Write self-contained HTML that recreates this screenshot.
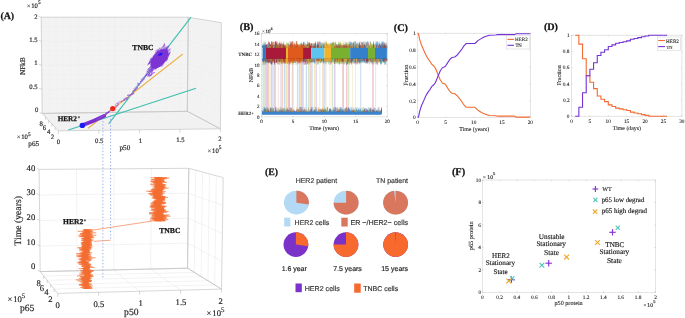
<!DOCTYPE html>
<html><head><meta charset="utf-8"><style>
html,body{margin:0;padding:0;background:#fff;width:685px;height:318px;overflow:hidden}
svg{display:block;filter:blur(0.35px)} text{text-rendering:geometricPrecision}
</style></head><body>
<svg width="685" height="318" viewBox="0 0 685 318">
<rect width="685" height="318" fill="#fff"/>
<polygon points="41.20,17.20 188.30,17.20 187.30,111.30 42.20,113.40" fill="#f3f3f3" stroke="none" stroke-width="1"/>
<polygon points="188.30,17.20 221.40,22.70 220.40,128.80 187.30,111.30" fill="#f3f3f3" stroke="none" stroke-width="1"/>
<polygon points="42.20,113.40 187.30,111.30 220.40,128.80 58.30,130.80" fill="#f3f3f3" stroke="none" stroke-width="1"/>
<line x1="48.56" y1="17.20" x2="49.46" y2="113.30" stroke="#efefef" stroke-width="0.5"/>
<line x1="55.91" y1="17.20" x2="56.71" y2="113.19" stroke="#efefef" stroke-width="0.5"/>
<line x1="63.27" y1="17.20" x2="63.97" y2="113.09" stroke="#efefef" stroke-width="0.5"/>
<line x1="70.62" y1="17.20" x2="71.22" y2="112.98" stroke="#efefef" stroke-width="0.5"/>
<line x1="77.98" y1="17.20" x2="78.48" y2="112.88" stroke="#eaeaea" stroke-width="0.5"/>
<line x1="85.33" y1="17.20" x2="85.73" y2="112.77" stroke="#efefef" stroke-width="0.5"/>
<line x1="92.69" y1="17.20" x2="92.99" y2="112.67" stroke="#efefef" stroke-width="0.5"/>
<line x1="100.04" y1="17.20" x2="100.24" y2="112.56" stroke="#efefef" stroke-width="0.5"/>
<line x1="107.40" y1="17.20" x2="107.50" y2="112.45" stroke="#efefef" stroke-width="0.5"/>
<line x1="114.75" y1="17.20" x2="114.75" y2="112.35" stroke="#eaeaea" stroke-width="0.5"/>
<line x1="122.11" y1="17.20" x2="122.01" y2="112.25" stroke="#efefef" stroke-width="0.5"/>
<line x1="129.46" y1="17.20" x2="129.26" y2="112.14" stroke="#efefef" stroke-width="0.5"/>
<line x1="136.82" y1="17.20" x2="136.52" y2="112.03" stroke="#efefef" stroke-width="0.5"/>
<line x1="144.17" y1="17.20" x2="143.77" y2="111.93" stroke="#efefef" stroke-width="0.5"/>
<line x1="151.53" y1="17.20" x2="151.03" y2="111.83" stroke="#eaeaea" stroke-width="0.5"/>
<line x1="158.88" y1="17.20" x2="158.28" y2="111.72" stroke="#efefef" stroke-width="0.5"/>
<line x1="166.24" y1="17.20" x2="165.54" y2="111.61" stroke="#efefef" stroke-width="0.5"/>
<line x1="173.59" y1="17.20" x2="172.79" y2="111.51" stroke="#efefef" stroke-width="0.5"/>
<line x1="180.94" y1="17.20" x2="180.05" y2="111.41" stroke="#efefef" stroke-width="0.5"/>
<line x1="41.25" y1="22.01" x2="188.25" y2="21.91" stroke="#efefef" stroke-width="0.5"/>
<line x1="41.30" y1="26.82" x2="188.20" y2="26.61" stroke="#efefef" stroke-width="0.5"/>
<line x1="41.35" y1="31.63" x2="188.15" y2="31.31" stroke="#efefef" stroke-width="0.5"/>
<line x1="41.40" y1="36.44" x2="188.10" y2="36.02" stroke="#efefef" stroke-width="0.5"/>
<line x1="41.45" y1="41.25" x2="188.05" y2="40.72" stroke="#eaeaea" stroke-width="0.5"/>
<line x1="41.50" y1="46.06" x2="188.00" y2="45.43" stroke="#efefef" stroke-width="0.5"/>
<line x1="41.55" y1="50.87" x2="187.95" y2="50.13" stroke="#efefef" stroke-width="0.5"/>
<line x1="41.60" y1="55.68" x2="187.90" y2="54.84" stroke="#efefef" stroke-width="0.5"/>
<line x1="41.65" y1="60.49" x2="187.85" y2="59.55" stroke="#efefef" stroke-width="0.5"/>
<line x1="41.70" y1="65.30" x2="187.80" y2="64.25" stroke="#eaeaea" stroke-width="0.5"/>
<line x1="41.75" y1="70.11" x2="187.75" y2="68.95" stroke="#efefef" stroke-width="0.5"/>
<line x1="41.80" y1="74.92" x2="187.70" y2="73.66" stroke="#efefef" stroke-width="0.5"/>
<line x1="41.85" y1="79.73" x2="187.65" y2="78.36" stroke="#efefef" stroke-width="0.5"/>
<line x1="41.90" y1="84.54" x2="187.60" y2="83.07" stroke="#efefef" stroke-width="0.5"/>
<line x1="41.95" y1="89.35" x2="187.55" y2="87.77" stroke="#eaeaea" stroke-width="0.5"/>
<line x1="42.00" y1="94.16" x2="187.50" y2="92.48" stroke="#efefef" stroke-width="0.5"/>
<line x1="42.05" y1="98.97" x2="187.45" y2="97.19" stroke="#efefef" stroke-width="0.5"/>
<line x1="42.10" y1="103.78" x2="187.40" y2="101.89" stroke="#efefef" stroke-width="0.5"/>
<line x1="42.15" y1="108.59" x2="187.35" y2="106.59" stroke="#efefef" stroke-width="0.5"/>
<line x1="190.85" y1="17.62" x2="189.85" y2="112.65" stroke="#efefef" stroke-width="0.5"/>
<line x1="193.39" y1="18.05" x2="192.39" y2="113.99" stroke="#efefef" stroke-width="0.5"/>
<line x1="195.94" y1="18.47" x2="194.94" y2="115.34" stroke="#efefef" stroke-width="0.5"/>
<line x1="198.48" y1="18.89" x2="197.48" y2="116.68" stroke="#efefef" stroke-width="0.5"/>
<line x1="201.03" y1="19.32" x2="200.03" y2="118.03" stroke="#efefef" stroke-width="0.5"/>
<line x1="203.58" y1="19.74" x2="202.58" y2="119.38" stroke="#efefef" stroke-width="0.5"/>
<line x1="206.12" y1="20.16" x2="205.12" y2="120.72" stroke="#efefef" stroke-width="0.5"/>
<line x1="208.67" y1="20.58" x2="207.67" y2="122.07" stroke="#efefef" stroke-width="0.5"/>
<line x1="211.22" y1="21.01" x2="210.22" y2="123.42" stroke="#efefef" stroke-width="0.5"/>
<line x1="213.76" y1="21.43" x2="212.76" y2="124.76" stroke="#efefef" stroke-width="0.5"/>
<line x1="216.31" y1="21.85" x2="215.31" y2="126.11" stroke="#efefef" stroke-width="0.5"/>
<line x1="218.85" y1="22.28" x2="217.85" y2="127.45" stroke="#efefef" stroke-width="0.5"/>
<line x1="188.25" y1="21.91" x2="221.35" y2="28.00" stroke="#efefef" stroke-width="0.5"/>
<line x1="188.20" y1="26.61" x2="221.30" y2="33.31" stroke="#efefef" stroke-width="0.5"/>
<line x1="188.15" y1="31.31" x2="221.25" y2="38.62" stroke="#efefef" stroke-width="0.5"/>
<line x1="188.10" y1="36.02" x2="221.20" y2="43.92" stroke="#efefef" stroke-width="0.5"/>
<line x1="188.05" y1="40.72" x2="221.15" y2="49.23" stroke="#eaeaea" stroke-width="0.5"/>
<line x1="188.00" y1="45.43" x2="221.10" y2="54.53" stroke="#efefef" stroke-width="0.5"/>
<line x1="187.95" y1="50.13" x2="221.05" y2="59.83" stroke="#efefef" stroke-width="0.5"/>
<line x1="187.90" y1="54.84" x2="221.00" y2="65.14" stroke="#efefef" stroke-width="0.5"/>
<line x1="187.85" y1="59.55" x2="220.95" y2="70.45" stroke="#efefef" stroke-width="0.5"/>
<line x1="187.80" y1="64.25" x2="220.90" y2="75.75" stroke="#eaeaea" stroke-width="0.5"/>
<line x1="187.75" y1="68.95" x2="220.85" y2="81.06" stroke="#efefef" stroke-width="0.5"/>
<line x1="187.70" y1="73.66" x2="220.80" y2="86.36" stroke="#efefef" stroke-width="0.5"/>
<line x1="187.65" y1="78.36" x2="220.75" y2="91.67" stroke="#efefef" stroke-width="0.5"/>
<line x1="187.60" y1="83.07" x2="220.70" y2="96.97" stroke="#efefef" stroke-width="0.5"/>
<line x1="187.55" y1="87.77" x2="220.65" y2="102.28" stroke="#eaeaea" stroke-width="0.5"/>
<line x1="187.50" y1="92.48" x2="220.60" y2="107.58" stroke="#efefef" stroke-width="0.5"/>
<line x1="187.45" y1="97.19" x2="220.55" y2="112.89" stroke="#efefef" stroke-width="0.5"/>
<line x1="187.40" y1="101.89" x2="220.50" y2="118.19" stroke="#efefef" stroke-width="0.5"/>
<line x1="187.35" y1="106.59" x2="220.45" y2="123.50" stroke="#efefef" stroke-width="0.5"/>
<line x1="49.46" y1="113.30" x2="66.41" y2="130.70" stroke="#efefef" stroke-width="0.5"/>
<line x1="56.71" y1="113.19" x2="74.51" y2="130.60" stroke="#efefef" stroke-width="0.5"/>
<line x1="63.97" y1="113.09" x2="82.61" y2="130.50" stroke="#efefef" stroke-width="0.5"/>
<line x1="71.22" y1="112.98" x2="90.72" y2="130.40" stroke="#efefef" stroke-width="0.5"/>
<line x1="78.48" y1="112.88" x2="98.83" y2="130.30" stroke="#eaeaea" stroke-width="0.5"/>
<line x1="85.73" y1="112.77" x2="106.93" y2="130.20" stroke="#efefef" stroke-width="0.5"/>
<line x1="92.99" y1="112.67" x2="115.03" y2="130.10" stroke="#efefef" stroke-width="0.5"/>
<line x1="100.24" y1="112.56" x2="123.14" y2="130.00" stroke="#efefef" stroke-width="0.5"/>
<line x1="107.50" y1="112.45" x2="131.25" y2="129.90" stroke="#efefef" stroke-width="0.5"/>
<line x1="114.75" y1="112.35" x2="139.35" y2="129.80" stroke="#eaeaea" stroke-width="0.5"/>
<line x1="122.01" y1="112.25" x2="147.46" y2="129.70" stroke="#efefef" stroke-width="0.5"/>
<line x1="129.26" y1="112.14" x2="155.56" y2="129.60" stroke="#efefef" stroke-width="0.5"/>
<line x1="136.52" y1="112.03" x2="163.67" y2="129.50" stroke="#efefef" stroke-width="0.5"/>
<line x1="143.77" y1="111.93" x2="171.77" y2="129.40" stroke="#efefef" stroke-width="0.5"/>
<line x1="151.03" y1="111.83" x2="179.88" y2="129.30" stroke="#eaeaea" stroke-width="0.5"/>
<line x1="158.28" y1="111.72" x2="187.98" y2="129.20" stroke="#efefef" stroke-width="0.5"/>
<line x1="165.54" y1="111.61" x2="196.09" y2="129.10" stroke="#efefef" stroke-width="0.5"/>
<line x1="172.79" y1="111.51" x2="204.19" y2="129.00" stroke="#efefef" stroke-width="0.5"/>
<line x1="180.05" y1="111.41" x2="212.30" y2="128.90" stroke="#efefef" stroke-width="0.5"/>
<line x1="43.44" y1="114.74" x2="189.85" y2="112.65" stroke="#efefef" stroke-width="0.5"/>
<line x1="44.68" y1="116.08" x2="192.39" y2="113.99" stroke="#efefef" stroke-width="0.5"/>
<line x1="45.92" y1="117.42" x2="194.94" y2="115.34" stroke="#efefef" stroke-width="0.5"/>
<line x1="47.15" y1="118.75" x2="197.48" y2="116.68" stroke="#efefef" stroke-width="0.5"/>
<line x1="48.39" y1="120.09" x2="200.03" y2="118.03" stroke="#efefef" stroke-width="0.5"/>
<line x1="49.63" y1="121.43" x2="202.58" y2="119.38" stroke="#efefef" stroke-width="0.5"/>
<line x1="50.87" y1="122.77" x2="205.12" y2="120.72" stroke="#efefef" stroke-width="0.5"/>
<line x1="52.11" y1="124.11" x2="207.67" y2="122.07" stroke="#efefef" stroke-width="0.5"/>
<line x1="53.35" y1="125.45" x2="210.22" y2="123.42" stroke="#efefef" stroke-width="0.5"/>
<line x1="54.58" y1="126.78" x2="212.76" y2="124.76" stroke="#efefef" stroke-width="0.5"/>
<line x1="55.82" y1="128.12" x2="215.31" y2="126.11" stroke="#efefef" stroke-width="0.5"/>
<line x1="57.06" y1="129.46" x2="217.85" y2="127.45" stroke="#efefef" stroke-width="0.5"/>
<polygon points="41.20,17.20 188.30,17.20 187.30,111.30 42.20,113.40" fill="none" stroke="#c4c4c4" stroke-width="0.7" stroke-linejoin="round"/>
<polygon points="188.30,17.20 221.40,22.70 220.40,128.80 187.30,111.30" fill="none" stroke="#c4c4c4" stroke-width="0.7" stroke-linejoin="round"/>
<polygon points="42.20,113.40 187.30,111.30 220.40,128.80 58.30,130.80" fill="none" stroke="#c4c4c4" stroke-width="0.7" stroke-linejoin="round"/>
<line x1="41.20" y1="17.20" x2="38.60" y2="16.30" stroke="#b0b0b0" stroke-width="0.5"/>
<line x1="41.45" y1="41.25" x2="38.85" y2="40.35" stroke="#b0b0b0" stroke-width="0.5"/>
<line x1="41.70" y1="65.30" x2="39.10" y2="64.40" stroke="#b0b0b0" stroke-width="0.5"/>
<line x1="41.95" y1="89.35" x2="39.35" y2="88.45" stroke="#b0b0b0" stroke-width="0.5"/>
<line x1="42.20" y1="113.40" x2="39.60" y2="112.50" stroke="#b0b0b0" stroke-width="0.5"/>
<line x1="58.30" y1="130.80" x2="58.30" y2="134.30" stroke="#b0b0b0" stroke-width="0.5"/>
<line x1="98.83" y1="130.30" x2="98.83" y2="133.80" stroke="#b0b0b0" stroke-width="0.5"/>
<line x1="139.35" y1="129.80" x2="139.35" y2="133.30" stroke="#b0b0b0" stroke-width="0.5"/>
<line x1="179.88" y1="129.30" x2="179.88" y2="132.80" stroke="#b0b0b0" stroke-width="0.5"/>
<line x1="220.40" y1="128.80" x2="220.40" y2="132.30" stroke="#b0b0b0" stroke-width="0.5"/>
<line x1="55.08" y1="127.32" x2="55.08" y2="130.32" stroke="#b0b0b0" stroke-width="0.5"/>
<line x1="51.86" y1="123.84" x2="51.86" y2="126.84" stroke="#b0b0b0" stroke-width="0.5"/>
<line x1="48.64" y1="120.36" x2="48.64" y2="123.36" stroke="#b0b0b0" stroke-width="0.5"/>
<line x1="45.42" y1="116.88" x2="45.42" y2="119.88" stroke="#b0b0b0" stroke-width="0.5"/>
<text x="34.27" y="18.90" style="font-family:'Liberation Serif',serif;font-size:6.70px" fill="#1e1e1e" stroke="#1e1e1e" stroke-width="0.16">2</text>
<text x="29.14" y="42.10" style="font-family:'Liberation Serif',serif;font-size:6.70px" fill="#1e1e1e" stroke="#1e1e1e" stroke-width="0.16">1.5</text>
<text x="34.30" y="65.30" style="font-family:'Liberation Serif',serif;font-size:6.70px" fill="#1e1e1e" stroke="#1e1e1e" stroke-width="0.16">1</text>
<text x="29.14" y="88.50" style="font-family:'Liberation Serif',serif;font-size:6.70px" fill="#1e1e1e" stroke="#1e1e1e" stroke-width="0.16">0.5</text>
<text x="35.07" y="111.60" style="font-family:'Liberation Serif',serif;font-size:6.70px" fill="#1e1e1e" stroke="#1e1e1e" stroke-width="0.16">0</text>
<text x="26.76" y="7.90" style="font-family:'Liberation Serif',serif;font-size:6.70px" fill="#1e1e1e" stroke="#1e1e1e" stroke-width="0.05">×</text>
<text x="31.25" y="7.90" style="font-family:'Liberation Serif',serif;font-size:6.70px" fill="#1e1e1e" stroke="#1e1e1e" stroke-width="0.16">10</text>
<text x="37.97" y="4.42" style="font-family:'Liberation Serif',serif;font-size:5.36px" fill="#1e1e1e" stroke="#1e1e1e" stroke-width="0.16">5</text>
<text x="25.20" y="74.97" style="font-family:'Liberation Serif',serif;font-size:7.26px" fill="#1e1e1e" stroke="#1e1e1e" stroke-width="0.16" transform="rotate(-90 25.20 74.97)">NFkB</text>
<text x="39.38" y="125.80" style="font-family:'Liberation Serif',serif;font-size:6.70px" fill="#1e1e1e" stroke="#1e1e1e" stroke-width="0.16">8</text>
<text x="42.75" y="130.10" style="font-family:'Liberation Serif',serif;font-size:6.70px" fill="#1e1e1e" stroke="#1e1e1e" stroke-width="0.16">6</text>
<text x="46.92" y="134.10" style="font-family:'Liberation Serif',serif;font-size:6.70px" fill="#1e1e1e" stroke="#1e1e1e" stroke-width="0.16">4</text>
<text x="50.75" y="139.10" style="font-family:'Liberation Serif',serif;font-size:6.70px" fill="#1e1e1e" stroke="#1e1e1e" stroke-width="0.16">2</text>
<text x="16.76" y="139.10" style="font-family:'Liberation Serif',serif;font-size:6.70px" fill="#1e1e1e" stroke="#1e1e1e" stroke-width="0.05">×</text>
<text x="21.25" y="139.10" style="font-family:'Liberation Serif',serif;font-size:6.70px" fill="#1e1e1e" stroke="#1e1e1e" stroke-width="0.16">10</text>
<text x="27.97" y="135.62" style="font-family:'Liberation Serif',serif;font-size:5.36px" fill="#1e1e1e" stroke="#1e1e1e" stroke-width="0.16">5</text>
<text x="28.34" y="146.20" style="font-family:'Liberation Serif',serif;font-size:7.20px" fill="#1e1e1e" stroke="#1e1e1e" stroke-width="0.16">p65</text>
<text x="56.78" y="143.70" style="font-family:'Liberation Serif',serif;font-size:6.70px" fill="#1e1e1e" stroke="#1e1e1e" stroke-width="0.16">0</text>
<text x="95.08" y="143.10" style="font-family:'Liberation Serif',serif;font-size:6.70px" fill="#1e1e1e" stroke="#1e1e1e" stroke-width="0.16">0.5</text>
<text x="138.75" y="142.60" style="font-family:'Liberation Serif',serif;font-size:6.70px" fill="#1e1e1e" stroke="#1e1e1e" stroke-width="0.16">1</text>
<text x="176.15" y="141.60" style="font-family:'Liberation Serif',serif;font-size:6.70px" fill="#1e1e1e" stroke="#1e1e1e" stroke-width="0.16">1.5</text>
<text x="218.35" y="140.80" style="font-family:'Liberation Serif',serif;font-size:6.70px" fill="#1e1e1e" stroke="#1e1e1e" stroke-width="0.16">2</text>
<text x="119.44" y="150.10" style="font-family:'Liberation Serif',serif;font-size:7.20px" fill="#1e1e1e" stroke="#1e1e1e" stroke-width="0.16">p50</text>
<text x="207.56" y="152.50" style="font-family:'Liberation Serif',serif;font-size:6.70px" fill="#1e1e1e" stroke="#1e1e1e" stroke-width="0.05">×</text>
<text x="212.05" y="152.50" style="font-family:'Liberation Serif',serif;font-size:6.70px" fill="#1e1e1e" stroke="#1e1e1e" stroke-width="0.16">10</text>
<text x="218.77" y="149.02" style="font-family:'Liberation Serif',serif;font-size:5.36px" fill="#1e1e1e" stroke="#1e1e1e" stroke-width="0.16">5</text>
<line x1="68.30" y1="130.00" x2="196.00" y2="88.20" stroke="#3dbfad" stroke-width="1.1"/>
<line x1="108.60" y1="123.80" x2="190.90" y2="17.40" stroke="#3dbfad" stroke-width="1.1"/>
<line x1="88.00" y1="128.40" x2="182.70" y2="54.10" stroke="#eda830" stroke-width="1.1"/>
<polyline points="101.09,119.43 100.95,118.59 102.34,116.85 105.07,116.62 104.10,116.53 105.94,115.24 106.24,113.78 106.17,113.66 106.09,112.09 106.61,112.62 108.70,111.94 109.71,110.42 110.36,111.23 111.89,109.65 111.64,107.99 112.26,107.27 112.15,109.68 112.16,108.85 115.15,107.29 115.98,107.49 117.23,106.25 116.47,105.36 116.83,105.30 117.72,105.75 117.46,103.24 119.00,101.79 122.28,100.95 121.03,102.08 123.49,100.21 123.61,100.84 123.15,100.40 124.50,99.48 124.50,100.32 126.87,97.34 127.23,99.85 126.06,98.77 126.72,99.48 127.97,97.31 128.22,96.82 128.91,95.71 131.57,94.28 127.11,95.39 130.87,95.34 131.17,94.40 132.01,94.94 131.67,93.27 134.18,93.62 131.90,94.77 133.84,91.68 132.44,92.02 133.11,90.33 133.05,90.37 135.57,89.97 133.62,90.49 135.34,90.19 136.72,88.81 135.87,88.46 135.34,88.64 137.95,87.73 136.86,86.87 136.73,85.92 137.42,85.42 137.75,84.29 138.82,85.29 137.82,82.72 139.21,85.31 138.91,83.42 139.42,83.98 139.46,83.82 140.37,83.30 141.03,81.79 139.96,80.99 141.34,81.81 142.08,80.19 142.51,81.32 142.29,79.64 142.36,80.37 143.48,78.41 143.62,78.43 142.90,79.58 144.60,77.42 144.21,78.13 143.85,77.18 145.31,75.28 145.29,77.16 145.81,74.76 146.00,74.65 146.58,75.44 146.62,73.67 146.25,74.59 146.33,73.73 147.96,72.50 150.01,72.28 150.15,69.86 146.55,72.03 149.50,70.33 149.24,68.36 149.08,68.61" fill="none" stroke="#8d4fe0" stroke-width="0.55" stroke-linejoin="round"/>
<ellipse cx="117" cy="104.5" rx="1.8" ry="1.26" fill="none" stroke="#9560e0" stroke-width="0.5" transform="rotate(-40 117 104.5)"/>
<ellipse cx="135.5" cy="88.5" rx="1.6" ry="1.1199999999999999" fill="none" stroke="#9560e0" stroke-width="0.5" transform="rotate(-40 135.5 88.5)"/>
<ellipse cx="143" cy="79" rx="1.7" ry="1.19" fill="none" stroke="#9560e0" stroke-width="0.5" transform="rotate(-40 143 79)"/>
<ellipse cx="149" cy="70.5" rx="2.0" ry="1.4" fill="none" stroke="#9560e0" stroke-width="0.5" transform="rotate(-40 149 70.5)"/>
<ellipse cx="125" cy="99" rx="1.4" ry="0.9799999999999999" fill="none" stroke="#9560e0" stroke-width="0.5" transform="rotate(-40 125 99)"/>
<path d="M82.3,125.3 C90,122.6 97,119.6 104.2,115.9" stroke="#7b2fd0" stroke-width="3.8" fill="none" stroke-linecap="round"/>
<path d="M97,119.8 L109,111.8" stroke="#8a45d8" stroke-width="1.4" fill="none" stroke-linecap="round"/>
<ellipse cx="159.4" cy="59.0" rx="11.6" ry="6.2" transform="rotate(-50 159.4 59.0)" fill="#7c30d2"/>
<polyline points="158.17,60.88 161.64,59.58 163.33,57.43 163.33,56.75 160.64,58.92 162.22,57.40 160.58,57.28 159.82,57.12 160.30,57.56 156.69,61.72 153.80,63.46 153.33,66.24 155.23,64.91 153.08,64.73 153.13,65.17 154.09,65.40 155.56,66.97 158.64,66.76 158.86,65.59 158.35,67.28 160.15,64.93 160.47,63.57 159.49,63.78 155.70,66.08 156.13,65.61 158.58,63.66 159.32,62.61 155.93,66.49 155.27,67.95 154.81,67.58 154.03,67.73 149.96,69.45 152.84,66.86 152.30,66.85 155.19,69.47 156.26,67.81 153.27,66.60 155.13,66.92 157.07,64.89 155.21,64.68 155.21,63.84 155.26,66.84 153.60,67.59 151.91,72.64 152.09,71.93 152.24,69.87 152.03,70.48 151.55,71.43 154.62,68.96 158.05,66.53 161.03,63.09 160.54,61.20 159.50,60.83 158.40,60.04 161.30,61.38 160.48,63.08 160.66,61.11 159.62,61.10 159.67,59.68 164.37,55.58 167.72,55.42 169.10,53.10 168.99,52.89 169.59,53.59 164.29,56.30 163.84,57.44 162.57,58.30 164.62,56.88 163.75,56.98 161.60,60.19 160.68,59.19 160.93,58.03 158.72,57.48 159.33,55.42 159.90,55.35 158.83,56.62 158.15,57.08 157.80,56.43 158.91,55.52 157.38,58.27 157.17,59.49 153.90,64.04 150.25,67.51 156.16,61.70 157.11,59.14 155.23,61.22 155.82,60.35 153.98,60.92 155.00,62.87 154.75,62.40 153.59,61.98 151.91,64.43 154.81,62.05 154.29,65.58 156.68,66.15 155.32,64.90 155.72,63.99 153.53,65.09 152.41,64.77 154.05,63.50 153.31,63.78 155.39,62.17 154.02,64.34 157.26,61.08 157.46,63.69 161.50,58.96 156.48,62.03 159.41,58.26 161.05,57.43 162.83,58.50 163.58,58.59 164.18,58.16 166.76,52.82 165.58,56.24 163.56,58.79 162.74,61.37 163.32,61.67 161.97,62.63 159.21,67.12 159.99,65.76 159.81,64.84 161.55,65.96 160.15,66.16 161.51,64.51 162.08,66.46 164.30,62.57 165.60,57.86 166.17,53.80 166.28,53.30 165.96,54.80 163.44,56.23 162.92,59.61 162.21,60.88 162.74,61.93 160.22,62.90 159.47,63.90 158.83,65.27 160.80,64.59 162.95,64.24 161.83,64.06 160.09,64.37 158.48,66.69 156.87,64.28 156.31,63.51 154.98,64.60 157.35,62.04 154.82,65.70 155.40,68.08 154.95,68.24 154.27,67.28 153.98,67.33 157.93,62.77 159.01,61.62 159.75,61.31 159.28,56.23 157.63,56.88 158.44,54.78 161.11,54.12 160.79,55.85 160.87,57.52 162.78,57.56 163.01,55.32 165.16,52.89 166.62,51.37 166.60,49.22 167.41,46.64 167.23,48.07 164.90,51.81 165.49,52.81 164.20,52.55 161.63,54.27 161.70,54.15 164.04,54.49 163.02,54.90 163.94,54.76 159.91,58.39 160.70,58.69 159.09,58.71 159.55,52.53 161.20,49.85 160.54,51.14 160.14,50.31 158.28,53.67 159.99,51.56 162.21,47.02 163.68,46.76 164.36,44.39 164.87,44.17 160.59,49.01 157.96,52.05 158.90,51.35 162.37,49.07 160.97,50.57 160.83,49.88 162.17,49.94 163.70,48.94 162.72,48.44 162.86,48.61 163.47,49.25 162.00,50.78 159.92,51.64 156.45,54.51 155.50,52.11 157.36,52.18 158.77,50.70 159.45,52.60 162.31,52.92 161.35,53.62 162.77,51.64 163.75,53.27 164.53,51.86 165.23,51.20 166.98,50.00 166.98,53.37 166.68,53.80 165.51,55.17 165.29,56.43 167.00,56.47 167.47,54.74 165.42,55.56 166.07,53.31 168.35,51.00 168.12,51.65 170.63,48.88 168.64,49.31 165.25,52.23 167.63,50.72 163.99,50.63 165.96,49.37 162.46,53.49 161.79,56.49 162.24,54.89 158.63,58.86 163.25,54.50 163.26,56.38 163.95,58.67 160.84,61.39 164.39,59.20 163.78,56.96 164.38,57.45 163.60,58.28 164.53,56.32 164.93,55.26 161.59,56.36 159.69,57.08 161.41,55.38 159.84,60.20 163.21,55.29 163.79,54.40 164.87,53.35 165.28,52.85 163.68,54.12 161.65,55.34 163.29,58.34 166.00,58.38 163.09,60.88 165.59,59.89 165.54,58.57 163.15,61.41 160.61,64.44 159.08,64.51 156.56,64.23 155.05,66.47 153.42,66.66 155.66,64.96 154.90,62.82 157.24,61.09 155.20,62.36 157.86,61.48 156.28,61.13 157.91,58.39 159.32,56.99 158.78,57.05 160.82,54.18 160.25,53.94 163.37,50.67 161.38,53.15 158.47,56.50 157.84,59.81 162.39,58.91 160.98,58.81 158.02,62.78 158.30,64.86 160.38,59.50 161.85,60.95 158.47,62.50 160.37,60.89 158.13,64.37 157.87,64.57 160.39,64.71 160.99,61.88 163.95,59.56 163.90,58.05 162.42,59.69 165.04,57.26 165.33,57.24 165.27,56.48 163.35,55.04 163.95,56.07 165.46,56.99 167.27,53.95 164.88,56.61 163.26,59.85 163.54,60.54 162.19,60.33 164.35,57.22 164.30,57.34 163.01,58.01 160.69,60.55 160.29,59.08 157.06,61.87 158.76,61.10 158.52,59.66 159.00,58.78 160.72,57.68 159.40,59.64 160.69,60.06 162.09,55.49 160.57,56.29 159.45,57.19 162.58,54.85 162.80,55.71 162.47,55.19 162.86,55.81 163.55,53.15 163.83,53.54 163.92,52.90 161.71,52.79 159.52,54.53 158.82,56.43 157.91,56.89 156.94,58.53 156.38,62.34 154.04,64.04 154.33,63.71 153.49,61.08 152.74,60.05 153.46,55.97 154.27,56.82 154.63,57.28 155.40,57.65 157.27,55.95 159.21,54.12 159.47,51.78 162.28,49.90 164.64,50.63 162.19,51.87 159.06,57.91 161.80,58.62 162.21,58.75 162.35,58.87 162.11,57.88 160.49,58.99 159.98,62.06 158.57,63.02 158.09,62.34 160.82,59.70 161.03,56.74 157.76,56.58 159.11,54.20 161.10,54.39 159.47,57.81 159.41,58.55 160.18,58.63 158.48,57.79 157.07,59.29 156.02,58.70 155.27,59.94 157.19,57.89 156.43,59.29 155.34,61.49 154.07,64.57 154.46,66.40 153.98,65.99 154.30,64.93 156.25,66.13 157.87,64.99 155.99,69.29 157.15,67.21 154.15,67.68 153.12,68.59 154.18,67.76 155.09,66.67 153.85,65.51 158.39,61.90 159.95,59.74 159.32,63.30 156.74,63.43 159.29,63.04 158.93,63.42 160.32,61.93 161.09,62.19 161.79,60.00 162.23,60.06 163.82,58.51 163.14,59.35 161.40,60.91 163.10,58.83 163.86,58.62 162.59,57.81 162.07,60.10 160.38,59.20 162.16,56.07 161.83,60.32 162.70,59.11 164.17,58.33 163.65,60.09 161.77,60.61 159.47,63.34 161.86,58.09 161.34,59.93 164.02,56.30 163.92,55.58 164.15,57.08 164.16,58.75 164.93,56.81 163.16,58.55 160.66,60.01 161.09,59.92 159.28,58.35 159.27,59.47 161.76,58.04 157.43,61.00 155.61,60.99 151.98,63.22 153.04,61.73 154.40,61.13 157.86,57.56 159.47,55.36 158.26,54.31 156.73,55.01 157.97,53.61 158.66,53.65 157.78,51.97 158.23,49.40 159.39,50.54 160.61,53.34 161.84,52.19 159.35,53.24 160.11,52.76 161.15,53.05 160.63,53.90 160.44,52.54 158.82,53.39 158.92,53.00 159.21,52.07 157.16,54.80 155.41,55.31 155.30,55.43 153.60,57.58 153.17,58.06 153.08,58.02 154.08,57.59 155.28,56.56 155.08,56.74 154.14,57.57 151.60,59.35 150.27,59.47 150.83,59.42 152.72,58.32 151.17,61.70 152.87,60.38 151.87,61.77 153.85,60.60 154.52,60.20 154.90,58.70 154.29,58.45 152.54,57.14 155.22,54.93 156.85,51.88 159.85,51.11 159.30,51.17 157.06,52.21 159.73,52.99 159.80,52.73 157.98,55.74 159.98,53.82 160.89,52.40 157.27,57.21 158.44,52.82 165.89,48.63 165.49,50.84 167.69,51.38 165.14,53.17 162.94,55.78 161.67,56.70 160.58,56.54 164.60,52.43 167.43,51.02 166.08,50.56 164.30,51.83 166.49,53.09 164.41,52.20 163.73,53.20 161.69,51.00 161.82,53.60 165.87,52.76 164.96,53.09 162.56,53.24 160.95,56.26 162.37,53.46 158.61,58.90 155.74,59.92 153.06,62.29 152.70,60.84 152.31,62.01 150.18,62.46 150.53,62.94 149.26,62.32 149.02,62.36 150.63,59.10 151.02,58.35 152.48,59.64 157.16,54.78 158.18,54.99 157.93,54.35 155.46,56.53 156.16,56.77 153.69,56.49 153.94,56.03 154.34,57.98 158.19,54.68 158.04,50.92 159.75,47.75 160.35,50.39 160.34,50.76 165.50,47.55 168.97,45.92 167.94,48.23 166.42,52.78 165.08,53.46 164.53,52.48 164.03,51.14 164.06,49.47 163.15,55.40 164.66,53.26 162.06,55.97 160.67,56.29 161.62,54.41 163.44,52.34 165.11,48.38 164.89,49.40 162.18,51.67 161.97,53.68 162.09,54.51 160.40,57.20 158.28,61.14 156.61,64.30 155.76,62.95 155.08,64.10 152.48,63.74 155.37,59.94 157.39,57.31 154.17,63.00 153.95,62.79 154.60,60.22 155.16,58.37 153.15,59.30 149.96,61.06 149.67,63.77 150.81,62.59 151.76,59.68 151.99,60.19 151.61,61.22 153.80,61.19 150.19,62.70 147.91,63.60 148.32,63.63 149.13,64.08 148.34,64.54 147.52,64.97 149.59,63.45 151.39,60.98 149.98,61.20 148.73,64.00 150.54,60.91 150.67,59.68 151.38,59.78 151.33,60.31 152.72,61.31 152.90,62.39 151.35,66.56 149.32,68.08 152.20,64.83 154.52,61.39 154.45,59.33 156.72,57.01 156.90,59.48 158.95,58.31 159.59,57.25 158.91,59.03 155.52,60.64 156.01,62.45 157.49,61.00 156.35,63.67 157.55,59.47 156.45,60.82 156.35,57.81 155.85,56.07 154.38,56.95 153.04,58.35 150.78,57.93 152.00,60.16 153.28,59.65 154.89,59.63 154.18,61.55 154.80,60.72 155.37,59.28 156.08,60.73 154.85,63.17 157.43,60.70 158.59,59.65 159.37,60.94 159.08,60.67 160.82,58.86 162.48,59.71 161.71,56.59 165.25,51.96 166.15,53.29 167.83,52.84 165.34,53.02 166.29,51.60 163.80,56.36 163.22,55.72 161.84,59.25 164.90,56.64 165.44,54.04 167.23,53.36 170.09,52.92 169.63,53.60 168.05,55.42 167.63,54.56 168.74,54.10 166.74,56.90 167.50,55.08 167.16,54.39 163.65,58.70 163.34,56.43 169.64,52.39 168.53,55.45 168.70,55.23 166.57,58.95 165.21,58.13 165.94,59.29 164.63,60.76 164.85,60.40 167.55,58.32 169.17,54.83 166.81,55.34 167.04,56.80 165.16,60.59 166.04,58.50 166.64,60.24 168.56,54.94 170.40,51.84 169.55,50.59 167.87,51.12 168.38,50.32 166.41,49.26 166.36,48.17 165.61,49.27 165.77,47.53 166.85,47.84 165.70,50.75 165.53,52.39 162.35,55.69 160.70,58.02 159.39,62.49 158.14,60.88 161.21,58.34 159.51,61.42 158.95,62.05 156.20,64.29 158.55,63.64 158.72,63.46 160.49,61.65 161.00,61.93 161.03,64.43 158.82,66.33 159.40,64.39 160.35,61.15 157.62,60.04 159.37,59.63 157.28,61.53 158.48,59.97 159.78,61.64 159.34,60.37 161.39,58.55 157.77,61.33 155.66,62.78 155.02,60.88 155.00,60.89 153.92,60.47 152.16,62.31 152.31,61.42 153.04,60.24 153.15,57.29 155.73,55.38 155.84,54.34 159.97,53.71 163.71,55.43 163.27,59.61 162.30,60.14 163.58,60.84 164.43,59.44 163.91,60.26 164.94,57.78 164.27,59.56 166.32,58.28 163.26,58.72 163.58,55.20 162.99,56.78 165.48,55.23 164.25,55.75 161.43,55.11 163.63,53.07 162.31,51.70 162.77,53.21 163.79,52.78 159.71,55.82 159.60,58.46 161.25,55.37 162.23,55.94 162.21,55.81 160.60,57.80 162.44,57.73 162.43,58.96 162.04,56.59 161.91,56.58 161.35,55.23 157.74,59.54 154.34,63.12 154.51,62.37 155.16,60.58 153.42,62.36 153.21,62.38 151.20,64.65 152.78,66.28 151.48,67.69 152.89,67.09 153.11,68.50 155.10,64.81 156.57,64.18 156.99,63.32 158.98,59.45 159.19,58.28 159.33,56.40 158.49,58.15 158.50,60.69 160.22,63.40 158.91,60.78 156.48,60.91 157.17,61.21 159.84,59.55 160.52,57.67 159.10,58.99 155.64,59.84 154.51,59.35 155.70,57.22 158.10,53.72 156.47,53.40 156.01,55.69 156.22,58.35 156.73,57.13 155.70,58.82 156.23,59.70 156.78,57.70 156.72,57.01 155.70,56.17 157.09,54.31 157.38,55.15 156.68,53.32 158.81,51.65 157.55,52.06 159.37,51.72 157.33,53.53 157.37,53.95 156.21,56.25 157.75,52.90 158.52,51.24 156.98,50.95 157.70,49.67 156.26,50.12 155.78,52.31 157.60,51.72 153.42,55.58 156.99,55.54 156.28,53.84 154.92,56.39 152.19,58.54 152.78,58.30 154.32,54.93 155.06,53.63 155.92,56.71 156.41,55.07 155.89,56.92 157.11,56.85 157.46,57.89 154.60,59.71 153.56,61.01 155.20,61.46 157.11,61.02 159.79,60.35 159.36,59.90 160.78,59.53 163.47,60.10 162.91,60.42 162.40,62.82 162.94,60.76 163.23,59.41 164.46,60.53 162.34,61.48 164.23,60.50 166.19,61.57 167.67,58.56 166.27,58.97 167.65,57.80 166.32,60.75 167.00,58.42 162.99,57.61 163.09,57.82 165.80,56.64 162.59,59.03 163.07,58.02 160.72,59.35 159.11,61.62 156.12,64.03 153.37,66.90 153.42,70.06 151.11,71.19 149.30,73.11 148.16,75.17 148.93,73.81 148.51,74.49 149.88,72.97 150.28,71.81 150.36,71.03 152.69,69.92 151.33,68.47 150.76,70.15 150.82,69.58 150.44,71.10 152.99,68.13 151.00,70.29 154.78,68.15 153.58,67.98 157.15,64.25 151.93,65.46 153.50,63.54 151.89,64.12 151.80,62.59 151.75,62.81 152.60,61.89 150.60,65.20 152.21,65.09 152.02,64.83 148.03,69.75 150.00,70.59 149.01,71.62 145.48,75.99 148.70,73.93 149.34,73.82 150.50,75.81 149.74,76.76 150.75,74.98 147.42,76.56 149.56,73.73 150.76,74.92 150.94,74.46 154.91,72.26 151.66,74.21 151.88,72.02 151.60,73.09 151.06,73.58 151.38,73.92 151.69,75.38 151.79,74.90 148.28,76.03 151.10,71.28 151.91,69.28 152.16,67.26 153.01,68.05 155.02,64.31 154.08,63.90 153.60,63.32 151.88,66.60 154.32,63.58 152.83,64.80 155.75,63.25 155.43,63.22 155.64,64.35 157.09,60.56 157.70,61.46 157.74,62.14 158.62,62.49 160.79,62.26 163.80,59.51 162.73,58.97 162.20,61.37 162.63,60.21" fill="none" stroke="#7d36d4" stroke-width="0.45" stroke-linejoin="round"/>
<polyline points="163.50,48.00 164.30,43.50 165.00,47.00 163.20,50.00" fill="none" stroke="#8a45d8" stroke-width="0.5" stroke-linejoin="round"/>
<polyline points="150.00,67.00 147.50,69.50 151.00,70.50 154.00,68.00" fill="none" stroke="#9a60e0" stroke-width="0.5" stroke-linejoin="round"/>
<ellipse cx="160.4" cy="54.4" rx="2.3" ry="1.2" transform="rotate(-25 160.4 54.4)" fill="#1818f8"/>
<circle cx="112.8" cy="108.6" r="2.7" fill="#ee2a1e"/>
<circle cx="82.3" cy="125.4" r="2.7" fill="#1a1af5"/>
<text x="132.34" y="49.80" style="font-family:'Liberation Serif',serif;font-weight:bold;font-size:7.60px" fill="#141414" stroke="#141414" stroke-width="0.25">TNBC</text>
<text x="57.64" y="120.80" style="font-family:'Liberation Serif',serif;font-weight:bold;font-size:7.26px" fill="#141414" stroke="#141414" stroke-width="0.25">HER2</text>
<line x1="77.80" y1="117.20" x2="80.00" y2="117.20" stroke="#222" stroke-width="0.65"/>
<line x1="78.90" y1="116.10" x2="78.90" y2="118.30" stroke="#222" stroke-width="0.65"/>
<polygon points="39.10,169.40 188.80,168.30 187.50,268.20 40.20,271.60" fill="#ffffff" stroke="none" stroke-width="1"/>
<polygon points="188.80,168.30 223.20,177.60 221.50,289.10 187.50,268.20" fill="#ffffff" stroke="none" stroke-width="1"/>
<polygon points="40.20,271.60 187.50,268.20 221.50,289.10 57.70,293.40" fill="#ffffff" stroke="none" stroke-width="1"/>
<line x1="76.53" y1="169.12" x2="77.03" y2="270.75" stroke="#e6e6e6" stroke-width="0.5"/>
<line x1="113.95" y1="168.85" x2="113.85" y2="269.90" stroke="#e6e6e6" stroke-width="0.5"/>
<line x1="151.38" y1="168.58" x2="150.68" y2="269.05" stroke="#e6e6e6" stroke-width="0.5"/>
<line x1="39.38" y1="194.95" x2="188.48" y2="193.28" stroke="#e6e6e6" stroke-width="0.5"/>
<line x1="39.65" y1="220.50" x2="188.15" y2="218.25" stroke="#e6e6e6" stroke-width="0.5"/>
<line x1="39.93" y1="246.05" x2="187.82" y2="243.22" stroke="#e6e6e6" stroke-width="0.5"/>
<line x1="195.68" y1="170.16" x2="194.30" y2="272.38" stroke="#e6e6e6" stroke-width="0.5"/>
<line x1="202.56" y1="172.02" x2="201.10" y2="276.56" stroke="#e6e6e6" stroke-width="0.5"/>
<line x1="209.44" y1="173.88" x2="207.90" y2="280.74" stroke="#e6e6e6" stroke-width="0.5"/>
<line x1="216.32" y1="175.74" x2="214.70" y2="284.92" stroke="#e6e6e6" stroke-width="0.5"/>
<line x1="188.48" y1="193.28" x2="222.77" y2="205.47" stroke="#e6e6e6" stroke-width="0.5"/>
<line x1="188.15" y1="218.25" x2="222.35" y2="233.35" stroke="#e6e6e6" stroke-width="0.5"/>
<line x1="187.82" y1="243.22" x2="221.93" y2="261.23" stroke="#e6e6e6" stroke-width="0.5"/>
<line x1="77.03" y1="270.75" x2="98.65" y2="292.32" stroke="#e6e6e6" stroke-width="0.5"/>
<line x1="113.85" y1="269.90" x2="139.60" y2="291.25" stroke="#e6e6e6" stroke-width="0.5"/>
<line x1="150.68" y1="269.05" x2="180.55" y2="290.18" stroke="#e6e6e6" stroke-width="0.5"/>
<line x1="43.70" y1="275.96" x2="194.30" y2="272.38" stroke="#e6e6e6" stroke-width="0.5"/>
<line x1="47.20" y1="280.32" x2="201.10" y2="276.56" stroke="#e6e6e6" stroke-width="0.5"/>
<line x1="50.70" y1="284.68" x2="207.90" y2="280.74" stroke="#e6e6e6" stroke-width="0.5"/>
<line x1="54.20" y1="289.04" x2="214.70" y2="284.92" stroke="#e6e6e6" stroke-width="0.5"/>
<polygon points="39.10,169.40 188.80,168.30 187.50,268.20 40.20,271.60" fill="none" stroke="#c6c6c6" stroke-width="0.7" stroke-linejoin="round"/>
<polygon points="188.80,168.30 223.20,177.60 221.50,289.10 187.50,268.20" fill="none" stroke="#c6c6c6" stroke-width="0.7" stroke-linejoin="round"/>
<polygon points="40.20,271.60 187.50,268.20 221.50,289.10 57.70,293.40" fill="none" stroke="#c6c6c6" stroke-width="0.7" stroke-linejoin="round"/>
<line x1="39.10" y1="169.40" x2="36.30" y2="167.90" stroke="#b0b0b0" stroke-width="0.5"/>
<line x1="39.38" y1="194.95" x2="36.58" y2="193.45" stroke="#b0b0b0" stroke-width="0.5"/>
<line x1="39.65" y1="220.50" x2="36.85" y2="219.00" stroke="#b0b0b0" stroke-width="0.5"/>
<line x1="39.93" y1="246.05" x2="37.13" y2="244.55" stroke="#b0b0b0" stroke-width="0.5"/>
<line x1="40.20" y1="271.60" x2="37.40" y2="270.10" stroke="#b0b0b0" stroke-width="0.5"/>
<line x1="57.70" y1="293.40" x2="57.70" y2="296.90" stroke="#b0b0b0" stroke-width="0.5"/>
<line x1="98.65" y1="292.32" x2="98.65" y2="295.82" stroke="#b0b0b0" stroke-width="0.5"/>
<line x1="139.60" y1="291.25" x2="139.60" y2="294.75" stroke="#b0b0b0" stroke-width="0.5"/>
<line x1="180.55" y1="290.18" x2="180.55" y2="293.68" stroke="#b0b0b0" stroke-width="0.5"/>
<line x1="221.50" y1="289.10" x2="221.50" y2="292.60" stroke="#b0b0b0" stroke-width="0.5"/>
<line x1="54.20" y1="289.04" x2="54.20" y2="292.04" stroke="#b0b0b0" stroke-width="0.5"/>
<line x1="50.70" y1="284.68" x2="50.70" y2="287.68" stroke="#b0b0b0" stroke-width="0.5"/>
<line x1="47.20" y1="280.32" x2="47.20" y2="283.32" stroke="#b0b0b0" stroke-width="0.5"/>
<line x1="43.70" y1="275.96" x2="43.70" y2="278.96" stroke="#b0b0b0" stroke-width="0.5"/>
<text x="26.59" y="170.50" style="font-family:'Liberation Serif',serif;font-size:8.60px" fill="#1e1e1e" stroke="#1e1e1e" stroke-width="0.16">40</text>
<text x="26.59" y="195.18" style="font-family:'Liberation Serif',serif;font-size:8.60px" fill="#1e1e1e" stroke="#1e1e1e" stroke-width="0.16">30</text>
<text x="26.59" y="219.86" style="font-family:'Liberation Serif',serif;font-size:8.60px" fill="#1e1e1e" stroke="#1e1e1e" stroke-width="0.16">20</text>
<text x="26.59" y="244.54" style="font-family:'Liberation Serif',serif;font-size:8.60px" fill="#1e1e1e" stroke="#1e1e1e" stroke-width="0.16">10</text>
<text x="30.89" y="269.22" style="font-family:'Liberation Serif',serif;font-size:8.60px" fill="#1e1e1e" stroke="#1e1e1e" stroke-width="0.16">0</text>
<text x="21.00" y="245.64" style="font-family:'Liberation Serif',serif;font-size:9.72px" fill="#1e1e1e" stroke="#1e1e1e" stroke-width="0.16" transform="rotate(-90 21.00 245.64)">Time (years)</text>
<text x="36.51" y="285.70" style="font-family:'Liberation Serif',serif;font-size:8.60px" fill="#1e1e1e" stroke="#1e1e1e" stroke-width="0.16">8</text>
<text x="39.86" y="290.80" style="font-family:'Liberation Serif',serif;font-size:8.60px" fill="#1e1e1e" stroke="#1e1e1e" stroke-width="0.16">6</text>
<text x="44.28" y="295.40" style="font-family:'Liberation Serif',serif;font-size:8.60px" fill="#1e1e1e" stroke="#1e1e1e" stroke-width="0.16">4</text>
<text x="48.36" y="302.20" style="font-family:'Liberation Serif',serif;font-size:8.60px" fill="#1e1e1e" stroke="#1e1e1e" stroke-width="0.16">2</text>
<text x="7.41" y="302.10" style="font-family:'Liberation Serif',serif;font-size:8.60px" fill="#1e1e1e" stroke="#1e1e1e" stroke-width="0.05">×</text>
<text x="13.17" y="302.10" style="font-family:'Liberation Serif',serif;font-size:8.60px" fill="#1e1e1e" stroke="#1e1e1e" stroke-width="0.16">10</text>
<text x="21.79" y="297.63" style="font-family:'Liberation Serif',serif;font-size:6.88px" fill="#1e1e1e" stroke="#1e1e1e" stroke-width="0.16">5</text>
<text x="19.91" y="311.30" style="font-family:'Liberation Serif',serif;font-size:9.60px" fill="#1e1e1e" stroke="#1e1e1e" stroke-width="0.16">p65</text>
<text x="55.51" y="307.80" style="font-family:'Liberation Serif',serif;font-size:8.60px" fill="#1e1e1e" stroke="#1e1e1e" stroke-width="0.16">0</text>
<text x="93.51" y="306.70" style="font-family:'Liberation Serif',serif;font-size:8.60px" fill="#1e1e1e" stroke="#1e1e1e" stroke-width="0.16">0.5</text>
<text x="138.48" y="305.90" style="font-family:'Liberation Serif',serif;font-size:8.60px" fill="#1e1e1e" stroke="#1e1e1e" stroke-width="0.16">1</text>
<text x="175.58" y="305.20" style="font-family:'Liberation Serif',serif;font-size:8.60px" fill="#1e1e1e" stroke="#1e1e1e" stroke-width="0.16">1.5</text>
<text x="218.56" y="304.00" style="font-family:'Liberation Serif',serif;font-size:8.60px" fill="#1e1e1e" stroke="#1e1e1e" stroke-width="0.16">2</text>
<text x="124.11" y="314.60" style="font-family:'Liberation Serif',serif;font-size:9.60px" fill="#1e1e1e" stroke="#1e1e1e" stroke-width="0.16">p50</text>
<text x="206.61" y="316.00" style="font-family:'Liberation Serif',serif;font-size:8.60px" fill="#1e1e1e" stroke="#1e1e1e" stroke-width="0.05">×</text>
<text x="212.37" y="316.00" style="font-family:'Liberation Serif',serif;font-size:8.60px" fill="#1e1e1e" stroke="#1e1e1e" stroke-width="0.16">10</text>
<text x="220.99" y="311.53" style="font-family:'Liberation Serif',serif;font-size:6.88px" fill="#1e1e1e" stroke="#1e1e1e" stroke-width="0.16">5</text>
<polyline points="91.09,229.50 83.78,229.56 92.39,229.62 83.05,229.68 86.53,229.74 86.85,229.80 86.08,229.85 84.45,229.91 87.73,229.97 86.97,230.03 83.99,230.09 88.00,230.15 87.29,230.21 86.48,230.27 92.63,230.33 93.22,230.39 88.85,230.45 90.68,230.51 88.35,230.56 85.79,230.62 85.38,230.68 86.59,230.74 82.35,230.80 85.08,230.86 90.41,230.92 85.88,230.98 84.95,231.04 89.68,231.10 88.78,231.16 87.85,231.22 88.26,231.27 77.72,231.33 87.75,231.39 85.64,231.45 91.84,231.51 85.53,231.57 89.00,231.63 93.09,231.69 90.44,231.75 88.20,231.81 89.48,231.87 83.92,231.93 82.43,231.98 82.37,232.04 92.33,232.10 86.03,232.16 84.66,232.22 88.88,232.28 85.82,232.34 90.00,232.40 83.75,232.46 86.59,232.52 90.22,232.58 88.36,232.64 88.79,232.69 82.33,232.75 84.13,232.81 96.21,232.87 86.71,232.93 88.08,232.99 82.83,233.05 84.95,233.11 89.70,233.17 85.53,233.23 87.10,233.29 87.18,233.35 79.94,233.40 88.34,233.46 82.39,233.52 86.04,233.58 91.59,233.64 86.02,233.70 87.89,233.76 87.82,233.82 92.61,233.88 85.99,233.94 86.54,234.00 87.20,234.06 88.97,234.11 90.55,234.17 86.57,234.23 80.28,234.29 81.07,234.35 87.22,234.41 89.49,234.47 92.07,234.53 92.51,234.59 88.27,234.65 89.07,234.71 85.75,234.77 87.04,234.82 86.71,234.88 84.68,234.94 78.38,235.00 91.61,235.06 85.94,235.12 89.28,235.18 86.64,235.24 96.33,235.30 87.72,235.36 89.88,235.42 83.60,235.48 86.70,235.53 84.21,235.59 86.48,235.65 88.10,235.71 87.98,235.77 92.06,235.83 82.20,235.89 87.56,235.95 89.25,236.01 80.17,236.07 88.53,236.13 86.58,236.18 82.92,236.24 82.37,236.30 80.49,236.36 81.35,236.42 93.47,236.48 88.93,236.54 78.58,236.60 86.16,236.66 88.76,236.72 87.23,236.78 85.56,236.84 93.35,236.89 82.20,236.95 91.41,237.01 84.05,237.07 90.14,237.13 83.69,237.19 85.31,237.25 92.55,237.31 90.44,237.37 90.66,237.43 89.57,237.49 85.24,237.55 88.12,237.60 88.34,237.66 87.98,237.72 94.19,237.78 88.03,237.84 84.94,237.90 87.66,237.96 88.53,238.02 85.04,238.08 87.78,238.14 89.29,238.20 89.31,238.26 88.54,238.31 81.39,238.37 87.06,238.43 90.41,238.49 86.42,238.55 81.27,238.61 84.50,238.67 88.31,238.73 91.57,238.79 82.55,238.85 89.19,238.91 84.06,238.97 85.47,239.02 85.20,239.08 91.06,239.14 92.34,239.20 87.14,239.26 89.75,239.32 86.12,239.38 89.16,239.44 89.09,239.50 83.71,239.56 89.39,239.62 86.54,239.68 90.77,239.73 83.98,239.79 91.16,239.85 89.15,239.91 91.33,239.97 86.50,240.03 84.17,240.09 93.54,240.15 81.45,240.21 86.01,240.27 81.13,240.33 86.24,240.39 87.28,240.44 85.50,240.50 87.77,240.56 91.73,240.62 84.37,240.68 86.18,240.74 86.20,240.80 86.47,240.86 88.15,240.92 82.88,240.98 86.22,241.04 90.13,241.10 92.23,241.15 85.70,241.21 89.13,241.27 90.35,241.33 89.37,241.39 90.08,241.45 86.96,241.51 86.44,241.57 90.63,241.63 90.82,241.69 83.21,241.75 86.51,241.81 89.74,241.86 88.37,241.92 87.12,241.98 89.65,242.04 84.91,242.10 82.61,242.16 87.96,242.22 88.24,242.28 84.18,242.34 82.04,242.40 89.61,242.46 81.32,242.52 87.38,242.57 91.51,242.63 86.82,242.69 89.59,242.75 83.45,242.81 82.47,242.87 88.27,242.93 80.82,242.99 85.71,243.05 81.21,243.11 88.34,243.17 85.56,243.22 84.75,243.28 84.42,243.34 89.16,243.40 86.75,243.46 91.65,243.52 90.70,243.58 88.10,243.64 87.43,243.70 83.27,243.76 91.51,243.82 86.17,243.88 82.31,243.93 87.84,243.99 85.91,244.05 82.95,244.11 88.66,244.17 81.71,244.23 87.25,244.29 91.99,244.35 87.10,244.41 87.04,244.47 83.93,244.53 88.36,244.59 91.63,244.64 89.07,244.70 87.49,244.76 88.27,244.82 81.78,244.88 87.88,244.94 85.86,245.00 89.10,245.06 90.96,245.12 85.66,245.18 90.47,245.24 87.39,245.30 83.01,245.35 84.96,245.41 85.91,245.47 92.24,245.53 89.93,245.59 86.47,245.65 82.32,245.71 84.80,245.77 85.28,245.83 84.94,245.89 82.18,245.95 88.84,246.01 81.99,246.06 89.68,246.12 86.93,246.18 87.75,246.24 80.94,246.30 88.64,246.36 89.71,246.42 87.29,246.48 90.89,246.54 88.24,246.60 83.13,246.66 84.58,246.72 89.40,246.77 88.49,246.83 92.60,246.89 86.78,246.95 86.37,247.01 83.84,247.07 83.91,247.13 82.95,247.19 81.84,247.25 87.66,247.31 82.03,247.37 81.92,247.43 91.41,247.48 83.84,247.54 80.12,247.60 77.45,247.66 83.47,247.72 85.30,247.78 91.21,247.84 88.01,247.90 83.18,247.96 90.88,248.02 81.30,248.08 78.48,248.14 81.44,248.19 84.95,248.25 81.65,248.31 84.78,248.37 87.54,248.43 87.14,248.49 86.58,248.55 85.54,248.61 86.82,248.67 86.91,248.73 88.22,248.79 89.07,248.85 82.29,248.90 88.75,248.96 87.57,249.02 79.47,249.08 85.28,249.14 83.49,249.20 79.33,249.26 87.83,249.32 84.52,249.38 81.01,249.44 91.15,249.50 85.72,249.55 88.38,249.61 86.50,249.67 83.89,249.73 83.76,249.79 80.66,249.85 84.39,249.91 84.30,249.97 84.72,250.03 88.26,250.09 89.26,250.15 81.59,250.21 83.45,250.26 88.38,250.32 88.25,250.38 85.58,250.44 84.39,250.50 86.99,250.56 83.72,250.62 79.22,250.68 80.77,250.74 88.65,250.80 86.22,250.86 89.35,250.92 90.08,250.97 85.17,251.03 87.66,251.09 82.30,251.15 89.33,251.21 85.65,251.27 84.86,251.33 84.07,251.39 87.86,251.45 88.49,251.51 83.60,251.57 89.37,251.63 89.29,251.68 88.74,251.74 89.52,251.80 89.13,251.86 86.91,251.92 88.86,251.98 88.74,252.04 82.45,252.10 87.23,252.16 83.58,252.22 82.37,252.28 84.54,252.34 79.85,252.39 90.36,252.45 85.10,252.51 84.94,252.57 83.20,252.63 82.31,252.69 85.10,252.75 92.25,252.81 81.86,252.87 87.46,252.93 85.32,252.99 84.31,253.05 85.02,253.10 84.55,253.16 89.14,253.22 87.85,253.28 83.10,253.34 82.06,253.40 85.76,253.46 86.96,253.52 76.13,253.58 83.49,253.64 82.58,253.70 81.65,253.76 86.60,253.81 87.49,253.87 85.81,253.93 77.68,253.99 87.28,254.05 90.11,254.11 90.70,254.17 89.16,254.23 80.35,254.29 89.80,254.35 82.67,254.41 82.46,254.47 88.91,254.52 82.79,254.58 86.74,254.64 90.36,254.70 83.38,254.76 90.65,254.82 89.81,254.88 89.57,254.94 87.28,255.00 87.18,255.06 88.87,255.12 83.53,255.18 85.46,255.23 81.94,255.29 76.30,255.35 84.78,255.41 88.07,255.47 86.43,255.53 87.73,255.59 79.89,255.65 81.32,255.71 87.58,255.77 87.35,255.83 82.87,255.88 85.71,255.94 81.98,256.00 78.07,256.06 82.29,256.12 91.91,256.18 84.16,256.24 89.61,256.30 82.52,256.36 87.58,256.42 86.36,256.48 78.58,256.54 83.77,256.59 76.57,256.65 87.17,256.71 90.85,256.77 88.45,256.83 84.45,256.89 82.32,256.95 84.65,257.01 85.52,257.07 83.29,257.13 82.08,257.19 84.04,257.25 85.67,257.30 88.18,257.36 87.53,257.42 84.55,257.48 82.84,257.54 81.17,257.60 84.39,257.66 88.20,257.72 95.49,257.78 83.62,257.84 83.93,257.90 86.20,257.96 88.45,258.01 86.23,258.07 86.45,258.13 92.40,258.19 84.51,258.25 90.56,258.31 78.72,258.37 84.35,258.43 84.83,258.49 82.78,258.55 83.88,258.61 84.37,258.67 86.27,258.72 83.13,258.78 84.66,258.84 85.30,258.90 80.15,258.96 82.69,259.02 86.25,259.08 89.14,259.14 80.33,259.20 90.03,259.26 87.08,259.32 85.65,259.38 78.52,259.43 88.33,259.49 85.06,259.55 83.94,259.61 85.82,259.67 80.94,259.73 92.18,259.79 83.12,259.85 82.82,259.91 91.10,259.97 87.38,260.03 88.80,260.09 87.87,260.14 90.76,260.20 90.89,260.26 88.45,260.32 83.25,260.38 84.00,260.44 83.12,260.50 82.36,260.56 85.05,260.62 81.86,260.68 82.75,260.74 81.32,260.80 83.25,260.85 83.64,260.91 82.56,260.97 81.38,261.03 85.46,261.09 81.89,261.15 86.02,261.21 83.98,261.27 85.47,261.33 85.85,261.39 86.33,261.45 82.11,261.51 89.91,261.56 87.00,261.62 85.32,261.68 83.59,261.74 79.54,261.80 84.47,261.86 85.10,261.92 80.49,261.98 78.04,262.04 80.67,262.10 85.11,262.16 85.32,262.22 80.86,262.27 82.47,262.33 86.62,262.39 78.93,262.45 84.15,262.51 83.72,262.57 87.69,262.63 88.76,262.69 85.31,262.75 77.16,262.81 86.46,262.87 87.07,262.92 84.65,262.98 88.04,263.04 84.79,263.10 88.47,263.16 83.58,263.22 78.66,263.28 85.00,263.34 82.73,263.40 82.39,263.46 81.77,263.52 84.97,263.58 86.64,263.63 87.97,263.69 82.86,263.75 83.89,263.81 89.58,263.87 88.40,263.93 90.12,263.99 82.11,264.05 87.38,264.11 82.32,264.17 81.23,264.23 89.02,264.29 88.94,264.34 78.76,264.40 83.10,264.46 84.13,264.52 84.40,264.58 81.78,264.64 80.49,264.70 88.39,264.76 87.46,264.82 90.80,264.88 91.33,264.94 83.75,265.00 88.46,265.05 85.21,265.11 85.65,265.17 87.06,265.23 87.79,265.29 84.93,265.35 89.13,265.41 86.02,265.47 85.71,265.53 88.84,265.59 82.10,265.65 87.81,265.71 89.46,265.76 89.75,265.82 84.05,265.88 81.30,265.94 85.44,266.00 84.79,266.06 88.39,266.12 82.20,266.18 83.53,266.24 87.76,266.30 81.59,266.36 86.26,266.42 86.22,266.47 87.47,266.53 90.28,266.59 85.71,266.65 85.87,266.71 92.36,266.77 84.33,266.83 89.99,266.89 84.06,266.95 82.70,267.01 87.83,267.07 85.12,267.13 86.59,267.18 86.69,267.24 89.02,267.30 84.16,267.36 94.43,267.42 91.51,267.48 84.75,267.54 87.33,267.60 84.65,267.66 89.93,267.72 87.51,267.78 88.24,267.84 85.92,267.89 82.66,267.95 88.65,268.01 84.08,268.07 86.39,268.13 89.72,268.19 86.04,268.25 89.29,268.31 83.46,268.37 87.91,268.43 84.48,268.49 81.37,268.55 86.01,268.60 78.66,268.66 82.49,268.72 88.56,268.78 88.15,268.84 87.38,268.90 86.91,268.96 87.58,269.02 86.78,269.08 86.43,269.14 82.92,269.20 84.88,269.25 85.96,269.31 88.50,269.37 85.67,269.43 83.53,269.49 84.92,269.55 85.74,269.61 89.61,269.67 87.91,269.73 83.14,269.79 83.20,269.85 85.73,269.91 86.16,269.96 84.76,270.02 85.23,270.08 84.48,270.14 83.14,270.20 91.38,270.26 85.53,270.32 88.35,270.38 86.44,270.44 80.74,270.50 89.65,270.56 87.93,270.62 86.19,270.67 83.05,270.73 93.85,270.79 87.05,270.85 93.67,270.91 84.31,270.97 93.02,271.03 80.40,271.09 82.59,271.15 83.80,271.21 90.48,271.27 91.53,271.33 83.99,271.38 82.92,271.44 89.30,271.50 88.11,271.56 89.00,271.62 85.09,271.68 83.36,271.74 84.64,271.80 90.53,271.86 81.58,271.92 86.94,271.98 86.15,272.04 85.56,272.09 86.51,272.15 82.99,272.21 83.81,272.27 88.00,272.33 89.37,272.39 81.87,272.45 84.21,272.51 88.13,272.57 85.96,272.63 87.54,272.69 89.18,272.75 87.50,272.80 91.49,272.86 87.93,272.92 79.58,272.98 87.26,273.04 90.12,273.10 86.65,273.16 81.39,273.22 86.07,273.28 85.23,273.34 86.28,273.40 85.27,273.46 86.50,273.51 88.74,273.57 81.60,273.63 89.63,273.69 85.93,273.75 86.01,273.81 87.78,273.87 87.52,273.93 90.80,273.99 84.49,274.05 85.02,274.11 88.44,274.17 86.95,274.22 84.23,274.28 85.27,274.34 85.31,274.40 79.37,274.46 84.02,274.52 85.90,274.58 84.89,274.64 89.62,274.70 88.10,274.76 84.11,274.82 92.84,274.88 85.26,274.93 88.12,274.99 85.32,275.05 89.57,275.11 86.25,275.17 88.95,275.23 86.09,275.29 86.05,275.35 84.37,275.41 90.87,275.47 86.12,275.53 86.32,275.58 86.82,275.64 87.89,275.70 88.86,275.76 93.01,275.82 77.04,275.88 90.87,275.94 84.34,276.00 92.33,276.06 84.49,276.12 89.05,276.18 91.07,276.24 93.75,276.29 90.05,276.35 80.04,276.41 84.43,276.47 87.71,276.53 85.40,276.59 89.58,276.65 88.54,276.71 87.74,276.77 79.87,276.83 89.78,276.89 85.15,276.95 84.17,277.00 86.67,277.06 84.40,277.12 83.57,277.18 90.23,277.24 89.75,277.30 81.96,277.36 87.67,277.42 85.32,277.48 84.76,277.54 80.92,277.60 83.30,277.66 90.14,277.71 82.35,277.77 85.49,277.83 87.12,277.89 81.15,277.95 82.62,278.01 92.12,278.07 83.95,278.13 87.07,278.19 84.66,278.25 81.66,278.31 90.56,278.37 82.66,278.42 84.84,278.48 86.78,278.54 80.17,278.60 78.76,278.66 83.16,278.72 87.53,278.78 89.47,278.84 80.59,278.90 83.76,278.96 86.99,279.02 90.19,279.08 88.46,279.13 87.16,279.19 88.66,279.25 88.74,279.31 88.47,279.37 80.90,279.43 83.05,279.49 87.46,279.55 89.80,279.61 84.42,279.67 88.59,279.73 75.78,279.79 84.84,279.84 80.90,279.90 85.12,279.96 83.49,280.02 84.40,280.08 82.78,280.14 90.86,280.20 83.45,280.26 91.34,280.32 86.73,280.38 90.45,280.44 88.11,280.50 85.91,280.55 87.21,280.61 82.42,280.67 87.91,280.73 88.19,280.79 88.40,280.85 78.33,280.91 77.54,280.97 84.35,281.03 91.61,281.09 87.34,281.15 89.76,281.21 83.28,281.26 87.33,281.32 83.45,281.38 84.02,281.44 82.20,281.50 83.43,281.56 88.25,281.62 87.31,281.68 81.75,281.74 85.91,281.80 86.49,281.86 86.34,281.92 79.90,281.97 84.38,282.03 83.67,282.09 88.62,282.15 86.97,282.21 85.73,282.27 85.22,282.33 84.54,282.39 84.09,282.45 85.72,282.51 85.10,282.57 86.43,282.62 85.23,282.68 87.77,282.74 81.78,282.80 86.47,282.86 88.36,282.92 87.70,282.98 88.61,283.04 86.08,283.10 84.93,283.16 84.89,283.22 89.19,283.28 83.21,283.33 84.08,283.39 86.59,283.45 83.28,283.51 87.48,283.57 82.34,283.63 81.31,283.69 82.23,283.75 90.66,283.81 86.11,283.87 86.25,283.93 86.89,283.99 84.63,284.04 87.56,284.10 88.40,284.16 92.09,284.22 82.25,284.28 84.44,284.34 79.39,284.40 84.99,284.46 84.54,284.52 88.16,284.58 84.62,284.64 78.87,284.70 79.63,284.75 88.33,284.81 89.01,284.87 78.96,284.93 90.50,284.99 80.37,285.05 86.35,285.11 87.01,285.17 86.08,285.23 83.80,285.29 87.50,285.35 87.11,285.41 84.18,285.46 88.79,285.52 83.65,285.58 88.49,285.64 84.16,285.70 82.07,285.76 88.56,285.82 87.30,285.88 87.23,285.94 92.68,286.00 92.67,286.06 87.44,286.12 88.14,286.17 87.89,286.23 90.36,286.29 90.70,286.35 83.37,286.41 82.22,286.47 84.53,286.53 89.88,286.59 85.98,286.65 86.29,286.71 84.46,286.77 89.35,286.83 90.53,286.88 87.37,286.94 86.02,287.00 81.58,287.06 88.15,287.12 87.18,287.18 89.93,287.24 91.52,287.30 91.97,287.36 86.27,287.42 80.18,287.48 87.03,287.54 84.32,287.59 88.65,287.65 88.47,287.71 92.03,287.77 90.23,287.83 87.15,287.89 90.11,287.95 88.70,288.01 89.00,288.07 85.95,288.13 85.96,288.19 82.52,288.25 85.59,288.30 87.44,288.36 83.19,288.42 88.56,288.48 85.46,288.54 91.48,288.60" fill="none" stroke="#f36c30" stroke-width="0.42" stroke-linejoin="round"/>
<polyline points="84.49,229.50 86.39,229.63 85.57,229.76 86.53,229.89 89.04,230.03 89.22,230.16 87.04,230.29 84.62,230.42 86.32,230.55 87.16,230.68 83.74,230.82 83.93,230.95 86.26,231.08 84.54,231.21 85.03,231.34 87.28,231.47 86.76,231.61 84.77,231.74 84.92,231.87 87.83,232.00 84.79,232.13 86.84,232.26 86.73,232.40 84.26,232.53 87.84,232.66 87.80,232.79 83.28,232.92 87.07,233.05 82.71,233.19 84.71,233.32 84.44,233.45 82.62,233.58 90.94,233.71 86.70,233.84 86.78,233.98 80.56,234.11 81.13,234.24 84.17,234.37 83.73,234.50 85.57,234.63 86.77,234.77 86.17,234.90 84.02,235.03 87.23,235.16 85.90,235.29 84.80,235.42 88.20,235.55 84.65,235.69 89.75,235.82 81.70,235.95 83.86,236.08 81.99,236.21 84.56,236.34 87.94,236.48 83.03,236.61 84.29,236.74 87.70,236.87 88.10,237.00 84.30,237.13 85.53,237.27 84.59,237.40 88.48,237.53 85.96,237.66 85.35,237.79 88.06,237.92 89.01,238.06 88.84,238.19 87.87,238.32 86.13,238.45 83.27,238.58 83.07,238.71 84.52,238.85 89.87,238.98 87.98,239.11 83.83,239.24 82.59,239.37 84.62,239.50 87.55,239.64 90.87,239.77 87.35,239.90 87.26,240.03 85.52,240.16 86.92,240.29 86.08,240.42 89.54,240.56 85.18,240.69 85.41,240.82 84.06,240.95 83.79,241.08 83.87,241.21 85.10,241.35 86.78,241.48 87.77,241.61 89.23,241.74 88.05,241.87 87.96,242.00 86.79,242.14 84.50,242.27 91.60,242.40 85.69,242.53 86.99,242.66 89.52,242.79 87.22,242.93 84.72,243.06 83.72,243.19 85.24,243.32 87.08,243.45 85.25,243.58 87.16,243.72 84.32,243.85 84.46,243.98 88.58,244.11 81.13,244.24 90.28,244.37 85.73,244.51 88.13,244.64 82.51,244.77 87.30,244.90 83.05,245.03 86.28,245.16 86.99,245.30 88.63,245.43 83.96,245.56 87.34,245.69 89.41,245.82 86.78,245.95 83.82,246.08 86.04,246.22 84.86,246.35 83.12,246.48 86.07,246.61 86.74,246.74 84.64,246.87 86.96,247.01 87.06,247.14 86.27,247.27 83.62,247.40 88.09,247.53 86.24,247.66 85.17,247.80 86.20,247.93 87.67,248.06 89.27,248.19 89.55,248.32 83.69,248.45 86.31,248.59 91.34,248.72 88.14,248.85 86.28,248.98 84.42,249.11 86.13,249.24 83.53,249.38 85.63,249.51 81.29,249.64 85.27,249.77 83.79,249.90 89.42,250.03 87.26,250.17 83.52,250.30 86.27,250.43 86.84,250.56 83.50,250.69 82.78,250.82 89.83,250.96 85.60,251.09 85.24,251.22 87.26,251.35 85.41,251.48 86.45,251.61 83.09,251.74 85.16,251.88 83.45,252.01 89.63,252.14 88.80,252.27 85.80,252.40 88.13,252.53 87.01,252.67 83.30,252.80 84.71,252.93 82.42,253.06 87.12,253.19 82.83,253.32 84.19,253.46 85.29,253.59 84.91,253.72 82.20,253.85 81.14,253.98 88.10,254.11 82.13,254.25 84.14,254.38 87.62,254.51 86.85,254.64 85.24,254.77 84.30,254.90 87.44,255.04 83.85,255.17 87.93,255.30 86.22,255.43 81.53,255.56 81.75,255.69 87.74,255.83 82.46,255.96 85.49,256.09 84.62,256.22 82.93,256.35 83.46,256.48 86.85,256.61 85.81,256.75 87.02,256.88 87.52,257.01 89.20,257.14 85.06,257.27 82.45,257.40 84.43,257.54 81.64,257.67 81.11,257.80 84.35,257.93 84.90,258.06 88.00,258.19 84.30,258.33 82.65,258.46 81.06,258.59 86.66,258.72 83.14,258.85 85.52,258.98 84.75,259.12 85.48,259.25 84.70,259.38 83.06,259.51 80.99,259.64 85.75,259.77 83.61,259.91 84.59,260.04 83.83,260.17 86.83,260.30 83.52,260.43 82.86,260.56 79.61,260.70 85.31,260.83 81.81,260.96 83.44,261.09 84.47,261.22 84.73,261.35 86.58,261.49 84.21,261.62 85.77,261.75 87.06,261.88 84.07,262.01 87.75,262.14 88.20,262.27 83.30,262.41 82.68,262.54 82.89,262.67 83.98,262.80 88.62,262.93 82.30,263.06 81.88,263.20 83.73,263.33 85.65,263.46 86.42,263.59 83.97,263.72 86.68,263.85 84.14,263.99 86.85,264.12 84.43,264.25 91.02,264.38 84.63,264.51 85.02,264.64 86.32,264.78 84.87,264.91 85.36,265.04 88.55,265.17 86.63,265.30 85.88,265.43 90.78,265.57 88.64,265.70 85.55,265.83 87.85,265.96 88.29,266.09 86.69,266.22 86.54,266.36 86.75,266.49 89.34,266.62 87.26,266.75 89.05,266.88 86.11,267.01 85.54,267.14 85.68,267.28 87.73,267.41 87.85,267.54 87.77,267.67 84.99,267.80 87.02,267.93 86.35,268.07 88.10,268.20 87.47,268.33 84.11,268.46 87.29,268.59 89.87,268.72 88.19,268.86 86.86,268.99 83.83,269.12 84.20,269.25 87.58,269.38 83.50,269.51 85.70,269.65 87.23,269.78 91.16,269.91 89.21,270.04 87.21,270.17 86.10,270.30 86.01,270.44 86.67,270.57 89.15,270.70 89.99,270.83 88.35,270.96 87.38,271.09 89.82,271.23 90.09,271.36 87.54,271.49 86.60,271.62 87.08,271.75 82.72,271.88 89.12,272.02 91.30,272.15 86.36,272.28 85.73,272.41 86.61,272.54 91.27,272.67 88.58,272.80 87.86,272.94 90.26,273.07 89.12,273.20 86.33,273.33 86.27,273.46 84.20,273.59 85.56,273.73 87.48,273.86 88.29,273.99 86.32,274.12 90.75,274.25 83.43,274.38 85.98,274.52 87.48,274.65 86.59,274.78 85.67,274.91 89.01,275.04 88.80,275.17 85.90,275.31 90.76,275.44 90.57,275.57 89.54,275.70 86.33,275.83 90.24,275.96 87.38,276.10 89.41,276.23 90.01,276.36 86.45,276.49 85.36,276.62 86.34,276.75 86.56,276.89 85.78,277.02 84.41,277.15 90.47,277.28 87.26,277.41 89.44,277.54 89.24,277.68 88.35,277.81 87.03,277.94 90.26,278.07 84.62,278.20 85.39,278.33 85.12,278.46 89.13,278.60 83.46,278.73 88.78,278.86 88.32,278.99 89.49,279.12 88.73,279.25 87.76,279.39 86.67,279.52 85.55,279.65 83.76,279.78 87.27,279.91 89.28,280.04 88.30,280.18 86.60,280.31 86.11,280.44 88.75,280.57 91.97,280.70 87.66,280.83 85.17,280.97 91.71,281.10 88.53,281.23 85.39,281.36 90.68,281.49 83.88,281.62 90.67,281.76 83.70,281.89 86.43,282.02 85.34,282.15 86.04,282.28 85.32,282.41 86.74,282.55 82.78,282.68 88.79,282.81 88.83,282.94 87.78,283.07 86.33,283.20 84.16,283.33 85.76,283.47 83.91,283.60 84.00,283.73 87.42,283.86 83.89,283.99 86.78,284.12 86.40,284.26 87.75,284.39 86.40,284.52 88.41,284.65 87.66,284.78 85.96,284.91 85.93,285.05 87.00,285.18 83.88,285.31 85.10,285.44 82.05,285.57 86.27,285.70 83.85,285.84 85.53,285.97 85.06,286.10 88.18,286.23 85.30,286.36 89.48,286.49 87.52,286.63 86.28,286.76 86.70,286.89 86.33,287.02 86.39,287.15 87.65,287.28 85.47,287.42 88.02,287.55 86.14,287.68 83.86,287.81 89.06,287.94 88.08,288.07 86.47,288.21 92.60,288.34 84.40,288.47 86.46,288.60" fill="none" stroke="#f36c30" stroke-width="0.42" stroke-linejoin="round"/>
<polyline points="158.11,177.40 161.36,177.45 161.10,177.50 156.15,177.55 157.37,177.59 158.46,177.64 153.54,177.69 150.57,177.74 157.68,177.79 155.41,177.84 161.40,177.88 154.82,177.93 156.71,177.98 158.26,178.03 154.21,178.08 169.41,178.13 165.73,178.18 157.85,178.22 165.47,178.27 157.36,178.32 161.24,178.37 161.90,178.42 159.67,178.47 162.83,178.52 158.03,178.56 163.36,178.61 164.67,178.66 158.21,178.71 154.91,178.76 166.75,178.81 162.91,178.85 164.55,178.90 158.01,178.95 160.41,179.00 157.92,179.05 158.20,179.10 162.51,179.15 160.23,179.19 157.36,179.24 156.73,179.29 157.62,179.34 162.60,179.39 156.64,179.44 154.99,179.49 157.85,179.53 158.53,179.58 159.74,179.63 155.64,179.68 151.39,179.73 152.32,179.78 159.06,179.82 155.70,179.87 163.95,179.92 159.71,179.97 161.54,180.02 160.38,180.07 161.79,180.12 156.97,180.16 160.62,180.21 159.25,180.26 164.01,180.31 155.41,180.36 159.92,180.41 158.16,180.46 163.49,180.50 163.34,180.55 154.44,180.60 161.71,180.65 160.27,180.70 156.74,180.75 155.23,180.79 160.73,180.84 158.33,180.89 159.08,180.94 158.64,180.99 150.11,181.04 156.36,181.09 158.20,181.13 165.19,181.18 158.02,181.23 162.28,181.28 164.92,181.33 155.49,181.38 164.37,181.43 158.15,181.47 160.66,181.52 154.39,181.57 151.39,181.62 158.03,181.67 162.75,181.72 154.27,181.76 155.98,181.81 159.30,181.86 160.14,181.91 156.57,181.96 162.05,182.01 153.95,182.06 156.60,182.10 159.47,182.15 151.36,182.20 156.46,182.25 159.19,182.30 157.54,182.35 155.74,182.40 153.23,182.44 166.84,182.49 155.55,182.54 153.91,182.59 155.14,182.64 160.90,182.69 161.55,182.73 159.17,182.78 160.01,182.83 159.40,182.88 162.33,182.93 160.06,182.98 155.05,183.03 155.81,183.07 157.08,183.12 160.90,183.17 158.08,183.22 160.54,183.27 160.41,183.32 162.75,183.37 157.10,183.41 159.47,183.46 158.50,183.51 161.78,183.56 155.93,183.61 159.87,183.66 160.48,183.70 153.16,183.75 161.17,183.80 158.82,183.85 162.43,183.90 156.06,183.95 159.59,184.00 157.99,184.04 156.22,184.09 161.51,184.14 149.97,184.19 161.95,184.24 157.55,184.29 163.13,184.34 155.31,184.38 165.92,184.43 155.11,184.48 156.57,184.53 155.13,184.58 162.63,184.63 163.08,184.67 165.14,184.72 155.67,184.77 158.08,184.82 155.82,184.87 154.86,184.92 154.95,184.97 151.19,185.01 159.06,185.06 160.99,185.11 157.39,185.16 159.24,185.21 164.81,185.26 156.67,185.31 159.20,185.35 157.23,185.40 159.42,185.45 161.40,185.50 158.75,185.55 155.45,185.60 164.10,185.64 157.69,185.69 160.51,185.74 154.71,185.79 154.37,185.84 159.50,185.89 163.97,185.94 157.44,185.98 160.98,186.03 163.86,186.08 154.99,186.13 153.89,186.18 156.72,186.23 154.99,186.28 158.66,186.32 160.17,186.37 154.66,186.42 163.11,186.47 155.45,186.52 163.38,186.57 159.94,186.61 164.87,186.66 158.54,186.71 158.19,186.76 164.66,186.81 152.57,186.86 163.47,186.91 154.13,186.95 160.30,187.00 160.66,187.05 159.08,187.10 156.24,187.15 154.49,187.20 159.29,187.25 154.23,187.29 155.87,187.34 159.34,187.39 166.20,187.44 157.14,187.49 160.42,187.54 162.56,187.58 159.95,187.63 156.23,187.68 155.93,187.73 161.54,187.78 161.10,187.83 160.97,187.88 165.16,187.92 163.48,187.97 160.02,188.02 162.22,188.07 157.12,188.12 160.84,188.17 168.73,188.22 157.47,188.26 160.25,188.31 157.77,188.36 161.90,188.41 158.83,188.46 152.22,188.51 158.87,188.55 158.17,188.60 158.06,188.65 159.39,188.70 159.46,188.75 157.48,188.80 156.45,188.85 160.16,188.89 154.50,188.94 153.42,188.99 157.40,189.04 164.49,189.09 159.02,189.14 161.09,189.19 158.68,189.23 157.35,189.28 159.12,189.33 155.46,189.38 162.37,189.43 150.94,189.48 160.15,189.52 158.86,189.57 164.05,189.62 157.02,189.67 160.56,189.72 156.45,189.77 161.19,189.82 151.19,189.86 157.90,189.91 154.40,189.96 157.97,190.01 162.29,190.06 157.32,190.11 155.26,190.16 160.52,190.20 156.89,190.25 154.16,190.30 155.03,190.35 153.54,190.40 153.15,190.45 158.66,190.49 152.33,190.54 152.74,190.59 154.93,190.64 154.94,190.69 157.48,190.74 150.44,190.79 155.80,190.83 153.89,190.88 161.84,190.93 159.06,190.98 157.45,191.03 159.41,191.08 156.52,191.13 157.68,191.17 146.21,191.22 151.98,191.27 162.12,191.32 158.23,191.37 156.21,191.42 164.11,191.46 165.60,191.51 148.57,191.56 156.14,191.61 161.49,191.66 154.96,191.71 161.99,191.76 159.29,191.80 158.81,191.85 155.22,191.90 160.25,191.95 158.34,192.00 159.11,192.05 162.17,192.09 152.32,192.14 153.81,192.19 159.63,192.24 155.45,192.29 156.08,192.34 157.11,192.39 152.06,192.43 157.37,192.48 156.00,192.53 159.42,192.58 153.26,192.63 157.98,192.68 156.85,192.73 154.03,192.77 156.25,192.82 154.58,192.87 153.59,192.92 158.51,192.97 153.34,193.02 159.42,193.06 159.88,193.11 152.29,193.16 150.62,193.21 161.72,193.26 155.90,193.31 162.50,193.36 151.52,193.40 148.47,193.45 156.62,193.50 157.17,193.55 156.94,193.60 159.41,193.65 157.94,193.70 156.76,193.74 156.99,193.79 160.72,193.84 152.84,193.89 148.61,193.94 156.23,193.99 156.90,194.03 152.85,194.08 153.06,194.13 155.87,194.18 154.04,194.23 155.18,194.28 160.26,194.33 160.76,194.37 163.23,194.42 151.16,194.47 149.96,194.52 157.64,194.57 155.48,194.62 153.39,194.67 152.94,194.71 158.34,194.76 155.81,194.81 160.83,194.86 156.45,194.91 158.47,194.96 154.74,195.00 157.30,195.05 159.98,195.10 156.24,195.15 154.88,195.20 156.22,195.25 154.13,195.30 153.01,195.34 150.39,195.39 155.87,195.44 160.55,195.49 158.57,195.54 161.32,195.59 154.92,195.64 157.30,195.68 155.14,195.73 161.26,195.78 157.70,195.83 159.85,195.88 158.79,195.93 155.84,195.97 154.26,196.02 153.25,196.07 156.30,196.12 152.52,196.17 157.97,196.22 161.27,196.27 157.88,196.31 161.38,196.36 160.24,196.41 153.73,196.46 165.00,196.51 156.86,196.56 153.00,196.61 155.39,196.65 155.52,196.70 159.62,196.75 159.26,196.80 164.40,196.85 158.90,196.90 160.28,196.94 165.85,196.99 160.55,197.04 161.20,197.09 162.85,197.14 159.73,197.19 162.96,197.24 160.14,197.28 164.32,197.33 168.06,197.38 158.49,197.43 152.46,197.48 160.99,197.53 156.29,197.58 164.74,197.62 162.67,197.67 160.09,197.72 158.07,197.77 162.72,197.82 160.07,197.87 160.51,197.91 154.51,197.96 155.28,198.01 159.98,198.06 156.57,198.11 159.23,198.16 154.55,198.21 159.02,198.25 164.21,198.30 152.94,198.35 165.35,198.40 158.29,198.45 163.05,198.50 158.46,198.55 158.81,198.59 158.11,198.64 155.49,198.69 162.05,198.74 163.00,198.79 155.58,198.84 160.46,198.88 163.68,198.93 160.26,198.98 157.40,199.03 160.30,199.08 164.28,199.13 164.94,199.18 161.16,199.22 159.39,199.27 164.43,199.32 160.65,199.37 156.42,199.42 165.19,199.47 159.33,199.52 161.25,199.56 159.83,199.61 156.85,199.66 156.64,199.71 159.14,199.76 161.00,199.81 158.71,199.85 161.66,199.90 159.05,199.95 161.14,200.00 153.94,200.05 160.13,200.10 157.24,200.15 156.22,200.19 158.50,200.24 158.23,200.29 164.55,200.34 156.27,200.39 160.13,200.44 159.93,200.49 158.61,200.53 160.36,200.58 156.41,200.63 161.94,200.68 157.61,200.73 155.92,200.78 157.33,200.82 163.05,200.87 153.90,200.92 157.73,200.97 159.89,201.02 154.71,201.07 160.53,201.12 158.37,201.16 159.03,201.21 158.74,201.26 156.64,201.31 157.53,201.36 156.89,201.41 153.32,201.46 155.61,201.50 162.10,201.55 159.10,201.60 159.90,201.65 162.55,201.70 154.14,201.75 153.84,201.79 161.13,201.84 161.20,201.89 156.93,201.94 152.64,201.99 158.30,202.04 155.49,202.09 160.10,202.13 156.40,202.18 156.58,202.23 158.97,202.28 151.66,202.33 155.33,202.38 153.61,202.43 157.59,202.47 165.95,202.52 157.06,202.57 159.26,202.62 160.24,202.67 158.63,202.72 157.90,202.76 158.31,202.81 159.19,202.86 159.32,202.91 160.23,202.96 161.91,203.01 156.82,203.06 157.04,203.10 154.03,203.15 159.48,203.20 159.38,203.25 158.50,203.30 166.19,203.35 150.25,203.40 155.63,203.44 155.36,203.49 156.68,203.54 152.90,203.59 157.26,203.64 157.19,203.69 157.19,203.73 159.43,203.78 161.44,203.83 159.41,203.88 153.90,203.93 157.61,203.98 154.23,204.03 158.93,204.07 151.55,204.12 157.61,204.17 156.88,204.22 158.27,204.27 160.21,204.32 156.23,204.37 152.84,204.41 154.13,204.46 160.87,204.51 156.89,204.56 154.79,204.61 156.84,204.66 157.22,204.70 160.53,204.75 156.83,204.80 156.28,204.85 157.62,204.90 150.94,204.95 152.20,205.00 160.86,205.04 153.86,205.09 158.13,205.14 159.41,205.19 161.69,205.24 160.39,205.29 159.48,205.34 154.45,205.38 153.25,205.43 150.36,205.48 157.03,205.53 155.40,205.58 157.30,205.63 157.87,205.67 161.77,205.72 157.92,205.77 152.63,205.82 156.46,205.87 156.33,205.92 158.64,205.97 160.79,206.01 150.40,206.06 159.59,206.11 157.53,206.16 157.85,206.21 159.03,206.26 160.50,206.31 156.54,206.35 157.05,206.40 159.15,206.45 165.64,206.50 151.27,206.55 153.83,206.60 155.61,206.64 151.92,206.69 155.28,206.74 161.74,206.79 149.44,206.84 150.21,206.89 156.97,206.94 156.67,206.98 160.61,207.03 158.78,207.08 155.63,207.13 160.73,207.18 157.51,207.23 157.25,207.27 150.70,207.32 158.97,207.37 165.24,207.42 158.22,207.47 156.13,207.52 160.04,207.57 160.06,207.61 162.03,207.66 162.29,207.71 155.34,207.76 163.15,207.81 160.01,207.86 156.73,207.91 151.35,207.95 157.53,208.00 158.81,208.05 163.44,208.10 158.10,208.15 161.07,208.20 162.15,208.24 157.91,208.29 154.19,208.34 163.16,208.39 160.86,208.44 157.08,208.49 158.57,208.54 163.96,208.58 160.12,208.63 158.88,208.68 161.02,208.73 160.68,208.78 163.80,208.83 155.83,208.88 164.29,208.92 158.34,208.97 158.97,209.02 151.52,209.07 156.80,209.12 154.89,209.17 158.95,209.21 163.77,209.26 157.63,209.31 157.75,209.36 153.54,209.41 155.80,209.46 153.64,209.51 153.01,209.55 151.31,209.60 165.85,209.65 159.27,209.70 159.93,209.75 156.77,209.80 155.41,209.85 156.41,209.89 158.44,209.94 164.23,209.99 160.50,210.04 157.15,210.09 162.09,210.14 164.20,210.18 154.95,210.23 150.69,210.28 155.40,210.33 157.44,210.38 157.54,210.43 160.71,210.48 158.18,210.52 157.35,210.57 154.64,210.62 160.78,210.67 156.13,210.72 166.37,210.77 154.38,210.82 152.72,210.86 152.24,210.91 154.57,210.96 154.72,211.01 158.33,211.06 163.80,211.11 159.79,211.15 153.04,211.20 158.15,211.25 164.45,211.30 159.02,211.35 163.93,211.40 161.52,211.45 158.43,211.49 168.61,211.54 162.03,211.59 158.30,211.64 160.86,211.69 156.63,211.74 154.89,211.79 159.13,211.83 158.74,211.88 158.63,211.93 162.00,211.98 156.95,212.03 159.04,212.08 165.56,212.12 154.45,212.17 156.94,212.22 167.20,212.27 158.38,212.32 158.31,212.37 160.89,212.42 159.20,212.46 159.17,212.51 148.98,212.56 156.05,212.61 153.18,212.66 163.65,212.71 155.29,212.76 153.85,212.80 160.20,212.85 158.56,212.90 163.82,212.95 159.82,213.00 157.55,213.05 158.44,213.09 156.25,213.14 155.29,213.19 154.75,213.24 150.90,213.29 149.19,213.34 157.61,213.39 159.72,213.43 153.37,213.48 159.13,213.53 158.51,213.58 162.21,213.63 160.14,213.68 154.29,213.73 154.77,213.77 158.95,213.82 155.72,213.87 149.16,213.92 162.38,213.97 156.23,214.02 158.19,214.06 162.61,214.11 151.82,214.16 155.76,214.21 153.19,214.26 160.06,214.31 163.02,214.36 158.05,214.40 158.12,214.45 158.77,214.50 160.30,214.55 162.83,214.60 155.41,214.65 160.94,214.70 160.22,214.74 159.59,214.79 154.38,214.84 169.44,214.89 161.12,214.94 158.83,214.99 160.61,215.03 156.54,215.08 159.46,215.13 164.37,215.18 162.52,215.23 160.14,215.28 158.69,215.33 153.91,215.37 161.68,215.42 157.35,215.47 151.66,215.52 167.60,215.57 161.88,215.62 159.78,215.67 160.32,215.71 159.70,215.76 160.00,215.81 165.45,215.86 162.22,215.91 163.65,215.96 155.06,216.00 156.59,216.05 165.48,216.10 160.22,216.15 156.99,216.20 170.52,216.25 164.25,216.30 157.76,216.34 159.81,216.39 161.20,216.44 151.55,216.49 163.42,216.54 161.89,216.59 162.17,216.64 159.49,216.68 153.61,216.73 161.48,216.78 165.32,216.83 156.85,216.88 163.98,216.93 158.39,216.97 159.47,217.02 156.83,217.07 162.51,217.12 166.44,217.17 161.92,217.22 157.35,217.27 158.80,217.31 159.05,217.36 164.20,217.41 166.77,217.46 155.80,217.51 154.87,217.56 164.22,217.61 152.35,217.65 156.90,217.70 156.10,217.75 156.84,217.80 150.94,217.85 152.47,217.90 155.89,217.94 155.96,217.99 160.80,218.04 162.45,218.09 155.05,218.14 150.01,218.19 162.09,218.24 162.10,218.28 161.67,218.33 160.33,218.38 156.01,218.43 166.97,218.48 160.92,218.53 159.42,218.58 154.15,218.62 157.15,218.67 151.86,218.72 165.13,218.77 156.60,218.82 153.99,218.87 161.45,218.91 160.78,218.96 165.02,219.01 161.85,219.06 152.31,219.11 159.35,219.16 155.97,219.21 159.31,219.25 159.13,219.30 154.19,219.35 161.51,219.40 157.25,219.45 153.65,219.50 156.97,219.55 168.23,219.59 154.87,219.64 159.05,219.69 157.70,219.74 161.49,219.79 159.74,219.84 164.43,219.88 163.14,219.93 158.20,219.98 163.32,220.03 156.89,220.08 149.85,220.13 164.92,220.18 164.15,220.22 154.83,220.27 166.15,220.32 154.84,220.37 154.92,220.42 160.69,220.47 157.68,220.52 160.83,220.56 161.41,220.61 155.82,220.66 156.13,220.71 153.89,220.76 164.54,220.81 157.13,220.85 161.46,220.90 159.94,220.95 165.51,221.00" fill="none" stroke="#f36c30" stroke-width="0.42" stroke-linejoin="round"/>
<polyline points="153.71,177.40 167.18,177.51 162.42,177.62 161.34,177.73 162.37,177.84 154.64,177.95 160.66,178.06 158.74,178.16 157.84,178.27 155.72,178.38 164.48,178.49 160.85,178.60 157.38,178.71 160.56,178.82 157.84,178.93 155.04,179.04 163.64,179.15 159.14,179.26 154.53,179.37 151.37,179.48 157.17,179.59 152.83,179.69 160.54,179.80 160.08,179.91 159.20,180.02 158.54,180.13 158.04,180.24 155.18,180.35 162.05,180.46 162.10,180.57 156.22,180.68 155.80,180.79 159.08,180.90 159.80,181.01 156.77,181.12 156.70,181.22 158.72,181.33 158.67,181.44 159.20,181.55 159.99,181.66 153.51,181.77 157.15,181.88 159.28,181.99 160.08,182.10 160.15,182.21 155.52,182.32 157.70,182.43 161.31,182.54 155.50,182.65 153.69,182.75 160.40,182.86 155.61,182.97 155.30,183.08 158.37,183.19 160.11,183.30 155.66,183.41 157.31,183.52 158.85,183.63 159.99,183.74 160.75,183.85 157.20,183.96 160.60,184.07 157.70,184.17 160.20,184.28 158.82,184.39 155.98,184.50 156.94,184.61 156.42,184.72 156.55,184.83 158.60,184.94 156.92,185.05 160.40,185.16 164.21,185.27 164.30,185.38 162.75,185.49 161.38,185.60 155.58,185.70 158.57,185.81 160.13,185.92 166.38,186.03 157.98,186.14 162.71,186.25 157.58,186.36 159.51,186.47 155.26,186.58 161.00,186.69 162.72,186.80 157.13,186.91 160.68,187.02 158.03,187.13 158.49,187.23 156.60,187.34 158.16,187.45 163.97,187.56 158.43,187.67 160.26,187.78 161.07,187.89 161.16,188.00 158.11,188.11 160.95,188.22 158.13,188.33 163.44,188.44 156.20,188.55 160.46,188.66 155.28,188.76 160.48,188.87 162.45,188.98 157.28,189.09 156.57,189.20 161.89,189.31 160.70,189.42 163.45,189.53 162.01,189.64 158.61,189.75 159.26,189.86 158.92,189.97 158.47,190.08 157.11,190.18 157.40,190.29 161.64,190.40 162.03,190.51 162.91,190.62 153.13,190.73 161.27,190.84 162.78,190.95 162.37,191.06 160.01,191.17 158.72,191.28 159.86,191.39 157.32,191.50 156.33,191.61 158.70,191.71 162.68,191.82 157.65,191.93 157.91,192.04 153.63,192.15 153.02,192.26 157.80,192.37 162.15,192.48 154.81,192.59 159.55,192.70 156.12,192.81 164.88,192.92 164.44,193.03 153.84,193.14 156.62,193.24 163.51,193.35 159.49,193.46 154.72,193.57 155.13,193.68 162.31,193.79 161.32,193.90 156.99,194.01 158.72,194.12 161.65,194.23 160.04,194.34 159.69,194.45 155.13,194.56 157.37,194.67 159.83,194.77 153.21,194.88 157.58,194.99 157.07,195.10 159.52,195.21 154.32,195.32 158.64,195.43 157.98,195.54 162.81,195.65 156.94,195.76 159.49,195.87 160.31,195.98 158.45,196.09 159.23,196.19 161.73,196.30 156.60,196.41 154.25,196.52 159.07,196.63 163.40,196.74 156.05,196.85 164.17,196.96 157.62,197.07 161.01,197.18 158.72,197.29 155.66,197.40 156.65,197.51 165.00,197.62 155.82,197.72 157.87,197.83 151.83,197.94 162.65,198.05 157.32,198.16 159.04,198.27 154.24,198.38 162.97,198.49 160.80,198.60 158.69,198.71 162.02,198.82 159.80,198.93 157.02,199.04 157.90,199.15 156.11,199.25 157.98,199.36 163.29,199.47 157.71,199.58 162.10,199.69 162.27,199.80 158.45,199.91 165.05,200.02 157.75,200.13 159.78,200.24 160.92,200.35 158.37,200.46 161.65,200.57 159.85,200.68 160.16,200.78 160.52,200.89 160.99,201.00 161.46,201.11 155.28,201.22 162.51,201.33 161.69,201.44 161.57,201.55 157.65,201.66 162.97,201.77 165.59,201.88 160.94,201.99 160.93,202.10 159.01,202.21 156.34,202.31 164.10,202.42 153.18,202.53 156.92,202.64 160.85,202.75 160.34,202.86 157.99,202.97 162.19,203.08 162.73,203.19 159.15,203.30 160.28,203.41 164.86,203.52 158.78,203.63 160.61,203.73 159.42,203.84 164.09,203.95 158.26,204.06 159.74,204.17 158.17,204.28 159.34,204.39 159.56,204.50 156.51,204.61 158.72,204.72 159.09,204.83 160.08,204.94 159.02,205.05 160.14,205.16 162.13,205.26 157.71,205.37 153.47,205.48 161.31,205.59 160.33,205.70 155.85,205.81 155.93,205.92 164.80,206.03 161.69,206.14 166.58,206.25 161.26,206.36 157.02,206.47 161.48,206.58 157.25,206.69 159.10,206.79 160.96,206.90 164.11,207.01 158.11,207.12 161.74,207.23 157.64,207.34 156.02,207.45 160.15,207.56 156.41,207.67 163.65,207.78 160.05,207.89 157.09,208.00 157.97,208.11 159.07,208.22 159.26,208.32 159.83,208.43 163.89,208.54 160.64,208.65 158.12,208.76 162.19,208.87 158.00,208.98 157.40,209.09 161.57,209.20 155.03,209.31 159.58,209.42 162.67,209.53 155.92,209.64 155.90,209.74 164.46,209.85 159.25,209.96 160.79,210.07 156.85,210.18 162.59,210.29 155.78,210.40 164.57,210.51 156.56,210.62 157.95,210.73 162.12,210.84 157.16,210.95 161.34,211.06 158.65,211.17 157.84,211.27 161.36,211.38 157.93,211.49 160.74,211.60 157.37,211.71 159.39,211.82 157.91,211.93 161.43,212.04 163.03,212.15 160.34,212.26 156.05,212.37 160.72,212.48 160.44,212.59 157.32,212.70 160.70,212.80 157.95,212.91 159.62,213.02 157.10,213.13 163.17,213.24 160.71,213.35 159.95,213.46 158.43,213.57 161.50,213.68 155.67,213.79 160.68,213.90 156.73,214.01 161.18,214.12 157.12,214.23 158.42,214.33 160.43,214.44 161.86,214.55 163.57,214.66 159.54,214.77 155.86,214.88 155.34,214.99 156.72,215.10 158.01,215.21 160.93,215.32 160.79,215.43 161.70,215.54 152.21,215.65 156.21,215.75 158.96,215.86 155.84,215.97 160.33,216.08 158.59,216.19 159.48,216.30 157.66,216.41 160.95,216.52 159.36,216.63 159.03,216.74 155.77,216.85 161.27,216.96 160.13,217.07 159.22,217.18 156.95,217.28 156.23,217.39 162.72,217.50 158.91,217.61 161.83,217.72 161.78,217.83 163.19,217.94 162.47,218.05 159.40,218.16 155.04,218.27 161.86,218.38 161.03,218.49 154.97,218.60 158.09,218.71 153.00,218.81 156.46,218.92 156.95,219.03 159.93,219.14 158.40,219.25 158.30,219.36 157.64,219.47 163.50,219.58 160.24,219.69 158.02,219.80 159.46,219.91 160.01,220.02 159.44,220.13 154.36,220.24 161.03,220.34 154.57,220.45 156.91,220.56 157.78,220.67 155.73,220.78 159.86,220.89 153.77,221.00" fill="none" stroke="#f36c30" stroke-width="0.42" stroke-linejoin="round"/>
<polyline points="92.60,230.10 140.00,222.90 153.20,220.80" fill="none" stroke="#f36c30" stroke-width="0.6" stroke-linejoin="round"/>
<polyline points="93.90,241.40 110.60,240.20" fill="none" stroke="#f36c30" stroke-width="0.6" stroke-linejoin="round"/>
<text x="63.04" y="224.40" style="font-family:'Liberation Serif',serif;font-weight:bold;font-size:7.56px" fill="#141414" stroke="#141414" stroke-width="0.25">HER2</text>
<line x1="83.70" y1="220.35" x2="86.00" y2="220.35" stroke="#222" stroke-width="0.65"/>
<line x1="84.85" y1="219.20" x2="84.85" y2="221.50" stroke="#222" stroke-width="0.65"/>
<text x="159.24" y="233.20" style="font-family:'Liberation Serif',serif;font-weight:bold;font-size:7.64px" fill="#141414" stroke="#141414" stroke-width="0.25">TNBC</text>
<line x1="102.90" y1="121.00" x2="102.90" y2="279.20" stroke="#90a8ee" stroke-width="0.9" stroke-dasharray="1.4 1.9"/>
<line x1="110.60" y1="115.30" x2="110.60" y2="240.20" stroke="#90a8ee" stroke-width="0.9" stroke-dasharray="1.4 1.9"/>
<text x="0.40" y="19.00" style="font-family:'Liberation Serif',serif;font-weight:bold;font-size:9.92px" fill="#111" stroke="#111" stroke-width="0.25">(A)</text>
<text x="239.79" y="30.00" style="font-family:'Liberation Serif',serif;font-weight:bold;font-size:10.28px" fill="#111" stroke="#111" stroke-width="0.25">(B)</text>
<text x="393.79" y="31.00" style="font-family:'Liberation Serif',serif;font-weight:bold;font-size:10.23px" fill="#111" stroke="#111" stroke-width="0.25">(C)</text>
<text x="543.89" y="29.80" style="font-family:'Liberation Serif',serif;font-weight:bold;font-size:10.15px" fill="#111" stroke="#111" stroke-width="0.25">(D)</text>
<text x="264.91" y="174.80" style="font-family:'Liberation Serif',serif;font-weight:bold;font-size:9.80px" fill="#111" stroke="#111" stroke-width="0.25">(E)</text>
<text x="451.88" y="174.80" style="font-family:'Liberation Serif',serif;font-weight:bold;font-size:10.42px" fill="#111" stroke="#111" stroke-width="0.25">(F)</text>
<line x1="289.22" y1="59.50" x2="289.22" y2="111.50" stroke="#ecb4c0" stroke-width="1.6"/>
<line x1="292.53" y1="59.50" x2="292.53" y2="111.50" stroke="#ddd0ee" stroke-width="0.9"/>
<line x1="310.19" y1="59.50" x2="310.19" y2="111.50" stroke="#ecb4c0" stroke-width="0.9"/>
<line x1="267.84" y1="59.50" x2="267.84" y2="111.50" stroke="#f4d2c0" stroke-width="0.9"/>
<line x1="267.64" y1="59.50" x2="267.64" y2="111.50" stroke="#f0c2ca" stroke-width="1.6"/>
<line x1="319.79" y1="59.50" x2="319.79" y2="111.50" stroke="#cce2f4" stroke-width="0.6"/>
<line x1="311.85" y1="59.50" x2="311.85" y2="111.50" stroke="#f2e6b8" stroke-width="0.6"/>
<line x1="264.36" y1="59.50" x2="264.36" y2="111.50" stroke="#ddd0ee" stroke-width="0.6"/>
<line x1="308.65" y1="59.50" x2="308.65" y2="111.50" stroke="#d6e8c6" stroke-width="1.6"/>
<line x1="297.48" y1="59.50" x2="297.48" y2="111.50" stroke="#ddd0ee" stroke-width="0.9"/>
<line x1="300.43" y1="59.50" x2="300.43" y2="111.50" stroke="#ecb4c0" stroke-width="0.6"/>
<line x1="301.75" y1="59.50" x2="301.75" y2="111.50" stroke="#ecb4c0" stroke-width="1.2"/>
<line x1="286.50" y1="59.50" x2="286.50" y2="111.50" stroke="#f2e6b8" stroke-width="1.2"/>
<line x1="281.04" y1="59.50" x2="281.04" y2="111.50" stroke="#ddd0ee" stroke-width="1.2"/>
<line x1="264.00" y1="59.50" x2="264.00" y2="111.50" stroke="#f2e6b8" stroke-width="1.6"/>
<line x1="268.66" y1="59.50" x2="268.66" y2="111.50" stroke="#f4d2c0" stroke-width="1.6"/>
<line x1="266.21" y1="59.50" x2="266.21" y2="111.50" stroke="#f0c2ca" stroke-width="0.6"/>
<line x1="274.97" y1="59.50" x2="274.97" y2="111.50" stroke="#f0c2ca" stroke-width="1.6"/>
<line x1="284.63" y1="59.50" x2="284.63" y2="111.50" stroke="#c6dcf2" stroke-width="1.6"/>
<line x1="266.59" y1="59.50" x2="266.59" y2="111.50" stroke="#ddd0ee" stroke-width="1.2"/>
<line x1="282.33" y1="59.50" x2="282.33" y2="111.50" stroke="#f4d2c0" stroke-width="1.2"/>
<line x1="263.13" y1="59.50" x2="263.13" y2="111.50" stroke="#c6dcf2" stroke-width="0.6"/>
<line x1="270.26" y1="59.50" x2="270.26" y2="111.50" stroke="#f2e6b8" stroke-width="0.6"/>
<line x1="265.80" y1="59.50" x2="265.80" y2="111.50" stroke="#ecb4c0" stroke-width="0.9"/>
<line x1="302.92" y1="59.50" x2="302.92" y2="111.50" stroke="#ddd0ee" stroke-width="1.6"/>
<line x1="292.59" y1="59.50" x2="292.59" y2="111.50" stroke="#cce2f4" stroke-width="1.6"/>
<line x1="300.63" y1="59.50" x2="300.63" y2="111.50" stroke="#f2e6b8" stroke-width="1.6"/>
<line x1="287.33" y1="59.50" x2="287.33" y2="111.50" stroke="#ddd0ee" stroke-width="0.6"/>
<line x1="278.32" y1="59.50" x2="278.32" y2="111.50" stroke="#f4d2c0" stroke-width="0.6"/>
<line x1="274.80" y1="59.50" x2="274.80" y2="111.50" stroke="#c6dcf2" stroke-width="0.6"/>
<line x1="264.74" y1="59.50" x2="264.74" y2="111.50" stroke="#cce2f4" stroke-width="0.9"/>
<line x1="288.57" y1="59.50" x2="288.57" y2="111.50" stroke="#f0c2ca" stroke-width="1.2"/>
<line x1="311.76" y1="59.50" x2="311.76" y2="111.50" stroke="#c6dcf2" stroke-width="0.6"/>
<line x1="266.66" y1="59.50" x2="266.66" y2="111.50" stroke="#ddd0ee" stroke-width="0.9"/>
<line x1="263.15" y1="59.50" x2="263.15" y2="111.50" stroke="#d6e8c6" stroke-width="1.2"/>
<line x1="299.35" y1="59.50" x2="299.35" y2="111.50" stroke="#cce2f4" stroke-width="1.6"/>
<line x1="311.89" y1="59.50" x2="311.89" y2="111.50" stroke="#cce2f4" stroke-width="1.6"/>
<line x1="273.14" y1="59.50" x2="273.14" y2="111.50" stroke="#cce2f4" stroke-width="1.2"/>
<line x1="316.42" y1="59.50" x2="316.42" y2="111.50" stroke="#ddd0ee" stroke-width="0.9"/>
<line x1="271.68" y1="59.50" x2="271.68" y2="111.50" stroke="#ddd0ee" stroke-width="1.6"/>
<line x1="314.86" y1="59.50" x2="314.86" y2="111.50" stroke="#f2e6b8" stroke-width="1.6"/>
<line x1="265.06" y1="59.50" x2="265.06" y2="111.50" stroke="#f2e6b8" stroke-width="0.6"/>
<line x1="292.80" y1="59.50" x2="292.80" y2="111.50" stroke="#f4d2c0" stroke-width="0.9"/>
<line x1="306.37" y1="59.50" x2="306.37" y2="111.50" stroke="#c6dcf2" stroke-width="1.2"/>
<line x1="346.73" y1="59.50" x2="346.73" y2="111.50" stroke="#ecb4c0" stroke-width="0.9"/>
<line x1="352.59" y1="59.50" x2="352.59" y2="111.50" stroke="#f2e6b8" stroke-width="0.6"/>
<line x1="335.37" y1="59.50" x2="335.37" y2="111.50" stroke="#f2e6b8" stroke-width="0.9"/>
<line x1="334.43" y1="59.50" x2="334.43" y2="111.50" stroke="#ddd0ee" stroke-width="1.2"/>
<line x1="322.87" y1="59.50" x2="322.87" y2="111.50" stroke="#f4d2c0" stroke-width="0.9"/>
<line x1="348.20" y1="59.50" x2="348.20" y2="111.50" stroke="#f0c2ca" stroke-width="0.6"/>
<line x1="332.29" y1="59.50" x2="332.29" y2="111.50" stroke="#d6e8c6" stroke-width="1.2"/>
<line x1="355.66" y1="59.50" x2="355.66" y2="111.50" stroke="#cce2f4" stroke-width="0.6"/>
<line x1="343.27" y1="59.50" x2="343.27" y2="111.50" stroke="#ecb4c0" stroke-width="0.9"/>
<line x1="360.67" y1="59.50" x2="360.67" y2="111.50" stroke="#cce2f4" stroke-width="1.2"/>
<line x1="323.96" y1="59.50" x2="323.96" y2="111.50" stroke="#f0c2ca" stroke-width="0.9"/>
<line x1="375.62" y1="59.50" x2="375.62" y2="111.50" stroke="#f4d2c0" stroke-width="0.6"/>
<line x1="323.14" y1="59.50" x2="323.14" y2="111.50" stroke="#f2e6b8" stroke-width="0.9"/>
<line x1="325.86" y1="59.50" x2="325.86" y2="111.50" stroke="#f4d2c0" stroke-width="0.9"/>
<line x1="329.95" y1="59.50" x2="329.95" y2="111.50" stroke="#f2e6b8" stroke-width="0.6"/>
<line x1="348.63" y1="59.50" x2="348.63" y2="111.50" stroke="#d6e8c6" stroke-width="1.2"/>
<line x1="324.51" y1="59.50" x2="324.51" y2="111.50" stroke="#cce2f4" stroke-width="0.9"/>
<line x1="342.66" y1="59.50" x2="342.66" y2="111.50" stroke="#ecb4c0" stroke-width="0.6"/>
<line x1="373.31" y1="59.50" x2="373.31" y2="111.50" stroke="#c6dcf2" stroke-width="0.6"/>
<line x1="372.86" y1="59.50" x2="372.86" y2="111.50" stroke="#f0c2ca" stroke-width="1.2"/>
<rect x="262.54" y="46.4" width="3.39" height="13.800000000000004" fill="#2f7ac4"/>
<rect x="265.93" y="46.4" width="20.16" height="13.800000000000004" fill="#a8193a"/>
<rect x="286.09" y="46.4" width="1.70" height="13.800000000000004" fill="#edb120"/>
<rect x="287.79" y="46.4" width="15.26" height="13.800000000000004" fill="#e05a1e"/>
<rect x="303.05" y="46.4" width="8.16" height="13.800000000000004" fill="#a8193a"/>
<rect x="311.21" y="46.4" width="13.19" height="13.800000000000004" fill="#5cc4ee"/>
<rect x="324.40" y="46.4" width="6.59" height="13.800000000000004" fill="#efb42a"/>
<rect x="330.99" y="46.4" width="19.15" height="13.800000000000004" fill="#78b030"/>
<rect x="350.15" y="46.4" width="17.90" height="13.800000000000004" fill="#3580cc"/>
<rect x="368.05" y="46.4" width="6.91" height="13.800000000000004" fill="#78b030"/>
<rect x="374.95" y="46.4" width="12.25" height="13.800000000000004" fill="#3580cc"/>
<path d="M340.1 47.7V46.4M387.0 58.9V61.0M285.0 58.9V62.2M381.7 58.9V64.7M370.4 47.7V45.7M364.5 58.9V60.8M299.2 58.9V60.6M267.0 58.9V61.4M275.9 58.9V61.9M316.5 47.7V46.3M358.4 58.9V60.2M360.6 47.7V44.7M348.2 58.9V60.5M309.6 47.7V43.0M270.3 47.7V44.4M314.5 58.9V61.4M364.2 47.7V41.7M304.5 58.9V60.9M322.0 47.7V43.6M319.6 47.7V46.3M299.1 47.7V46.3M372.6 47.7V45.9M313.8 58.9V61.4M316.6 58.9V61.2M287.0 47.7V45.9M285.0 47.7V45.6M274.4 58.9V60.8M376.8 47.7V46.0M276.1 58.9V61.1M373.3 47.7V45.3M303.9 58.9V61.3M348.6 47.7V46.4M368.3 47.7V46.0M336.9 58.9V61.6M352.3 47.7V46.3M290.8 47.7V43.6M358.5 47.7V45.7M294.6 58.9V62.2M319.9 58.9V60.3M308.4 58.9V60.6M309.0 58.9V63.0M344.5 58.9V61.3M325.9 47.7V45.0M348.5 58.9V60.9M265.9 47.7V45.3M306.7 58.9V61.2M373.6 58.9V60.6M313.5 58.9V61.6M282.9 58.9V61.7M312.0 47.7V44.5M353.5 47.7V45.8M287.9 47.7V44.7M299.0 47.7V45.0M365.7 58.9V64.0M370.8 47.7V44.8M294.6 58.9V60.2M282.5 47.7V46.4M279.2 47.7V43.1M383.3 47.7V44.3M375.9 58.9V61.1M281.8 47.7V46.1M283.7 58.9V60.3M277.3 47.7V45.8M338.0 47.7V44.7M302.0 58.9V60.3M331.2 47.7V45.3M273.0 47.7V42.0M336.3 47.7V45.9M372.5 58.9V60.7M351.5 58.9V60.2M358.3 47.7V42.8M302.2 47.7V43.5M351.4 58.9V61.1M336.9 58.9V60.8M377.4 58.9V60.3M281.7 58.9V60.6M354.7 58.9V60.5M358.2 47.7V46.1M335.2 47.7V44.4M276.3 58.9V62.9M341.4 58.9V60.8M383.6 58.9V60.2M276.7 47.7V46.0M266.3 47.7V45.2M304.7 47.7V45.1M367.3 47.7V44.1M329.1 58.9V62.1M348.0 58.9V61.4M366.4 47.7V46.2M301.1 47.7V45.2M325.8 47.7V45.7M344.3 58.9V60.3M307.5 47.7V43.6M349.3 58.9V61.6M372.0 58.9V62.8M316.9 58.9V60.5M334.7 47.7V45.6M336.4 58.9V61.5M299.6 47.7V46.3M356.1 58.9V61.5M363.9 58.9V61.2M299.6 47.7V45.9M303.3 58.9V60.8M321.8 58.9V61.6M377.6 47.7V41.4M263.4 58.9V61.1M342.6 47.7V46.0M294.5 47.7V44.6M354.0 47.7V45.9M305.5 58.9V60.8M289.0 47.7V46.0M342.2 58.9V62.3M278.0 58.9V61.8M306.0 58.9V60.4M271.7 58.9V61.5M355.0 47.7V41.4M343.1 58.9V62.8M318.8 47.7V42.6M278.1 47.7V46.4M355.5 58.9V60.4M330.2 47.7V46.0M361.2 58.9V61.8M334.8 58.9V63.6M350.7 47.7V44.8M377.4 47.7V45.6M379.1 47.7V45.1M289.4 58.9V63.9M281.2 47.7V44.8M373.7 47.7V46.2M263.3 47.7V45.9M295.4 47.7V44.1M285.4 58.9V61.1M266.1 58.9V61.7M308.3 47.7V46.2M320.9 58.9V60.2M366.2 47.7V46.2M318.5 47.7V44.4M281.4 58.9V60.8M358.6 47.7V46.1M325.8 58.9V64.7M371.6 47.7V45.1M332.6 47.7V46.3M328.0 58.9V62.5M265.9 58.9V60.3M297.2 58.9V61.1M375.6 47.7V45.8M279.7 47.7V45.2M350.8 58.9V61.6M285.1 47.7V44.3M264.6 58.9V62.4M295.1 58.9V60.3M330.1 58.9V62.1M293.2 58.9V64.6M313.3 58.9V62.5M357.9 47.7V45.0M273.6 58.9V61.3M295.7 58.9V61.0M331.8 47.7V43.6M364.3 58.9V60.3M270.5 47.7V44.9M357.1 58.9V61.8M327.3 47.7V44.4M264.3 58.9V64.7M264.1 58.9V60.5M341.8 58.9V60.3M362.8 47.7V45.3M290.0 47.7V44.3M317.7 47.7V45.5M351.1 47.7V45.1M308.5 47.7V44.1M264.2 47.7V41.4M316.2 47.7V45.3M315.3 58.9V61.2M369.7 58.9V60.9M363.3 47.7V46.3M378.2 47.7V45.5M350.5 47.7V45.9M298.4 47.7V46.3M352.2 58.9V60.7M280.6 58.9V60.7M275.3 58.9V61.5M306.1 47.7V45.4M344.6 58.9V60.4M370.2 47.7V41.7M320.4 47.7V45.9M321.7 47.7V44.6M270.2 47.7V44.7M359.4 47.7V42.0M383.0 47.7V45.7M345.2 47.7V45.8M281.3 47.7V46.0M320.8 47.7V46.0M298.6 58.9V60.7M352.8 58.9V60.7M340.2 58.9V64.1M350.3 47.7V46.3M335.2 47.7V43.5M287.4 47.7V45.1M263.7 58.9V60.9M367.4 58.9V60.2M327.2 47.7V44.6" stroke="#9ab84a" stroke-width="0.4" fill="none"/>
<path d="M320.5 58.9V63.2M308.1 47.7V45.5M301.1 58.9V60.3M337.3 47.7V46.0M280.7 47.7V44.0M343.4 47.7V45.4M296.6 47.7V46.0M339.0 58.9V61.0M315.5 58.9V60.3M379.4 47.7V46.2M308.5 47.7V44.7M324.5 47.7V46.0M309.4 58.9V63.4M317.6 58.9V61.9M363.3 58.9V61.5M360.4 58.9V61.6M379.8 47.7V46.2M336.9 58.9V61.1M379.3 58.9V60.4M280.1 58.9V60.6M367.0 58.9V60.3M379.6 58.9V60.5M377.1 58.9V60.2M269.5 58.9V61.7M324.1 47.7V46.4M286.8 58.9V60.2M353.7 47.7V46.1M358.6 47.7V46.0M331.2 58.9V63.1M318.7 58.9V60.6M287.8 47.7V46.1M382.8 47.7V45.0M318.1 58.9V61.3M336.0 47.7V46.3M290.1 58.9V61.8M381.7 47.7V45.1M385.6 58.9V60.5M318.1 47.7V43.5M277.6 58.9V64.4M380.5 47.7V45.8M352.5 58.9V60.5M378.5 58.9V60.5M314.5 47.7V44.5M343.9 58.9V61.0M377.4 58.9V60.7M311.9 47.7V46.2M371.5 47.7V45.8M325.8 58.9V61.6M327.0 58.9V60.4M300.5 58.9V62.2M291.9 58.9V61.2M267.7 47.7V46.1M344.9 58.9V62.6M364.7 58.9V61.9M275.8 47.7V43.4M297.4 47.7V45.2M349.7 47.7V45.6M353.1 47.7V45.3M304.2 47.7V41.9M359.2 58.9V60.6M301.8 58.9V60.9M294.9 58.9V60.5M381.9 47.7V41.4M319.8 58.9V61.4M384.7 58.9V60.3M325.4 47.7V46.3M355.5 58.9V60.6M330.6 47.7V42.6M380.3 58.9V60.9M346.3 58.9V62.7M351.1 58.9V60.3M349.7 58.9V60.6M276.4 47.7V45.8M325.3 58.9V60.4M337.6 58.9V60.9M301.4 58.9V60.4M332.0 58.9V60.6M358.1 47.7V46.0M362.1 58.9V61.7M291.3 58.9V60.9M320.2 47.7V41.6M337.4 47.7V46.4M268.1 58.9V60.4M283.1 58.9V63.8M348.9 47.7V46.3M349.8 47.7V41.4M298.4 58.9V60.4M355.9 47.7V45.1M356.8 47.7V45.5M314.4 58.9V63.2M352.8 47.7V44.5M361.4 47.7V44.9M298.1 47.7V44.2M377.1 58.9V60.5M349.5 58.9V60.8M292.6 47.7V46.4M378.9 47.7V42.9M377.8 47.7V46.0M385.5 47.7V45.0M377.3 47.7V42.8M367.1 58.9V61.0M370.0 47.7V45.1M376.7 47.7V45.4M275.6 47.7V44.1M289.3 47.7V44.8M302.7 47.7V45.7M278.8 58.9V60.9M268.1 58.9V63.0M295.4 47.7V46.1M268.9 47.7V42.6M366.3 58.9V60.8M320.2 47.7V45.4M315.0 58.9V60.8M283.2 47.7V45.8M283.2 58.9V61.3M351.8 47.7V42.2M268.5 47.7V45.9M346.7 58.9V64.7M334.3 58.9V61.7M333.8 47.7V42.7M321.1 58.9V62.4M363.8 58.9V60.4M366.5 47.7V46.0M376.3 58.9V60.3M384.3 58.9V61.9M334.0 58.9V62.8M384.5 58.9V60.3M326.8 58.9V61.2M287.5 58.9V63.8M278.1 58.9V60.3M268.8 47.7V45.8M330.2 58.9V61.4M335.0 58.9V60.9M358.2 58.9V60.6M326.3 58.9V61.0M324.7 58.9V61.2M363.1 58.9V60.3M353.8 47.7V43.5M362.7 58.9V60.2M357.1 47.7V45.9M327.6 47.7V44.7M303.2 58.9V61.4M341.1 47.7V44.9M269.0 47.7V45.6M380.8 58.9V61.3M364.8 47.7V46.0M334.4 47.7V45.8M274.7 58.9V64.7M340.6 58.9V60.3M343.5 58.9V60.5M358.3 58.9V61.9M269.3 58.9V60.7M379.5 47.7V44.9M299.6 58.9V62.8M291.1 47.7V44.7M373.5 58.9V60.7M346.9 47.7V42.3M336.5 47.7V44.5M357.4 58.9V64.2M336.8 58.9V61.3M324.0 58.9V63.2M345.8 47.7V43.8M373.2 47.7V46.2M313.1 47.7V45.2M359.5 58.9V62.1M349.7 47.7V46.2M290.7 58.9V60.3M328.8 47.7V45.6M331.9 47.7V42.6M317.5 47.7V44.3M333.3 58.9V61.7M380.1 58.9V60.4M377.6 58.9V60.5M273.9 58.9V60.5M290.9 58.9V60.4M277.8 47.7V44.3M382.7 58.9V61.3M353.3 47.7V43.0M332.8 47.7V45.8M326.7 47.7V43.1M348.2 47.7V46.1M317.5 47.7V46.1M289.7 47.7V46.0M382.1 58.9V60.2M301.7 58.9V61.4M270.8 58.9V63.9M278.7 47.7V46.1M352.6 58.9V60.4M351.5 47.7V45.6M370.3 47.7V42.1M273.6 47.7V45.0M270.8 58.9V60.5M263.5 47.7V45.3M314.5 47.7V45.8M322.6 47.7V46.2M273.6 58.9V60.9M342.6 58.9V61.4M283.8 58.9V61.0M328.8 47.7V44.7M317.4 47.7V46.0" stroke="#0072BD" stroke-width="0.4" fill="none"/>
<path d="M276.6 47.7V45.7M287.3 58.9V60.5M350.7 58.9V60.4M367.3 47.7V43.0M379.8 47.7V45.9M383.7 47.7V46.2M340.3 58.9V60.6M302.9 47.7V44.4M274.0 58.9V61.5M377.3 58.9V61.5M300.8 47.7V45.2M332.6 47.7V45.7M274.8 47.7V44.0M265.1 47.7V45.9M326.9 47.7V45.8M368.4 47.7V43.0M322.2 47.7V42.6M264.1 47.7V45.4M314.7 47.7V44.0M272.2 47.7V45.3M324.1 58.9V61.3M262.8 58.9V60.4M310.5 58.9V61.5M358.1 47.7V46.4M372.7 58.9V64.7M317.4 47.7V45.4M347.9 58.9V60.5M288.1 58.9V60.6M318.1 47.7V44.4M306.3 47.7V46.4M350.7 47.7V45.1M317.7 47.7V45.8M299.7 47.7V45.5M301.7 58.9V60.7M357.9 47.7V45.8M267.1 47.7V45.8M340.0 47.7V46.2M278.6 47.7V44.2M262.8 58.9V61.4M338.4 58.9V60.8M276.7 47.7V45.4M367.2 47.7V44.6M270.5 58.9V62.2M302.7 47.7V45.4M384.4 47.7V44.7M292.4 47.7V46.0M373.0 58.9V61.3M353.3 47.7V42.5M325.2 47.7V46.0M352.9 47.7V46.1M384.6 58.9V60.3M357.5 58.9V62.3M279.8 58.9V60.7M321.4 47.7V45.3M278.1 58.9V61.3M319.7 47.7V41.4M354.2 47.7V46.3M356.3 47.7V43.2M349.3 58.9V60.5M384.1 47.7V43.8M270.3 47.7V44.4M347.5 58.9V63.5M314.2 47.7V45.7M353.2 58.9V63.5M360.1 47.7V45.5M299.5 47.7V46.1M277.4 58.9V60.5M278.4 47.7V45.7M386.2 58.9V61.1M311.1 58.9V61.2M295.3 47.7V45.4M341.8 47.7V45.0M360.5 58.9V60.4M284.8 58.9V60.6M265.0 47.7V46.2M286.6 58.9V60.2M315.9 47.7V43.0M363.0 47.7V45.9M368.5 47.7V46.0M325.0 58.9V62.0M328.9 47.7V45.5M303.0 58.9V60.7M373.0 58.9V60.8M304.8 47.7V46.1M364.9 47.7V46.3M343.8 47.7V43.3M349.6 58.9V60.3M316.3 58.9V60.3M286.3 58.9V60.7M343.8 58.9V60.8M355.0 58.9V61.4M347.5 58.9V61.4M324.8 47.7V44.0M321.5 47.7V46.3M325.5 58.9V61.8M349.3 58.9V60.7M293.4 58.9V62.9M289.1 47.7V46.0M286.9 58.9V60.5M318.7 58.9V60.9M327.8 58.9V61.7M328.0 58.9V61.5M376.5 58.9V63.4M312.9 58.9V62.0M277.0 47.7V44.2M331.4 58.9V60.5M306.6 58.9V60.7M298.6 58.9V61.9M332.2 47.7V43.3M371.7 58.9V61.9M347.2 47.7V44.3M367.9 47.7V41.4M302.9 58.9V63.5M276.9 47.7V45.3M329.5 58.9V61.5M265.2 47.7V45.1M367.7 58.9V60.9M376.1 58.9V60.3M288.2 58.9V61.1M375.4 58.9V61.4M349.7 58.9V61.2M266.8 47.7V44.5M294.1 47.7V43.4M320.7 58.9V61.7M312.7 58.9V60.2M299.5 58.9V60.4M307.5 47.7V45.1M294.5 47.7V44.0M280.5 58.9V61.3M265.0 58.9V61.5M309.9 58.9V61.9M325.7 58.9V60.8M282.6 58.9V61.6M321.4 47.7V46.1M379.9 58.9V60.9M340.4 47.7V46.3M347.4 58.9V61.5M282.3 58.9V60.3M327.0 47.7V45.4M346.6 58.9V60.9M343.8 58.9V60.3M280.3 47.7V45.0M306.2 58.9V60.8M339.1 58.9V61.3M308.0 47.7V45.1M269.5 47.7V45.4M284.7 58.9V61.4M357.0 47.7V43.6M327.5 47.7V45.6M304.8 58.9V62.0M334.2 47.7V45.1M359.2 47.7V44.5M318.7 58.9V60.5M299.0 58.9V63.2M307.5 47.7V45.9M288.0 47.7V44.4M363.1 47.7V43.9M386.7 58.9V60.7M273.3 58.9V60.8M280.7 47.7V45.7M354.8 58.9V60.5M339.7 58.9V62.4M289.1 47.7V45.1M348.1 47.7V44.9M332.1 47.7V44.8M314.5 47.7V46.2M285.3 58.9V60.6M315.6 47.7V46.0M268.9 58.9V60.9M337.5 47.7V45.1M362.8 47.7V45.3M369.8 47.7V45.9M290.9 58.9V60.9M353.3 58.9V61.2M276.6 58.9V62.4M374.3 58.9V60.4M322.7 47.7V44.0M270.0 58.9V60.4M307.5 58.9V61.3M336.6 58.9V60.8M276.2 58.9V60.2M277.1 58.9V61.8M318.1 58.9V61.1M300.8 58.9V61.1M267.1 47.7V45.2M313.3 58.9V60.2M283.9 47.7V45.4M326.9 47.7V45.1M279.6 58.9V61.2M351.6 58.9V63.2M295.3 58.9V62.6M335.5 58.9V60.7M272.4 47.7V42.9M282.6 47.7V44.7M331.3 47.7V45.7M346.9 58.9V64.7M381.4 47.7V46.3M374.5 58.9V61.0M360.0 58.9V61.7M275.3 58.9V61.1M269.3 47.7V43.3M269.1 58.9V63.1M338.1 58.9V62.9M273.8 47.7V46.1M363.9 47.7V45.4M347.6 58.9V64.1M288.3 47.7V43.9M280.3 58.9V61.1M318.7 47.7V46.0M351.6 58.9V64.7M338.2 47.7V43.9" stroke="#7E2F8E" stroke-width="0.4" fill="none"/>
<path d="M275.2 58.9V61.9M310.3 58.9V60.9M306.8 47.7V44.6M304.2 58.9V64.7M266.0 47.7V45.5M271.5 47.7V44.5M278.2 47.7V44.6M279.3 47.7V42.6M270.9 47.7V45.2M269.2 47.7V41.8M270.4 47.7V46.1M282.9 58.9V60.2M307.6 47.7V41.4M310.2 58.9V60.3M283.6 47.7V44.7M307.7 58.9V60.2M283.9 47.7V44.7M272.2 58.9V60.8M275.0 58.9V62.3M303.1 58.9V62.2M303.7 47.7V41.8M310.1 58.9V61.1M271.7 58.9V60.3M278.6 47.7V43.8M276.4 58.9V61.7M274.1 47.7V45.5M281.9 58.9V60.6M306.5 58.9V60.9M276.3 47.7V43.3M276.8 47.7V45.5M285.1 58.9V63.0M269.7 58.9V61.2M266.7 47.7V46.1M272.5 47.7V46.4M270.4 58.9V60.3M270.7 47.7V44.5M283.1 47.7V44.1M275.5 47.7V41.4M308.2 47.7V46.4M267.4 58.9V60.8M283.9 47.7V45.3M309.0 58.9V60.9M273.7 58.9V60.7M310.7 58.9V62.1M310.7 58.9V60.4M311.1 47.7V44.7M305.6 58.9V60.8M270.4 47.7V45.8M275.8 47.7V41.4M304.3 58.9V61.7M280.3 58.9V61.0M307.6 58.9V61.0M268.0 47.7V45.8M277.2 47.7V41.4M310.4 58.9V61.7M272.4 47.7V44.8M308.8 47.7V44.2M271.8 58.9V64.2M272.7 58.9V62.8M283.9 58.9V60.2M269.7 47.7V45.9M271.6 58.9V64.3M274.2 47.7V41.7M303.8 58.9V60.2M268.1 47.7V44.9M270.6 47.7V45.2M272.4 47.7V45.7M276.4 47.7V45.7M271.2 47.7V45.2M310.2 47.7V44.8M306.7 58.9V60.8M282.8 47.7V46.3M305.5 58.9V61.7M280.0 47.7V46.2M268.5 47.7V41.4M283.6 58.9V61.1M304.1 58.9V61.8M283.9 58.9V60.5M278.5 47.7V45.6M283.6 58.9V60.3M276.7 47.7V45.5M306.8 58.9V60.6M276.2 47.7V41.4M311.1 47.7V43.2M303.5 47.7V42.3M271.7 58.9V64.7M305.0 47.7V45.4M309.5 47.7V42.0M282.5 58.9V61.8M303.1 58.9V60.2M306.4 47.7V45.1M273.7 47.7V45.7M307.5 58.9V64.1M280.6 47.7V45.8M309.9 58.9V60.2M272.6 47.7V45.2M281.7 47.7V42.4M267.6 47.7V45.8M267.9 47.7V43.7M280.7 58.9V61.3M284.0 47.7V45.8M284.0 58.9V62.2M269.3 58.9V60.3M271.6 47.7V41.4M279.6 47.7V46.3M270.5 47.7V45.9M307.0 58.9V63.2M304.7 47.7V45.9M276.6 58.9V60.4M270.4 47.7V45.9M310.4 58.9V61.3M271.9 58.9V60.6M275.8 47.7V45.8M283.4 47.7V43.9M274.5 58.9V62.7M266.8 47.7V44.5M304.4 58.9V60.3M276.4 47.7V42.9M268.1 58.9V62.8M279.2 47.7V45.7M306.4 58.9V60.5M277.9 58.9V60.9M272.6 47.7V46.4M282.3 58.9V60.7M269.7 47.7V46.2M278.9 58.9V61.2M283.5 58.9V62.8M311.1 58.9V61.7M266.2 58.9V60.4M306.1 47.7V44.3M285.9 47.7V45.6M309.0 47.7V44.5M305.1 58.9V61.3M283.5 58.9V61.1M282.2 58.9V63.3M271.1 58.9V60.7M303.7 58.9V61.3M272.5 47.7V43.9M266.5 58.9V62.2M277.6 58.9V60.8M273.2 47.7V42.0M310.6 47.7V45.6M269.6 58.9V60.4M281.0 58.9V61.1M266.0 47.7V45.9M276.9 58.9V60.2M283.2 58.9V60.9M268.4 58.9V60.6M282.2 58.9V61.5M279.4 47.7V45.8M305.0 47.7V45.6M273.4 47.7V46.0M309.2 47.7V46.3M274.0 47.7V45.3M285.0 47.7V45.5M309.2 58.9V61.3M282.7 47.7V45.0M269.6 58.9V61.5M305.7 58.9V61.0M270.0 58.9V62.1M281.8 58.9V60.9M269.7 47.7V46.2M305.6 58.9V61.8M269.4 47.7V45.2M308.4 58.9V62.3M278.1 58.9V62.1M268.4 47.7V46.0M272.9 47.7V46.0M270.3 47.7V44.3M270.7 58.9V60.8M309.8 47.7V46.0M310.0 58.9V61.0M269.1 47.7V45.8M304.8 47.7V46.1M304.1 47.7V45.5M278.0 47.7V46.2M268.4 58.9V61.4M270.7 58.9V62.8M281.8 58.9V60.6M306.1 58.9V63.6M269.7 47.7V46.1M305.2 58.9V64.6M308.6 47.7V42.4M267.5 58.9V60.8M282.9 47.7V44.6M285.1 47.7V46.2M276.1 58.9V60.3M307.7 47.7V44.4M310.1 47.7V43.0M309.8 58.9V63.2M273.4 47.7V45.8M267.9 47.7V44.7M269.0 58.9V61.3M275.9 47.7V43.2M306.6 58.9V60.8M281.3 58.9V60.7M269.7 58.9V62.1M282.3 47.7V43.7M276.1 58.9V63.0M278.0 58.9V62.0M279.6 47.7V44.3M274.7 58.9V62.9M276.3 58.9V60.8M278.8 58.9V60.6M283.4 47.7V46.0M280.1 58.9V60.6M271.7 58.9V60.6M269.2 58.9V60.7M269.2 58.9V61.7M270.9 58.9V61.1M266.5 58.9V61.7M276.5 58.9V61.7M271.1 47.7V45.0M268.3 58.9V62.9M275.4 47.7V41.8M307.4 58.9V60.3M281.1 47.7V45.5M281.6 47.7V46.4M278.5 58.9V60.8M267.6 58.9V61.8M268.4 58.9V60.4M280.5 58.9V60.4M281.4 58.9V63.8M268.8 58.9V61.3M284.3 58.9V60.3M303.4 47.7V44.8M307.5 58.9V61.4M285.4 58.9V61.6M274.8 47.7V45.4M266.9 47.7V45.2M305.3 58.9V60.8M274.4 58.9V64.4M271.0 58.9V63.7M279.3 47.7V46.0M279.4 58.9V61.7M282.7 58.9V61.6M266.7 47.7V44.2M284.6 58.9V60.8M279.5 47.7V44.7M282.1 47.7V44.7M271.1 58.9V60.6M307.4 47.7V45.1M275.8 47.7V44.0M274.1 58.9V60.8M285.0 58.9V62.8M279.9 47.7V45.2M278.8 58.9V60.8M304.4 58.9V60.9M283.4 58.9V60.8" stroke="#a8193a" stroke-width="0.4" fill="none"/>
<path d="M313.4 47.7V43.4M314.1 58.9V60.8M321.4 58.9V60.4M313.6 47.7V45.2M313.3 58.9V60.3M318.1 58.9V61.4M312.5 47.7V43.7M323.6 58.9V60.4M322.8 47.7V46.2M320.0 58.9V60.9M324.1 58.9V62.2M320.3 58.9V60.5M323.7 58.9V60.7M317.2 47.7V46.0M317.6 47.7V45.4M323.0 58.9V61.6M317.5 58.9V60.4M314.1 47.7V45.5M315.4 47.7V45.9M313.9 58.9V62.2M323.9 47.7V43.2M313.3 47.7V44.7M317.5 47.7V43.6M316.3 47.7V46.0M316.0 58.9V60.6M317.7 58.9V64.7M316.7 47.7V46.1M314.8 58.9V60.9M315.9 58.9V62.8M316.2 47.7V45.2M324.3 47.7V44.7M316.8 47.7V46.0M316.1 58.9V60.5M324.3 58.9V60.4M315.4 58.9V63.3M316.6 47.7V45.8M313.9 47.7V45.7M324.4 47.7V45.9M317.8 47.7V46.4M316.9 58.9V61.1M314.9 47.7V44.8M323.6 58.9V62.6M313.4 47.7V45.1M320.7 58.9V62.1M315.6 47.7V44.1M323.7 58.9V60.6M312.9 47.7V44.7M318.1 58.9V64.7M322.8 47.7V45.0M317.8 58.9V61.2M321.1 47.7V42.6M314.5 58.9V60.5M313.7 58.9V61.0M322.7 47.7V44.0M322.6 47.7V44.5M319.8 47.7V44.8M321.5 58.9V60.4M313.1 58.9V62.1M313.0 58.9V61.4M312.5 58.9V61.7M323.6 47.7V44.8M315.9 58.9V60.9M317.8 47.7V46.1M322.5 47.7V44.2M321.4 47.7V44.5M314.7 47.7V44.5M313.2 47.7V45.8M311.7 47.7V45.2M312.3 47.7V44.2M323.0 58.9V62.7M319.5 58.9V60.9M323.7 47.7V43.8M320.2 58.9V61.9M317.1 47.7V46.1M314.0 47.7V44.8M322.7 47.7V45.5M312.7 47.7V44.9M314.2 47.7V45.2M313.8 47.7V46.2M319.2 47.7V42.0M320.1 47.7V45.8M324.4 47.7V45.8M314.9 58.9V63.7M314.3 58.9V63.4M316.6 47.7V46.1M313.2 58.9V60.5M323.3 47.7V45.1M318.0 47.7V45.4M324.1 58.9V60.3M318.9 58.9V60.9M313.1 47.7V46.0M319.1 47.7V45.8M313.5 47.7V45.5M319.4 47.7V44.8M323.4 58.9V60.3M316.8 47.7V44.3M314.0 58.9V61.2M318.9 58.9V61.2M312.9 58.9V60.8M316.5 47.7V46.2M324.2 47.7V45.7M312.8 47.7V45.7M315.1 47.7V45.8M322.4 58.9V60.5M314.0 47.7V46.2M319.7 47.7V46.0M312.0 58.9V60.3M313.7 47.7V45.6" stroke="#5cc4ee" stroke-width="0.4" fill="none"/>
<path d="M311.0 58.9V60.4M321.1 58.9V60.8M267.0 58.9V60.7M298.2 58.9V61.6M370.1 58.9V60.2M294.0 58.9V63.0M291.2 47.7V44.8M265.7 58.9V64.7M289.8 58.9V61.8M286.4 47.7V45.7M321.3 58.9V62.2M378.0 47.7V45.2M298.2 47.7V46.3M335.3 47.7V45.9M379.4 47.7V45.8M293.0 47.7V45.0M279.7 58.9V60.7M339.2 58.9V60.2M340.4 58.9V60.8M284.1 58.9V60.6M382.4 47.7V45.4M349.3 47.7V45.9M267.8 47.7V45.8M343.3 58.9V64.3M340.9 58.9V61.7M386.9 58.9V60.7M379.5 47.7V44.7M302.8 58.9V61.0M275.3 47.7V45.0M319.5 58.9V61.0M269.1 47.7V46.1M371.1 58.9V63.1M359.6 58.9V62.1M371.0 47.7V46.3M315.4 47.7V41.4M326.9 58.9V61.4M305.6 58.9V64.7M371.0 47.7V45.5M360.5 47.7V46.1M360.1 58.9V60.8M276.7 58.9V60.7M277.4 58.9V62.1M351.5 58.9V60.4M362.5 47.7V43.6M345.6 58.9V61.0M385.7 58.9V62.4M354.5 47.7V45.8M378.9 58.9V61.1M339.1 47.7V45.6M316.8 58.9V61.8M313.3 47.7V43.5M350.9 58.9V60.8M289.4 47.7V45.9M345.3 58.9V60.7M296.6 47.7V45.5M380.1 47.7V43.3M267.6 47.7V46.1M385.5 58.9V62.3M364.1 58.9V62.8M306.1 58.9V60.2M266.7 47.7V45.6M339.8 47.7V45.6M280.2 58.9V61.5M320.9 47.7V43.2M360.1 58.9V61.0M341.5 47.7V46.3M318.0 47.7V45.5M263.9 58.9V61.3M378.2 58.9V63.0M374.9 58.9V61.3M354.5 58.9V63.3M381.2 58.9V61.7M381.8 47.7V46.0M307.2 47.7V43.8M374.1 58.9V61.0M337.5 47.7V45.7M365.3 58.9V61.2M276.9 47.7V44.0M351.3 58.9V63.3M319.6 58.9V60.3M378.5 47.7V45.9M291.1 47.7V44.9M354.8 58.9V61.8M359.0 58.9V60.7M314.8 58.9V61.4M317.3 58.9V60.4M303.7 47.7V46.2M288.0 58.9V61.6M347.2 58.9V62.7M312.0 47.7V44.6M271.3 47.7V43.9M347.4 58.9V60.7M299.6 47.7V43.9M345.5 47.7V45.7M326.8 47.7V46.1M267.8 47.7V45.6M289.5 58.9V62.1M270.6 47.7V45.5M295.5 58.9V61.0M358.4 47.7V46.1M291.3 47.7V44.0M375.9 58.9V61.9M266.1 58.9V60.7M300.1 47.7V46.3M320.9 58.9V60.8M286.7 47.7V46.2M310.2 58.9V61.7M269.1 47.7V43.6M339.0 47.7V46.2M357.4 58.9V60.5M311.3 58.9V62.0M305.6 47.7V43.8M367.9 47.7V43.8M358.4 47.7V45.3M348.1 47.7V44.4M372.1 58.9V62.3M385.2 47.7V44.6M297.4 47.7V43.6M379.4 58.9V60.4M310.2 58.9V62.8M326.1 47.7V42.7M272.9 47.7V45.8M326.1 58.9V60.5M326.0 58.9V60.3M349.7 47.7V45.2M354.4 47.7V45.7M385.4 47.7V46.2M283.5 47.7V41.4M351.6 47.7V45.9M294.4 58.9V60.5M374.2 58.9V60.7M275.8 47.7V46.0M382.0 58.9V61.5M356.7 47.7V45.9M293.8 58.9V62.1M368.5 58.9V60.6M280.9 47.7V46.0M383.4 47.7V44.8M360.6 47.7V44.9M314.3 47.7V45.6M369.2 58.9V60.3M300.6 47.7V44.3M364.4 47.7V45.2M379.1 47.7V45.6M326.8 47.7V46.2M323.7 58.9V60.4M333.4 47.7V45.4M371.2 47.7V44.3M385.5 58.9V62.8M356.6 58.9V64.4M275.8 47.7V46.4M324.0 47.7V41.6M264.3 47.7V45.9M302.7 58.9V61.2M265.6 58.9V60.3M327.0 58.9V61.1M301.8 47.7V46.1M362.0 58.9V61.1M359.8 47.7V46.3M338.0 47.7V44.6M355.1 58.9V62.6M348.8 58.9V61.6M377.2 58.9V64.7M285.3 47.7V44.7M311.5 47.7V43.6M283.5 58.9V60.5M350.9 58.9V62.9M282.9 47.7V45.3M276.6 47.7V46.4M307.2 47.7V45.7M363.2 58.9V60.8M386.5 47.7V44.8M277.4 47.7V45.1M384.5 47.7V46.1M298.3 47.7V46.4M325.2 47.7V46.0M364.7 47.7V45.9M313.2 58.9V61.8M330.3 58.9V60.5M369.3 58.9V60.5M300.1 47.7V45.9M321.5 47.7V45.6M293.8 58.9V60.3M316.2 47.7V46.0M292.2 58.9V60.3M275.2 47.7V44.9M263.0 58.9V64.7M311.2 47.7V44.8M318.0 47.7V46.4M311.4 47.7V46.4M364.6 47.7V46.2M296.9 47.7V43.7M354.3 47.7V46.2M332.1 47.7V44.9M347.8 58.9V62.8M366.3 58.9V62.0M333.7 47.7V42.7M299.0 47.7V44.6M363.8 47.7V46.4M294.6 58.9V62.9M379.5 47.7V44.6M332.8 47.7V42.2M331.2 47.7V45.9M276.6 47.7V46.4M290.6 47.7V46.1M328.1 47.7V46.2M275.9 58.9V60.4M356.9 58.9V60.3M367.2 58.9V60.8M359.9 47.7V45.8M280.6 47.7V46.1M290.6 58.9V62.5M313.4 47.7V45.3M326.8 58.9V60.8M341.7 47.7V45.2M335.4 58.9V61.1M298.0 58.9V60.9M344.2 58.9V63.9M287.6 47.7V43.6M273.1 58.9V62.5M346.3 47.7V45.8M348.2 47.7V46.0M345.2 58.9V60.4M318.2 47.7V45.3M302.7 58.9V61.3M292.4 58.9V61.5M295.4 47.7V45.0M369.5 47.7V45.3M335.0 58.9V60.3M313.0 47.7V45.3M381.9 47.7V45.7M349.5 58.9V64.7M318.8 58.9V63.5M281.6 58.9V60.3M379.4 58.9V60.9M368.1 58.9V61.2M318.3 58.9V60.6M282.4 47.7V45.5M368.4 47.7V45.0M275.4 47.7V45.0" stroke="#D95319" stroke-width="0.4" fill="none"/>
<path d="M339.4 47.7V46.4M371.1 58.9V60.5M350.0 58.9V61.7M332.8 47.7V43.0M348.6 58.9V64.0M343.5 58.9V61.7M341.1 47.7V45.4M339.2 58.9V61.5M369.0 47.7V45.0M349.9 47.7V43.6M331.2 58.9V62.0M347.4 58.9V60.4M342.3 58.9V60.5M334.4 47.7V46.3M349.8 58.9V60.5M349.9 47.7V43.9M331.9 47.7V46.3M338.8 47.7V45.6M346.3 47.7V45.8M369.1 58.9V61.0M348.1 47.7V45.6M337.1 47.7V46.0M344.0 58.9V60.5M338.8 47.7V41.9M347.2 47.7V45.6M334.8 58.9V60.8M349.3 47.7V45.3M373.1 58.9V60.9M348.4 47.7V45.6M373.3 58.9V61.0M338.7 47.7V42.3M345.4 58.9V61.1M348.2 47.7V46.2M373.8 58.9V62.1M335.7 47.7V41.4M337.4 47.7V44.8M340.9 47.7V42.0M372.4 58.9V61.4M340.4 47.7V43.2M339.7 47.7V43.7M372.4 47.7V46.4M331.2 58.9V60.3M335.4 47.7V42.9M339.3 47.7V45.7M336.6 58.9V61.3M374.8 58.9V60.3M348.3 58.9V60.7M369.9 58.9V60.2M349.1 47.7V45.8M371.5 47.7V45.5M368.4 47.7V45.4M369.7 58.9V60.3M340.1 47.7V46.3M335.2 58.9V61.7M337.6 58.9V60.5M338.2 58.9V60.9M373.6 58.9V60.9M342.1 58.9V63.9M343.4 58.9V60.3M332.8 47.7V42.5M338.5 58.9V63.8M370.5 47.7V46.4M346.9 58.9V63.0M348.3 58.9V61.3M348.9 47.7V44.2M374.0 58.9V64.1M344.2 58.9V61.9M339.9 47.7V46.1M336.1 47.7V45.2M337.1 47.7V45.0M349.4 47.7V42.9M331.1 47.7V45.0M370.5 47.7V41.4M368.5 47.7V46.2M337.0 58.9V62.5M337.6 58.9V61.5M335.1 47.7V42.6M343.0 58.9V62.1M369.3 58.9V63.3M341.2 58.9V62.6M341.0 47.7V44.5M341.7 47.7V45.7M333.8 47.7V41.4M373.0 58.9V61.1M334.3 58.9V60.3M332.8 47.7V44.6M331.5 58.9V62.1M344.3 47.7V46.4M332.0 47.7V45.8M346.7 47.7V45.6M369.5 58.9V60.3M341.1 58.9V60.4M331.1 47.7V45.8M346.4 47.7V46.0M370.8 58.9V60.6M368.4 47.7V46.1M369.8 58.9V60.5M371.5 47.7V45.6M349.1 47.7V45.3M372.3 58.9V60.7M346.8 47.7V46.2M343.4 58.9V61.3M373.6 47.7V45.4M371.9 58.9V61.8M343.0 47.7V44.5M370.4 47.7V45.8M374.9 47.7V46.3M370.7 58.9V62.1M349.6 47.7V46.0M339.5 47.7V45.2M343.7 47.7V46.1M342.4 47.7V45.2M333.3 47.7V46.4M373.9 47.7V46.2M347.2 58.9V60.7M345.0 47.7V45.4M333.7 47.7V46.2M345.4 58.9V61.7M337.9 47.7V45.5M349.1 47.7V42.3M371.8 47.7V45.6M368.3 47.7V46.1M337.0 58.9V62.7M337.0 58.9V61.2M338.3 58.9V60.7M342.6 58.9V61.5M338.5 47.7V43.9M337.8 47.7V45.9M347.3 47.7V45.3M344.3 58.9V61.3M368.6 47.7V46.1M334.3 58.9V63.6M370.5 47.7V45.7M341.5 58.9V64.2M345.9 58.9V60.3M372.3 47.7V45.0M332.6 58.9V60.9M344.8 58.9V60.7M371.4 47.7V45.3M340.9 58.9V60.5M335.3 47.7V45.3M331.1 47.7V45.3M332.8 58.9V61.8M371.0 58.9V61.1M331.4 47.7V46.1M368.1 58.9V62.0M335.6 47.7V46.1M333.6 47.7V43.5M372.1 47.7V46.2M333.3 58.9V61.0M340.9 47.7V46.4M345.2 47.7V41.4M348.2 47.7V45.8M373.5 58.9V60.5M350.0 58.9V60.5M343.8 47.7V44.7M339.5 47.7V45.6M372.2 47.7V46.0M374.0 58.9V62.7M345.4 58.9V60.8M343.4 58.9V60.9M341.7 47.7V44.4M332.4 58.9V60.3M372.1 47.7V44.5M347.2 47.7V45.3M345.6 58.9V60.5M340.8 47.7V43.9M346.6 47.7V42.8M343.2 58.9V60.7M341.7 58.9V60.3M368.6 58.9V61.0M331.8 58.9V63.5M349.5 47.7V45.3M344.1 58.9V60.8M370.3 58.9V60.3M371.8 47.7V45.5M346.9 58.9V63.1M349.7 47.7V46.3M335.0 47.7V42.9M337.7 58.9V62.1M348.4 58.9V62.1M335.2 58.9V62.8M372.8 47.7V43.7M347.9 47.7V45.8M349.9 47.7V45.4M338.4 47.7V44.8M371.4 58.9V62.7M371.9 47.7V44.5M341.7 58.9V61.3M337.2 58.9V61.2M344.3 58.9V60.5M344.0 58.9V60.6M346.8 47.7V44.1" stroke="#78b030" stroke-width="0.4" fill="none"/>
<path d="M384.9 47.7V45.8M355.7 47.7V46.3M345.8 47.7V44.2M331.4 58.9V61.9M309.1 58.9V62.7M326.4 47.7V41.6M265.0 47.7V45.4M320.5 58.9V62.6M349.0 47.7V44.8M344.8 58.9V60.3M352.5 58.9V62.3M305.9 47.7V43.1M276.3 47.7V44.7M383.8 58.9V60.5M279.8 58.9V62.4M278.7 58.9V64.1M265.3 47.7V45.3M271.5 47.7V43.0M290.0 47.7V44.8M264.1 47.7V45.0M296.3 47.7V46.4M292.5 58.9V60.2M311.0 58.9V62.4M280.4 58.9V62.4M283.2 47.7V45.1M300.6 58.9V60.2M360.2 58.9V61.4M369.1 58.9V61.0M323.4 47.7V45.0M272.7 58.9V60.9M291.4 47.7V46.1M273.6 47.7V45.7M268.2 58.9V61.0M289.4 47.7V45.5M297.1 58.9V60.3M360.4 58.9V62.0M287.9 58.9V60.6M294.0 47.7V46.3M382.5 47.7V46.3M322.7 58.9V60.3M344.6 47.7V44.7M380.5 58.9V63.7M332.5 47.7V44.1M316.8 58.9V60.4M372.5 58.9V60.2M271.9 47.7V44.4M289.0 58.9V64.1M365.5 58.9V60.5M382.7 47.7V46.2M343.5 58.9V61.5M280.6 58.9V60.9M382.8 58.9V60.8M358.7 47.7V45.3M297.4 58.9V61.3M381.6 58.9V60.7M339.7 58.9V61.7M286.5 47.7V45.7M272.6 58.9V60.9M379.7 58.9V61.2M274.3 58.9V61.3M310.5 58.9V60.7M283.9 47.7V43.3M289.8 47.7V46.0M308.6 47.7V42.7M303.7 47.7V45.8M281.0 58.9V61.3M302.9 58.9V60.2M325.6 47.7V45.3M263.9 47.7V42.3M331.4 47.7V44.5M284.2 58.9V61.9M374.9 47.7V46.4M271.8 47.7V46.4M273.9 47.7V46.3M277.2 47.7V46.3M326.9 47.7V43.2M268.4 58.9V63.5M340.0 47.7V44.4M308.8 47.7V44.8M372.4 58.9V61.5M308.3 58.9V62.4M326.6 47.7V46.4M324.8 58.9V61.0M371.6 58.9V60.7M278.2 58.9V61.9M351.2 47.7V42.6M328.1 47.7V45.9M308.7 58.9V60.4M353.5 58.9V60.9M336.6 58.9V61.2M315.0 47.7V46.3M301.1 47.7V42.6M353.1 58.9V60.5M294.9 47.7V46.0M375.1 47.7V44.6M366.8 58.9V61.5M324.8 47.7V46.4M298.7 58.9V60.4M353.2 47.7V43.2M289.3 58.9V60.4M274.5 47.7V45.6M267.5 47.7V46.4M287.7 47.7V44.8M320.1 47.7V46.4M386.8 47.7V44.0M292.3 58.9V60.3M343.2 47.7V46.2M359.0 58.9V60.9M288.5 47.7V45.4M296.3 47.7V41.4M282.0 47.7V44.8M335.1 58.9V63.7M341.0 58.9V61.1M352.1 47.7V45.7M375.4 47.7V44.6M304.8 47.7V43.8M303.6 47.7V45.7M375.0 47.7V46.2M342.4 58.9V62.7M307.9 58.9V64.7M293.0 47.7V43.6M342.4 58.9V60.7M364.7 47.7V45.0M276.6 47.7V43.7M384.4 58.9V61.9M291.5 47.7V44.5M344.6 58.9V60.3M382.6 58.9V61.8M331.0 47.7V44.8M353.7 58.9V60.8M326.2 47.7V43.4M300.2 47.7V44.5M301.4 58.9V62.1M273.0 58.9V60.9M337.0 47.7V46.3M354.2 58.9V60.7M329.7 47.7V44.7M272.8 58.9V60.9M333.0 47.7V45.3M303.6 47.7V45.3M311.1 58.9V63.1M350.7 47.7V45.0M333.3 47.7V44.9M287.2 58.9V60.3M351.3 47.7V45.8M290.8 58.9V62.5M333.0 47.7V46.3M320.8 58.9V61.0M374.5 47.7V44.9M323.7 47.7V46.1M293.4 58.9V63.3M304.7 58.9V60.3M332.8 58.9V60.4M292.6 58.9V64.7M281.0 47.7V44.7M350.6 47.7V45.6M339.9 47.7V43.3M323.9 47.7V45.1M332.3 58.9V60.8M358.9 47.7V45.4M379.6 58.9V62.0M287.4 58.9V60.8M272.4 58.9V63.2M279.9 47.7V45.5M382.4 47.7V43.8M301.3 47.7V45.9M332.6 47.7V44.3M367.5 47.7V46.3M373.9 47.7V46.2M335.4 58.9V60.3M335.7 47.7V45.8M295.3 47.7V45.6M373.6 47.7V43.1M363.5 58.9V60.8M283.9 58.9V61.0M326.2 47.7V42.9M271.1 58.9V60.5M280.4 58.9V61.7M280.6 47.7V46.1M340.2 58.9V63.9M285.0 47.7V44.0M286.0 58.9V60.6M329.0 47.7V45.1M306.7 58.9V60.7M385.3 58.9V63.6M305.2 47.7V45.6M286.5 47.7V42.5M321.8 58.9V60.7M341.8 47.7V45.7M302.9 47.7V45.9M270.9 58.9V60.9M381.9 58.9V63.1M290.0 47.7V44.7M310.7 58.9V61.5M336.8 58.9V63.9M326.9 58.9V61.5M340.9 47.7V45.5M334.1 58.9V60.7M309.9 47.7V46.3M309.9 58.9V60.2M367.0 58.9V60.2M339.2 47.7V44.1M359.8 47.7V44.3M334.5 47.7V45.3M270.5 47.7V46.1M292.2 47.7V44.6M307.1 58.9V62.4M269.8 58.9V61.6M308.4 58.9V61.1M332.1 58.9V61.8M363.4 47.7V43.9M320.2 47.7V45.8M361.8 47.7V42.3M295.7 58.9V61.6M272.0 47.7V41.9M348.4 47.7V46.2M346.0 58.9V64.2M382.3 47.7V45.6M304.1 47.7V45.9M372.4 58.9V60.3M354.2 47.7V45.9M266.4 47.7V45.8M288.8 47.7V42.0M332.5 47.7V43.8M337.4 58.9V63.6M344.9 58.9V61.2M330.4 47.7V46.0M361.0 58.9V60.3M306.1 58.9V60.7M366.6 58.9V61.9M314.0 47.7V43.7" stroke="#77AC30" stroke-width="0.4" fill="none"/>
<path d="M383.2 47.7V41.4M379.1 47.7V45.8M384.0 47.7V44.3M367.8 58.9V62.2M380.3 58.9V60.7M358.9 58.9V60.6M354.8 58.9V60.6M382.2 47.7V46.3M386.2 58.9V60.5M351.8 47.7V44.0M378.3 58.9V61.8M361.8 47.7V41.9M382.9 58.9V60.2M363.9 47.7V45.8M383.5 58.9V62.3M363.7 47.7V46.2M350.4 58.9V62.1M380.4 47.7V46.3M376.5 58.9V61.1M379.0 47.7V46.4M364.8 58.9V63.0M384.8 47.7V44.8M351.2 47.7V45.9M352.1 58.9V61.0M380.1 47.7V43.5M377.1 47.7V46.0M367.0 58.9V60.3M366.4 58.9V63.6M358.4 47.7V44.9M357.1 47.7V44.6M353.5 47.7V42.6M386.0 58.9V60.2M358.6 47.7V45.4M386.2 58.9V61.3M380.4 58.9V63.1M359.4 58.9V60.9M378.2 58.9V61.0M385.0 58.9V61.8M366.2 58.9V61.5M354.3 47.7V45.9M361.9 58.9V60.3M385.1 47.7V44.4M364.2 58.9V60.8M384.9 47.7V42.9M363.0 58.9V63.0M366.4 47.7V43.0M376.6 58.9V60.7M355.3 58.9V60.4M376.6 47.7V41.4M384.8 58.9V61.8M360.3 58.9V62.6M361.5 58.9V62.5M356.2 47.7V43.8M364.1 47.7V45.7M354.0 58.9V61.0M386.1 47.7V42.1M383.8 47.7V43.0M367.7 47.7V45.6M380.5 58.9V60.4M350.4 47.7V44.9M382.9 47.7V46.2M379.2 58.9V61.5M377.3 47.7V45.7M385.2 47.7V46.2M375.0 58.9V61.2M367.0 47.7V43.3M379.6 47.7V44.2M380.2 58.9V60.8M383.6 58.9V62.2M357.8 58.9V63.0M353.5 47.7V46.3M362.7 47.7V45.2M386.9 58.9V60.9M365.3 58.9V60.5M354.3 58.9V63.6M352.2 47.7V45.2M366.5 47.7V45.5M364.0 47.7V45.5M361.7 58.9V61.1M363.4 58.9V60.9M363.8 58.9V61.7M382.6 47.7V45.7M384.1 58.9V62.9M364.6 47.7V46.1M386.9 58.9V60.3M384.9 47.7V46.0M352.1 47.7V45.7M378.6 47.7V45.6M379.2 47.7V41.4M382.4 58.9V61.0M377.5 58.9V64.7M363.5 47.7V46.2M367.9 58.9V61.9M356.5 58.9V61.7M358.0 58.9V61.1M377.4 58.9V61.4M352.5 47.7V45.8M382.3 47.7V41.7M351.2 58.9V60.5M375.9 47.7V43.4M352.0 58.9V63.0M351.7 47.7V45.8M357.8 47.7V42.4M358.8 58.9V62.3M366.3 58.9V60.5M360.6 58.9V61.4M354.2 58.9V61.0M364.8 58.9V61.8M361.8 47.7V45.2M350.8 47.7V42.8M360.7 47.7V46.0M366.3 47.7V42.1M355.1 47.7V41.4M386.2 47.7V44.5M350.8 47.7V43.9M356.8 58.9V60.4M378.0 58.9V60.8M381.4 58.9V64.0M384.9 58.9V64.7M360.3 58.9V61.6M354.7 47.7V46.2M365.9 58.9V60.2M379.4 47.7V46.3M365.4 58.9V60.5M380.5 58.9V64.7M359.9 58.9V63.3M382.0 47.7V42.9M377.7 47.7V45.5M376.3 58.9V61.3M354.9 47.7V45.9M377.0 58.9V60.3M360.9 47.7V46.1M354.7 47.7V45.0M365.2 47.7V41.4M363.9 47.7V44.4M365.9 58.9V61.6M383.4 47.7V42.3M375.8 58.9V60.3M356.5 47.7V45.6M360.3 58.9V61.3M376.2 47.7V43.0M355.7 58.9V64.5M382.2 47.7V44.2M363.2 47.7V41.4M377.1 47.7V44.6M350.4 58.9V62.7M367.5 47.7V43.6M378.7 58.9V60.4M355.8 47.7V45.9M379.1 58.9V60.8M385.0 58.9V64.7M377.3 47.7V41.4M386.8 47.7V45.2M356.6 58.9V61.7M365.4 58.9V60.6M381.5 58.9V63.3M382.4 58.9V60.5M353.1 47.7V45.6M359.0 47.7V45.1M358.3 58.9V61.8M361.8 47.7V46.1M362.6 58.9V61.1M360.4 47.7V46.1M355.3 47.7V46.2M379.1 58.9V60.3M355.1 47.7V46.0M355.4 47.7V45.3M383.4 58.9V60.4M367.2 47.7V44.4M385.1 47.7V46.2M375.0 47.7V44.3M354.2 58.9V60.4M358.9 58.9V61.8M360.4 47.7V46.1M375.9 58.9V64.1M359.4 58.9V63.4M351.4 58.9V60.4M379.1 58.9V61.9M355.2 47.7V46.2M386.5 47.7V46.3M351.7 58.9V61.2M384.4 58.9V60.4M352.2 47.7V46.3M380.3 58.9V60.3M353.8 58.9V61.2M351.0 58.9V61.3M356.1 47.7V45.2M355.5 47.7V45.5M360.2 58.9V60.6M379.8 58.9V60.6M377.2 47.7V45.0M357.3 58.9V60.9M352.0 47.7V43.1M379.3 58.9V61.4M360.2 47.7V45.6M376.0 58.9V62.3M359.0 47.7V46.0M353.2 58.9V61.4M380.6 58.9V60.6M367.0 47.7V45.7M361.9 58.9V60.9M377.3 58.9V60.6M384.0 47.7V46.3M380.1 47.7V45.1M376.9 47.7V44.1M380.8 47.7V45.3M357.0 47.7V44.8M383.0 47.7V44.4M354.4 58.9V62.5M376.4 58.9V60.4M361.5 58.9V61.3M365.9 58.9V63.0M387.0 58.9V60.9M361.8 47.7V45.2M359.8 58.9V60.5M361.1 47.7V46.0M366.7 47.7V42.3M365.2 47.7V46.0M381.4 47.7V46.1M350.8 47.7V41.4M351.8 58.9V60.7M380.2 47.7V46.2M364.4 47.7V44.9M355.8 47.7V41.4M382.5 47.7V45.2M385.2 47.7V46.1M357.4 58.9V60.7M360.2 58.9V62.5M382.7 58.9V60.8M357.8 58.9V60.5M351.1 58.9V60.3M357.4 47.7V46.2M382.6 47.7V43.1M380.1 47.7V46.3M367.9 58.9V62.1M354.1 58.9V60.9M364.0 58.9V61.3M354.1 47.7V41.4M377.2 47.7V45.7M351.0 58.9V61.0M359.1 58.9V63.4M384.7 58.9V60.5M355.8 47.7V46.3M367.8 47.7V41.5M366.6 58.9V61.0M377.4 58.9V60.5M362.5 47.7V45.1M364.7 58.9V61.1M367.0 47.7V42.7M351.5 58.9V61.4M362.3 58.9V62.8M366.2 58.9V62.0M358.8 47.7V44.1M355.3 58.9V60.5M365.8 58.9V61.5M359.1 58.9V60.4" stroke="#3580cc" stroke-width="0.4" fill="none"/>
<path d="M364.3 58.9V60.3M338.6 47.7V45.9M370.6 47.7V44.6M345.2 58.9V61.3M298.5 47.7V45.8M383.1 58.9V62.4M344.9 47.7V45.1M349.1 47.7V45.2M266.7 58.9V63.6M385.8 58.9V63.8M291.9 47.7V45.7M329.4 58.9V64.3M367.5 47.7V46.0M276.4 58.9V60.7M318.6 58.9V61.3M333.0 47.7V45.2M383.6 47.7V44.5M295.0 58.9V63.0M270.9 58.9V60.9M300.7 47.7V45.2M329.0 58.9V61.5M333.7 47.7V45.0M272.9 47.7V46.3M353.5 58.9V60.8M274.8 58.9V60.2M284.6 58.9V62.7M362.2 58.9V60.6M288.1 47.7V44.1M374.0 47.7V44.1M354.9 58.9V60.8M302.7 58.9V60.6M309.7 58.9V60.4M345.7 58.9V61.8M358.2 47.7V44.2M320.9 47.7V42.9M320.1 47.7V43.7M290.1 47.7V41.4M356.6 58.9V61.8M279.9 47.7V42.8M271.7 47.7V46.1M307.6 58.9V60.5M353.9 58.9V61.7M348.0 47.7V44.1M366.7 47.7V46.1M321.2 47.7V43.2M351.9 47.7V44.8M351.6 47.7V45.4M346.5 58.9V61.5M278.2 58.9V60.9M296.8 47.7V46.2M264.7 47.7V43.6M309.9 58.9V62.0M364.5 47.7V46.4M293.3 47.7V46.1M382.2 58.9V61.5M351.7 47.7V43.7M328.8 58.9V62.8M367.9 58.9V62.9M361.8 58.9V62.3M284.6 58.9V60.6M268.4 47.7V44.9M371.9 58.9V60.3M386.4 58.9V62.3M334.6 58.9V62.0M316.0 58.9V60.3M363.2 47.7V42.2M268.1 47.7V44.3M377.9 58.9V60.5M334.2 58.9V61.2M279.0 58.9V60.9M313.8 58.9V60.8M375.4 47.7V46.4M269.3 47.7V43.3M350.9 47.7V45.0M384.3 47.7V44.6M350.2 47.7V45.8M290.8 58.9V62.7M290.6 47.7V45.1M278.0 58.9V62.5M374.1 47.7V43.1M275.1 47.7V44.1M270.1 47.7V46.0M355.4 58.9V61.0M296.3 47.7V45.8M365.7 47.7V45.7M266.1 58.9V61.7M299.9 47.7V45.6M279.8 58.9V60.9M386.0 47.7V46.2M386.2 58.9V60.9M295.4 47.7V45.9M323.2 58.9V61.1M341.0 58.9V60.9M268.7 47.7V46.1M332.9 58.9V60.6M375.8 47.7V45.6M383.6 47.7V45.6M265.5 58.9V60.7M370.6 58.9V61.1M350.0 58.9V60.9M297.1 47.7V45.6M280.1 58.9V60.8M268.8 47.7V45.9M285.5 47.7V45.3M266.5 47.7V46.3M355.7 58.9V62.3M334.8 58.9V61.8M297.0 58.9V64.7M268.0 58.9V62.3M278.5 47.7V44.2M337.1 58.9V62.9M347.0 58.9V61.7M341.7 58.9V60.4M301.1 58.9V60.8M313.5 58.9V61.5M358.4 58.9V62.3M371.8 58.9V63.8M366.0 58.9V62.1M264.7 47.7V45.3M330.2 47.7V45.9M365.3 58.9V61.5M330.0 58.9V61.2M376.9 47.7V46.2M266.3 58.9V60.7M289.6 58.9V62.8M344.8 47.7V45.4M293.3 58.9V61.3M329.3 47.7V44.9M274.0 47.7V45.7M351.5 47.7V45.8M364.8 47.7V45.8M345.1 58.9V60.4M287.6 58.9V60.3M300.1 47.7V45.2M344.1 47.7V45.8M301.8 47.7V44.9M308.7 58.9V62.5M296.7 47.7V41.4M371.0 58.9V63.2M369.8 58.9V60.8M294.7 47.7V44.4M371.1 58.9V60.7M338.8 47.7V45.4M369.5 47.7V45.3M304.5 58.9V61.3M271.7 58.9V62.1M328.1 58.9V60.8M267.2 47.7V42.9M314.1 58.9V61.0M362.4 47.7V45.7M309.2 58.9V60.3M288.0 58.9V60.7M316.0 47.7V44.6M378.6 47.7V46.3M337.6 47.7V44.6M331.7 58.9V61.2M264.9 47.7V45.3M318.0 58.9V64.0M354.2 47.7V45.4M297.9 58.9V60.4M345.1 58.9V60.3M281.3 47.7V43.8M316.5 47.7V44.6M365.7 58.9V62.2M306.6 58.9V61.1M367.0 58.9V61.0M292.6 47.7V44.5M378.2 47.7V44.4M333.6 58.9V60.7M363.0 47.7V42.9M357.2 47.7V45.4M282.3 47.7V45.9M359.7 58.9V61.4M333.3 58.9V60.5M371.2 58.9V61.0M291.3 47.7V44.6M298.1 58.9V62.7M303.0 58.9V62.8M303.1 47.7V45.8M268.8 47.7V44.2M347.2 58.9V60.9M285.7 58.9V63.0M344.7 47.7V46.2M376.7 47.7V46.1M369.6 58.9V64.3M362.8 58.9V61.4M311.6 47.7V43.6M350.2 58.9V61.5M297.2 47.7V44.1M306.9 47.7V45.3M373.3 58.9V62.4M269.0 47.7V45.1M329.0 47.7V44.7M326.5 58.9V63.6M380.6 58.9V60.2M288.7 58.9V60.2M269.6 58.9V60.9M341.4 58.9V61.3M286.4 47.7V45.9M268.6 47.7V45.9M354.2 47.7V46.3M354.8 47.7V45.9M267.7 58.9V61.7M328.5 58.9V62.1M278.2 58.9V60.4M367.4 58.9V60.5M314.6 58.9V61.1M328.4 58.9V63.7M300.8 47.7V42.7M273.4 47.7V45.9M361.7 58.9V60.3M277.2 58.9V61.2M348.0 47.7V46.1M368.2 47.7V45.9M344.8 58.9V64.7M282.0 58.9V60.7M384.2 47.7V42.1M355.8 58.9V61.5M377.7 47.7V45.1M360.1 58.9V61.5M326.1 47.7V46.3M342.9 47.7V45.3M277.0 47.7V44.5M262.6 47.7V46.3M313.7 47.7V43.3M379.1 58.9V60.6M320.2 58.9V61.8M271.5 47.7V44.0M313.9 58.9V60.6M269.8 58.9V62.6M370.8 47.7V45.6M269.5 58.9V60.5M299.6 47.7V45.3M288.3 47.7V44.1M317.3 58.9V60.9M324.3 47.7V42.6M334.1 58.9V60.3M281.6 47.7V44.3M365.5 47.7V44.0" stroke="#4DBEEE" stroke-width="0.4" fill="none"/>
<path d="M285.6 58.9V60.3M300.7 47.7V44.5M269.9 47.7V45.5M307.5 47.7V46.3M334.2 47.7V46.4M308.8 58.9V60.4M310.6 58.9V61.2M320.8 58.9V61.6M267.2 47.7V44.6M298.1 47.7V45.1M338.0 58.9V61.0M275.4 58.9V62.4M272.1 58.9V60.5M276.9 47.7V45.5M309.7 58.9V63.1M371.5 58.9V61.4M340.0 47.7V46.1M374.6 47.7V45.6M298.0 58.9V60.3M357.0 47.7V45.0M299.2 47.7V45.9M350.8 47.7V44.9M369.3 47.7V46.2M284.4 58.9V63.6M280.8 58.9V64.3M375.8 58.9V60.8M373.2 47.7V46.3M315.6 58.9V60.5M370.1 47.7V43.4M349.4 47.7V45.4M289.8 47.7V44.6M287.9 47.7V46.2M337.8 58.9V61.5M363.1 47.7V45.8M271.3 58.9V60.3M338.5 58.9V60.2M330.5 47.7V46.2M294.7 47.7V42.6M342.1 47.7V45.6M328.2 58.9V61.9M317.6 58.9V63.2M350.9 47.7V46.3M361.8 58.9V60.8M316.3 47.7V45.3M300.6 58.9V61.2M344.2 47.7V44.5M369.2 58.9V64.7M373.8 58.9V64.1M291.3 47.7V45.6M347.7 47.7V44.9M300.5 47.7V45.1M288.3 58.9V61.1M359.6 47.7V46.4M278.8 47.7V44.5M379.6 58.9V61.0M317.7 58.9V61.2M279.0 58.9V61.6M277.7 47.7V45.4M330.3 47.7V44.9M295.4 58.9V60.5M297.0 47.7V45.2M290.4 47.7V44.8M356.0 47.7V45.7M346.4 58.9V60.8M356.6 58.9V60.5M337.5 47.7V45.3M347.0 47.7V46.2M308.9 47.7V45.4M270.9 47.7V46.0M288.0 47.7V46.0M383.0 47.7V44.5M371.6 47.7V43.1M296.2 47.7V44.2M362.9 47.7V45.4M321.6 47.7V46.1M338.0 47.7V44.9M361.9 47.7V45.5M320.3 58.9V62.7M289.7 47.7V44.0M288.5 58.9V60.3M366.1 47.7V45.8M385.7 58.9V60.8M336.8 47.7V45.3M295.0 58.9V61.2M360.9 58.9V63.8M339.0 58.9V60.4M349.7 58.9V60.9M361.4 47.7V44.7M282.3 58.9V61.5M330.9 47.7V44.5M326.0 47.7V41.4M340.0 58.9V62.2M371.5 58.9V60.5M331.0 47.7V46.0M329.8 47.7V45.6M269.4 58.9V61.5M330.1 58.9V60.4M379.2 47.7V45.3M329.8 47.7V45.7M383.3 47.7V45.5M325.8 47.7V46.0M279.5 47.7V44.8M345.6 58.9V60.6M301.9 58.9V61.2M330.8 47.7V44.4M290.5 47.7V45.7M334.8 58.9V61.6M329.0 58.9V64.7M337.3 58.9V60.7M295.5 58.9V60.7M385.1 58.9V62.1M273.4 47.7V46.2M281.5 58.9V61.0M356.2 58.9V60.4M380.7 58.9V60.7M275.7 58.9V61.4M268.7 58.9V60.9M317.2 58.9V60.8M358.7 47.7V45.1M361.3 47.7V45.1M301.5 47.7V46.0M331.6 58.9V60.6M320.2 58.9V61.2M340.2 58.9V62.1M307.7 47.7V46.1M351.2 47.7V45.7M327.8 47.7V43.6M282.3 47.7V44.9M328.8 58.9V61.3M370.1 47.7V46.0M356.6 58.9V60.7M367.5 47.7V41.4M266.1 58.9V62.8M280.5 47.7V45.7M271.5 58.9V60.8M289.8 47.7V45.5M370.6 47.7V43.5M264.3 58.9V61.8M381.6 47.7V43.2M273.0 47.7V45.7M355.9 58.9V61.8M375.4 47.7V46.3M353.2 58.9V60.6M313.6 58.9V61.1M332.1 47.7V45.8M281.6 58.9V60.8M288.7 47.7V45.0M280.2 47.7V45.5M327.7 58.9V62.1M292.9 58.9V62.6M308.2 58.9V61.2M355.3 58.9V62.4M346.7 58.9V62.0M296.1 47.7V45.1M348.9 47.7V44.4M366.4 47.7V43.4M377.3 58.9V61.7M373.2 47.7V44.9M269.1 47.7V42.2M377.6 47.7V46.1M292.0 58.9V63.4M378.1 58.9V63.1M297.3 58.9V61.8M332.9 47.7V45.2M318.5 58.9V62.5M357.8 47.7V46.2M282.6 58.9V61.2M365.3 58.9V60.7M287.6 47.7V45.6M300.6 47.7V45.2M309.5 58.9V64.7M293.4 58.9V60.6M370.3 58.9V61.6M353.9 58.9V61.1M269.0 47.7V46.4M305.6 58.9V60.3M305.4 47.7V45.0M354.7 58.9V61.6M327.2 47.7V44.0M273.7 58.9V60.2M308.4 58.9V64.7M313.6 47.7V44.4M348.3 47.7V45.5M343.0 47.7V41.4M291.6 58.9V60.9M288.2 47.7V45.4M296.5 47.7V42.6M324.3 58.9V61.4M281.6 58.9V62.1M352.8 47.7V46.3M356.4 47.7V44.6M350.9 58.9V64.2M326.2 47.7V46.2M373.4 58.9V60.4M338.4 58.9V62.2M296.3 47.7V45.7M292.1 58.9V62.7M325.4 58.9V64.0M352.2 47.7V44.6M300.6 58.9V60.2M297.8 58.9V61.2M350.4 47.7V45.2M362.9 47.7V44.1M328.6 58.9V60.7M295.4 58.9V62.8M376.1 58.9V61.6M282.7 58.9V62.5M264.4 58.9V60.3M344.3 58.9V61.9M334.3 47.7V45.5M378.7 58.9V62.3M330.3 58.9V62.0M344.7 58.9V63.2M343.2 58.9V61.0M327.8 58.9V60.6M277.8 58.9V62.8M353.2 47.7V45.1M339.3 58.9V60.2M316.3 58.9V64.7M344.1 47.7V45.3M374.0 47.7V45.2M357.1 47.7V45.7M304.7 47.7V45.5M323.8 47.7V44.9M320.4 47.7V43.8" stroke="#EDB120" stroke-width="0.4" fill="none"/>
<path d="M293.2 47.7V45.8M306.7 58.9V60.3M336.5 58.9V61.6M323.3 47.7V45.9M385.6 47.7V43.4M367.5 47.7V41.4M287.3 47.7V45.9M280.2 47.7V41.7M279.5 58.9V61.2M299.1 47.7V45.3M315.8 58.9V62.7M273.9 58.9V61.1M292.3 47.7V41.4M286.9 58.9V61.6M339.7 58.9V61.0M296.3 58.9V62.2M282.5 58.9V61.4M356.6 58.9V62.8M308.3 58.9V61.9M341.4 58.9V60.3M281.2 58.9V64.4M375.4 47.7V41.4M309.0 47.7V45.8M357.0 47.7V45.5M283.2 58.9V61.0M346.8 47.7V46.2M265.5 58.9V61.5M344.9 58.9V60.7M284.0 47.7V45.4M374.6 58.9V61.9M355.0 47.7V41.7M269.8 58.9V60.6M326.4 58.9V60.7M367.9 58.9V60.9M311.8 47.7V43.6M277.3 58.9V60.5M346.8 47.7V42.1M338.6 58.9V60.5M284.5 58.9V63.8M383.4 47.7V43.6M270.8 58.9V60.5M315.7 58.9V61.0M339.9 58.9V61.2M285.1 58.9V61.3M307.2 47.7V45.4M346.8 58.9V61.1M385.1 58.9V62.8M296.3 58.9V61.4M368.2 47.7V44.1M352.3 47.7V43.8M290.6 47.7V45.6M323.7 58.9V60.7M331.7 47.7V46.0M304.9 47.7V45.2M333.6 58.9V62.2M386.3 58.9V62.3M315.7 58.9V60.4M287.0 58.9V60.8M327.2 47.7V45.3M346.8 58.9V62.1M287.9 58.9V60.5M291.2 47.7V45.8M329.0 58.9V60.3M345.5 58.9V60.2M299.1 47.7V46.4M267.4 58.9V61.4M384.4 47.7V42.5M366.9 58.9V62.6M373.3 58.9V61.5M385.4 47.7V44.0M272.8 47.7V41.4M333.7 58.9V60.3M379.0 58.9V61.6M282.4 58.9V61.0M340.9 47.7V46.2M363.1 58.9V60.8M275.9 58.9V61.0M385.5 58.9V61.7M330.7 58.9V60.2M278.3 58.9V60.3M345.7 58.9V60.5M373.6 47.7V46.2M298.7 58.9V60.5M288.2 47.7V45.4M343.5 58.9V61.1M324.3 47.7V45.9M357.2 58.9V61.0M312.9 47.7V42.5M337.6 47.7V46.1M277.7 47.7V42.7M307.1 58.9V62.0M348.5 58.9V60.6M301.1 58.9V64.7M263.1 47.7V44.4M278.4 47.7V45.9M269.3 47.7V45.7M315.0 47.7V45.1M270.8 47.7V46.2M288.3 58.9V61.5M263.3 47.7V45.4M292.1 47.7V44.8M349.5 58.9V60.7M278.7 47.7V44.2M287.4 47.7V44.5M321.4 47.7V45.2M280.3 58.9V60.8M350.9 58.9V60.5M289.9 58.9V60.5M321.0 58.9V60.7M289.5 47.7V45.0M367.2 58.9V60.5M348.8 47.7V42.4M345.1 47.7V46.1M345.3 58.9V61.7M327.8 58.9V60.4M306.1 58.9V60.8M293.3 47.7V46.2M292.0 47.7V46.4M367.2 47.7V46.4M313.2 58.9V60.7M375.8 58.9V60.3M317.3 58.9V61.3M292.2 47.7V43.5M376.7 58.9V61.6M288.6 58.9V60.6M267.6 58.9V62.7M377.3 47.7V45.7M341.6 47.7V45.2M296.3 58.9V61.8M321.6 58.9V62.4M285.7 58.9V62.0M272.1 47.7V43.8M304.8 47.7V44.7M384.1 58.9V61.2M269.7 58.9V60.2M330.6 47.7V44.2M363.0 58.9V60.6M352.1 47.7V45.5M373.2 47.7V46.1M359.1 58.9V64.7M295.4 58.9V60.3M336.9 58.9V61.4M290.2 58.9V60.7M334.9 47.7V43.5M308.7 58.9V61.3M329.0 58.9V60.7M331.6 47.7V45.6M343.1 47.7V46.3M262.9 47.7V45.0M377.8 47.7V44.4M269.9 58.9V61.5M358.1 47.7V46.3M365.5 58.9V60.9M354.8 58.9V60.3M302.2 58.9V60.6M328.6 47.7V43.6M330.6 58.9V60.4M347.2 47.7V46.3M339.7 58.9V60.4M315.7 58.9V61.7M289.7 58.9V61.8M337.1 47.7V45.5M269.7 58.9V61.9M323.0 47.7V42.3M364.9 58.9V60.4M286.3 58.9V60.6M357.5 47.7V45.5M378.9 58.9V62.2M359.0 58.9V60.8M368.2 58.9V60.4M345.3 47.7V43.6M264.5 58.9V61.9M334.0 58.9V61.3M272.0 58.9V61.5M310.9 47.7V45.6M283.1 58.9V60.4M376.9 58.9V60.4M326.7 58.9V62.2M339.1 58.9V60.7M339.6 47.7V45.2M333.6 47.7V44.0M318.2 58.9V61.5M305.4 47.7V43.9M373.7 47.7V45.1M263.0 47.7V45.3M343.2 58.9V60.3M313.2 58.9V61.1M340.3 47.7V45.3M370.9 47.7V43.0M319.7 58.9V62.7M338.2 47.7V45.6M312.0 58.9V60.5M360.6 47.7V46.2M306.7 47.7V46.1M385.8 47.7V45.4M304.3 47.7V45.9M381.5 58.9V60.3M385.9 47.7V45.4M365.5 58.9V60.7M374.0 58.9V60.9M336.1 58.9V61.7M366.7 58.9V60.4M281.9 47.7V44.5M335.5 58.9V61.7M292.9 47.7V41.4M379.4 47.7V45.7M281.1 47.7V43.4M348.1 58.9V60.9M339.9 47.7V41.4M318.1 58.9V62.7M362.7 47.7V44.8M374.5 47.7V45.1M296.3 47.7V44.2M287.4 47.7V42.9M340.0 58.9V61.0M269.4 47.7V45.1M268.7 58.9V61.1" stroke="#e8a040" stroke-width="0.4" fill="none"/>
<path d="M342.7 58.9V60.8M272.4 58.9V60.4M359.7 47.7V45.9M267.0 58.9V61.6M373.5 47.7V41.4M324.0 58.9V60.8M281.2 58.9V62.3M378.4 47.7V45.7M379.7 47.7V44.5M317.5 47.7V45.1M275.4 47.7V44.7M340.1 47.7V44.6M325.0 58.9V61.0M334.8 47.7V45.9M375.9 58.9V60.7M311.4 47.7V43.4M315.0 47.7V42.7M281.0 47.7V43.7M272.1 58.9V60.9M296.9 47.7V41.4M283.8 47.7V44.8M291.5 47.7V43.8M285.2 58.9V64.0M271.6 47.7V46.2M287.0 47.7V46.2M284.1 47.7V45.8M265.1 47.7V45.3M382.9 58.9V60.3M268.1 58.9V62.0M303.7 58.9V61.0M385.4 58.9V60.2M356.1 47.7V46.2M373.6 47.7V44.3M314.1 47.7V46.0M309.5 47.7V43.8M364.4 58.9V60.4M309.4 58.9V61.3M297.3 58.9V60.9M350.9 47.7V46.1M336.7 47.7V44.1M353.2 47.7V46.0M361.9 58.9V60.7M339.4 58.9V64.7M343.6 58.9V61.7M367.3 58.9V61.2M361.8 47.7V46.1M376.6 47.7V45.1M359.9 58.9V62.2M277.0 47.7V44.6M352.9 58.9V60.3M337.7 47.7V46.1M303.6 58.9V60.3M292.3 47.7V41.4M296.9 58.9V60.8M294.5 58.9V60.2M283.0 47.7V45.2M346.0 47.7V45.6M318.7 47.7V41.8M292.5 47.7V45.1M383.2 47.7V46.3M290.6 47.7V44.9M274.9 58.9V60.5M266.1 47.7V45.8M317.1 58.9V60.7M385.4 47.7V45.5M383.5 58.9V61.4M341.0 58.9V60.4M324.6 47.7V45.9M318.6 58.9V60.8M334.8 58.9V63.9M271.9 58.9V62.0M364.5 47.7V43.7M283.5 58.9V60.4M269.6 58.9V60.8M358.7 58.9V60.9M315.5 47.7V42.6M304.5 47.7V45.7M339.1 47.7V46.0M385.9 58.9V60.9M367.8 58.9V62.2M321.4 47.7V46.0M273.0 58.9V61.5M288.4 58.9V60.5M362.1 47.7V42.2M366.8 58.9V60.3M274.2 58.9V62.2M303.0 47.7V44.4M367.6 58.9V63.7M387.1 47.7V46.1M269.0 58.9V62.6M351.4 47.7V46.4M317.5 47.7V41.4M279.0 58.9V61.3M269.7 58.9V62.2M363.1 47.7V45.9M344.4 47.7V46.2M314.0 58.9V62.1M363.2 58.9V61.0M295.2 47.7V45.7M383.0 47.7V44.7M321.2 47.7V46.3M327.4 58.9V60.8M269.6 47.7V42.8M351.6 58.9V62.0M301.6 47.7V43.3M366.2 58.9V61.1M305.3 47.7V46.1M337.2 58.9V60.6M343.0 47.7V44.8M373.1 58.9V61.9M360.0 47.7V41.4M323.8 47.7V44.3M296.2 47.7V44.5M346.7 47.7V46.1M280.7 58.9V60.4M339.1 47.7V45.0M350.0 58.9V63.4M317.0 58.9V60.8M329.2 58.9V60.5M341.8 58.9V61.4M347.8 47.7V45.6M341.2 47.7V46.2M312.2 47.7V46.1M276.5 58.9V63.2M384.9 47.7V46.0M284.5 58.9V61.2M337.6 58.9V60.7M264.0 58.9V60.5M291.0 47.7V42.3M279.9 47.7V46.0M264.4 58.9V60.3M271.6 47.7V46.2M318.9 58.9V60.9M343.1 47.7V46.4M330.6 47.7V44.8M345.8 47.7V44.7M272.6 47.7V46.2M312.2 58.9V62.4M306.4 58.9V60.4M349.0 47.7V46.2M310.4 47.7V46.1M279.3 58.9V64.7M337.7 47.7V46.0M330.7 58.9V64.7M310.3 47.7V46.3M385.5 47.7V46.0M365.3 47.7V45.0M299.6 58.9V61.2M291.0 58.9V61.5M298.1 58.9V60.4M370.9 58.9V61.9M293.0 58.9V60.7M335.7 58.9V61.2M384.6 58.9V60.6M283.7 58.9V60.3M277.3 58.9V60.4M279.7 47.7V42.4M349.6 47.7V44.5M314.2 47.7V46.0M342.4 58.9V62.2M355.5 58.9V63.0M288.9 58.9V62.0M384.6 47.7V43.7M271.7 47.7V41.4M268.7 47.7V45.9M266.7 47.7V45.7M293.6 58.9V60.4M344.4 47.7V44.4M379.9 58.9V61.4M296.5 47.7V46.0M314.1 47.7V46.2M282.0 58.9V60.6M278.2 47.7V45.1M381.3 47.7V44.0M310.0 47.7V46.0M290.9 47.7V41.4M267.1 58.9V62.4M369.0 58.9V60.5M366.5 58.9V62.7M348.5 58.9V61.6M322.0 58.9V61.9M284.4 58.9V62.6M321.3 58.9V61.1M370.7 58.9V60.4M277.2 47.7V46.1M383.8 47.7V45.4M386.5 58.9V60.5M297.0 58.9V60.3M323.6 58.9V63.4M347.6 58.9V61.7M299.4 47.7V46.4M268.2 58.9V60.5M272.3 47.7V45.6M365.9 58.9V60.2M359.5 47.7V43.0M383.9 58.9V61.7M280.6 47.7V43.9" stroke="#A2142F" stroke-width="0.4" fill="none"/>
<path d="M290.7 58.9V60.4M302.1 47.7V46.1M295.9 58.9V64.7M291.2 47.7V45.6M301.5 47.7V46.3M293.0 58.9V60.9M298.1 58.9V62.1M288.4 58.9V63.3M289.4 58.9V60.5M300.1 58.9V63.7M293.8 58.9V60.6M301.4 47.7V45.8M291.7 47.7V44.9M294.3 58.9V60.6M291.0 58.9V63.1M294.8 58.9V61.1M294.1 47.7V45.0M291.7 47.7V45.3M291.9 47.7V42.3M291.7 58.9V60.4M293.1 47.7V41.4M289.8 58.9V63.6M290.8 58.9V61.3M291.0 58.9V63.1M301.2 47.7V45.6M301.9 47.7V45.1M298.5 58.9V60.3M292.0 58.9V61.5M301.8 47.7V44.5M292.5 47.7V46.3M302.6 47.7V46.1M288.1 58.9V61.5M292.6 58.9V60.3M298.1 58.9V63.8M300.3 58.9V61.7M302.0 58.9V61.5M301.6 47.7V44.1M297.7 47.7V45.5M300.3 58.9V61.2M289.5 58.9V61.2M297.8 58.9V62.6M294.5 47.7V44.8M295.4 58.9V60.5M296.3 47.7V41.4M288.8 47.7V45.7M289.8 47.7V44.8M293.0 58.9V61.8M294.1 58.9V60.7M299.3 58.9V60.5M297.2 47.7V44.6M293.6 47.7V44.9M288.8 58.9V61.7M288.8 58.9V61.0M290.0 47.7V46.3M292.6 58.9V62.6M298.0 47.7V46.3M288.4 58.9V60.7M291.7 47.7V42.6M294.6 47.7V43.1M300.7 47.7V46.4M293.8 58.9V60.4M297.1 58.9V60.6M298.9 58.9V63.3M302.6 47.7V45.7M301.4 47.7V42.7M298.1 58.9V60.6M301.8 47.7V44.2M300.1 47.7V45.5M293.1 58.9V61.0M298.7 58.9V60.6M297.6 58.9V61.9M295.0 58.9V60.8M290.5 47.7V46.2M298.6 47.7V44.6M292.1 58.9V60.7M300.7 58.9V61.9M297.0 58.9V61.6M290.7 58.9V61.3M288.3 47.7V46.1M300.3 47.7V45.1M297.8 47.7V46.1M291.5 58.9V60.4M292.9 58.9V60.6M292.8 58.9V62.4M291.9 58.9V61.4M297.1 47.7V46.3M298.5 58.9V60.2M294.9 47.7V44.2M302.9 58.9V61.3M297.7 47.7V44.2M299.7 58.9V62.7M292.7 58.9V61.2M288.0 58.9V60.6M296.8 47.7V45.6M293.7 58.9V60.8M289.2 58.9V64.7M300.8 58.9V62.4M298.2 47.7V44.7M288.8 47.7V43.8M301.7 58.9V61.1M291.2 47.7V44.0M292.0 58.9V61.4M300.5 58.9V61.2M302.5 47.7V44.8M297.1 47.7V45.7M301.0 58.9V61.1M290.9 47.7V46.4M301.3 47.7V45.5M300.6 47.7V46.0M295.9 58.9V62.3M302.9 47.7V46.4M294.6 47.7V46.4M298.1 47.7V45.6M300.9 47.7V45.2M293.9 47.7V45.1M291.4 58.9V61.7M299.8 58.9V60.6M301.6 47.7V46.0M292.3 47.7V46.2M290.1 58.9V64.5M300.2 47.7V44.8M290.2 58.9V61.1M300.9 58.9V60.4M289.3 47.7V46.1M290.1 58.9V60.2" stroke="#e05a1e" stroke-width="0.4" fill="none"/>
<path d="M330.5 47.7V44.1M326.9 47.7V46.0M328.6 47.7V45.6M327.5 58.9V62.3M327.9 47.7V44.7M329.4 58.9V60.9M326.8 47.7V45.7M330.6 47.7V44.5M327.6 47.7V46.0M328.1 47.7V44.9M325.7 47.7V45.2M326.3 47.7V45.5M327.0 47.7V44.4M325.9 47.7V41.4M329.5 58.9V60.7M330.1 58.9V60.6M330.8 47.7V45.5M324.7 58.9V60.4M327.4 58.9V61.0M325.9 47.7V42.1M328.8 47.7V46.2M325.0 58.9V60.6M327.3 58.9V61.0M326.3 58.9V63.0M325.0 58.9V62.9M330.1 58.9V60.8M326.8 47.7V46.1M326.9 47.7V46.1M330.3 58.9V62.1M329.5 47.7V44.7M329.5 47.7V43.3M330.6 47.7V46.1M328.4 47.7V45.8M325.2 47.7V43.4M329.0 47.7V43.6M324.5 58.9V60.7M330.2 47.7V45.0M325.8 47.7V46.4M327.6 58.9V61.1M330.7 47.7V44.5M326.7 47.7V45.5M330.1 58.9V60.6M330.9 58.9V60.8M325.7 58.9V61.4M328.6 58.9V60.4M325.9 58.9V60.7M324.6 47.7V43.7M325.6 47.7V44.2M325.2 47.7V45.8M326.1 47.7V46.4M327.1 58.9V61.9M325.8 47.7V45.4M329.3 58.9V61.9M328.3 47.7V43.3M325.1 58.9V61.3" stroke="#efb42a" stroke-width="0.4" fill="none"/>
<path d="M264.9 47.7V45.1M263.7 58.9V62.5M263.2 47.7V46.0M263.3 47.7V45.5M265.6 58.9V61.5M262.8 47.7V45.6M263.5 58.9V61.8M265.7 58.9V61.4M265.8 58.9V62.6M264.0 58.9V64.7M265.2 58.9V60.4M262.7 47.7V44.4M262.9 58.9V60.9M262.6 58.9V60.4M263.4 58.9V60.5M265.4 47.7V41.7M262.8 47.7V45.2M265.5 58.9V62.5M265.7 47.7V45.7M265.1 58.9V60.2M265.8 58.9V60.5M265.0 58.9V60.2M265.7 47.7V44.6M263.3 58.9V61.9M265.5 47.7V46.4M265.5 47.7V44.5M264.0 58.9V60.8M264.1 47.7V43.8M265.2 58.9V60.8M262.8 47.7V45.6M265.8 47.7V45.4M263.3 47.7V46.2M262.7 58.9V61.6M264.7 47.7V44.6" stroke="#2f7ac4" stroke-width="0.4" fill="none"/>
<path d="M286.8 58.9V63.3M286.7 58.9V60.9M286.8 58.9V60.4M287.6 58.9V62.0M286.2 58.9V62.2M287.8 58.9V60.3M286.3 47.7V45.4M286.2 58.9V60.2M287.5 47.7V45.5M286.7 58.9V63.7M287.3 47.7V45.5M286.2 58.9V60.9M286.9 47.7V45.2M286.6 58.9V62.8M286.4 58.9V61.1M287.4 47.7V44.4M287.4 47.7V42.6M287.0 47.7V44.4M287.2 58.9V61.1" stroke="#edb120" stroke-width="0.4" fill="none"/>
<rect x="261.91" y="111.3" width="119.63" height="3.5" fill="#3b84cc"/>
<path d="M363.4 111.6V110.9M348.6 111.6V111.1M308.4 111.6V107.6M333.6 111.6V109.4M264.4 111.6V111.2M284.1 111.6V111.4M336.2 111.6V108.2M308.2 111.6V111.3M368.4 111.6V111.1M371.3 111.6V111.5M283.8 111.6V111.5M330.4 111.6V111.5M300.0 111.6V108.0M317.7 111.6V111.2M357.8 111.6V109.6M291.4 111.6V111.6M263.1 111.6V111.5M266.7 111.6V109.3M287.5 111.6V111.2M316.0 111.6V110.2M305.5 111.6V111.4M264.1 111.6V109.0M293.9 111.6V111.2M285.0 111.6V108.7M262.8 111.6V110.2M343.4 111.6V111.1M262.4 111.6V110.6M341.8 111.6V111.5M302.1 111.6V111.4M311.8 111.6V109.6M269.8 111.6V111.0M331.9 111.6V109.9M335.7 111.6V111.2M280.5 111.6V110.7M379.7 111.6V110.9M312.0 111.6V107.6M366.3 111.6V108.2M309.7 111.6V109.4M265.5 111.6V111.0M355.0 111.6V110.4M368.5 111.6V110.6M306.9 111.6V111.3M297.2 111.6V111.3M344.5 111.6V108.1M264.7 111.6V107.7M314.6 111.6V110.9M332.7 111.6V110.3M315.9 111.6V107.3M284.8 111.6V111.4M355.0 111.6V111.4M354.2 111.6V110.4M355.4 111.6V110.8M373.9 111.6V111.1M303.5 111.6V110.1M374.6 111.6V107.8M319.1 111.6V110.3M272.8 111.6V111.5M338.1 111.6V110.9M354.6 111.6V110.4M373.2 111.6V110.7M308.2 111.6V110.0M345.6 111.6V109.8M275.4 111.6V111.5M300.2 111.6V111.3M364.0 111.6V109.4M298.3 111.6V109.6M325.8 111.6V109.4M367.2 111.6V109.0M331.8 111.6V109.4M371.4 111.6V108.6M356.7 111.6V108.6M368.8 111.6V111.1M336.0 111.6V111.4M330.1 111.6V111.0M350.3 111.6V107.1M270.8 111.6V111.5M313.4 111.6V110.8M324.0 111.6V107.1M370.9 111.6V110.9M273.6 111.6V110.5M360.6 111.6V111.3M342.7 111.6V109.2M285.1 111.6V111.5M315.1 111.6V110.7M273.8 111.6V111.5M306.2 111.6V110.1M297.0 111.6V109.6M377.6 111.6V110.1M317.0 111.6V108.5M323.9 111.6V110.2M339.3 111.6V110.0M331.4 111.6V110.8M381.2 111.6V111.3M286.1 111.6V111.2M285.4 111.6V110.9M262.4 111.6V111.1M339.2 111.6V110.0M341.0 111.6V111.3M337.1 111.6V111.0M301.4 111.6V109.5M324.0 111.6V110.7M352.7 111.6V110.1M320.0 111.6V109.0M291.2 111.6V108.7M266.0 111.6V110.0M292.5 111.6V111.4M362.0 111.6V108.9M293.4 111.6V111.3M356.5 111.6V108.2M315.2 111.6V111.5M321.4 111.6V111.4M331.0 111.6V111.1M275.8 111.6V107.1M302.7 111.6V109.7M334.9 111.6V110.4M281.1 111.6V111.6M368.1 111.6V111.4M296.7 111.6V111.4M357.7 111.6V110.9" stroke="#4DBEEE" stroke-width="0.4" fill="none"/>
<path d="M284.3 111.6V108.3M285.7 111.6V111.6M267.0 111.6V107.1M330.4 111.6V108.1M274.9 111.6V111.0M288.9 111.6V110.9M366.3 111.6V110.2M376.6 111.6V109.8M378.6 111.6V110.8M352.7 111.6V111.1M329.4 111.6V109.2M373.7 111.6V109.9M366.4 111.6V111.2M342.5 111.6V110.7M359.3 111.6V110.2M303.8 111.6V109.5M346.9 111.6V110.5M334.0 111.6V110.7M300.8 111.6V110.9M275.6 111.6V111.0M273.2 111.6V110.5M366.4 111.6V110.8M301.2 111.6V107.1M267.9 111.6V111.1M272.7 111.6V108.1M268.9 111.6V109.2M333.9 111.6V107.1M322.9 111.6V111.6M350.8 111.6V110.1M327.6 111.6V107.1M271.9 111.6V111.5M299.6 111.6V107.1M321.7 111.6V110.0M326.5 111.6V110.1M324.3 111.6V110.6M296.7 111.6V111.5M353.7 111.6V109.4M267.5 111.6V111.5M367.4 111.6V110.2M325.9 111.6V110.8M294.3 111.6V110.4M364.4 111.6V108.5M313.2 111.6V111.4M372.8 111.6V110.0M307.9 111.6V111.4M347.1 111.6V111.3M351.4 111.6V110.9M341.8 111.6V110.7M323.3 111.6V110.8M311.2 111.6V109.1M333.3 111.6V110.1M370.4 111.6V110.8M376.5 111.6V111.4M340.3 111.6V110.5M310.7 111.6V111.5M269.3 111.6V111.6M340.7 111.6V110.5M287.3 111.6V107.7M289.0 111.6V111.4M263.2 111.6V107.5M339.8 111.6V110.8M349.1 111.6V108.1M325.1 111.6V109.1M290.2 111.6V107.1M266.8 111.6V111.0M275.7 111.6V111.3M290.7 111.6V111.1M312.9 111.6V111.3M322.3 111.6V110.1M349.0 111.6V109.6M349.5 111.6V110.7M363.9 111.6V107.1M319.9 111.6V111.4M288.4 111.6V110.7M368.2 111.6V107.1M304.6 111.6V111.4M300.8 111.6V110.0M289.1 111.6V110.6M333.6 111.6V111.5M264.7 111.6V109.3M321.8 111.6V109.6M338.0 111.6V110.9M379.3 111.6V110.6M336.1 111.6V111.3M343.0 111.6V111.4M358.2 111.6V110.9M349.2 111.6V108.5M380.3 111.6V111.4M344.4 111.6V110.9M377.3 111.6V109.2M348.7 111.6V111.4M265.4 111.6V108.8M367.7 111.6V111.1M357.2 111.6V110.1M379.0 111.6V110.9M339.3 111.6V110.4M322.0 111.6V110.4M270.2 111.6V107.1M337.9 111.6V111.5M374.6 111.6V111.0M342.5 111.6V109.2M343.3 111.6V111.1M370.5 111.6V111.2M352.1 111.6V111.5M328.2 111.6V110.5M352.3 111.6V111.0M271.0 111.6V111.1M322.6 111.6V111.4M370.3 111.6V111.5M350.4 111.6V110.1M339.8 111.6V107.1M284.8 111.6V111.5M271.2 111.6V110.2M354.0 111.6V110.6M295.3 111.6V110.8M303.4 111.6V111.5M327.4 111.6V107.1M380.7 111.6V111.0M311.4 111.6V109.6M332.0 111.6V111.0M372.8 111.6V110.4M281.6 111.6V110.6M334.4 111.6V110.1M369.1 111.6V111.5M278.2 111.6V108.5M358.5 111.6V108.3M334.0 111.6V110.3M280.5 111.6V111.2M330.3 111.6V110.4M363.8 111.6V110.4M283.8 111.6V109.8M312.9 111.6V107.1M276.2 111.6V110.4M324.1 111.6V111.5M358.2 111.6V111.2M270.9 111.6V111.2M367.4 111.6V111.1M314.0 111.6V109.0M296.3 111.6V111.6M335.9 111.6V111.2M351.0 111.6V109.9M276.2 111.6V111.5M343.7 111.6V109.4M334.0 111.6V107.4M349.8 111.6V108.8M369.6 111.6V110.6M269.1 111.6V111.1M300.5 111.6V111.5M282.7 111.6V108.1M268.4 111.6V110.0M275.2 111.6V107.4M374.8 111.6V111.3M355.0 111.6V111.5M353.8 111.6V108.3M381.0 111.6V110.0M323.8 111.6V109.4M305.3 111.6V111.4M349.0 111.6V111.4M321.6 111.6V108.8M372.4 111.6V109.1M319.5 111.6V111.4M286.3 111.6V111.6M332.9 111.6V111.2M379.0 111.6V108.9M332.4 111.6V111.6M334.6 111.6V111.2M358.3 111.6V110.3M366.8 111.6V110.7M347.2 111.6V109.3M315.9 111.6V111.1M374.8 111.6V109.8M288.7 111.6V110.3M289.0 111.6V108.6M303.6 111.6V109.9M276.9 111.6V109.2M265.2 111.6V110.6M308.5 111.6V110.8M302.6 111.6V107.1M288.2 111.6V110.2M362.1 111.6V111.3M357.4 111.6V111.3M285.5 111.6V110.6M327.7 111.6V108.1M295.7 111.6V111.6M376.0 111.6V111.1M364.8 111.6V111.2M355.2 111.6V107.1M279.9 111.6V110.2M339.0 111.6V109.6M359.8 111.6V109.2M316.9 111.6V110.4M347.9 111.6V109.4M275.5 111.6V111.1M326.8 111.6V110.6M281.2 111.6V111.4M309.4 111.6V111.3M352.0 111.6V110.0M339.0 111.6V110.2M358.1 111.6V111.3M317.1 111.6V110.7M293.3 111.6V111.3M294.6 111.6V110.8M352.5 111.6V111.0M312.8 111.6V111.4M375.6 111.6V111.6M271.5 111.6V110.9M325.8 111.6V110.6M335.1 111.6V111.5M325.9 111.6V111.4M308.7 111.6V111.0M297.0 111.6V111.6M301.7 111.6V110.5M346.9 111.6V110.6M307.5 111.6V111.4M336.0 111.6V107.1M357.2 111.6V111.4M347.6 111.6V108.1M292.2 111.6V111.3M283.3 111.6V111.5M370.6 111.6V110.3M363.8 111.6V110.7M286.1 111.6V111.3M279.5 111.6V110.5M342.1 111.6V108.8M310.6 111.6V109.1M272.2 111.6V109.8M281.9 111.6V111.0M292.9 111.6V110.7M291.4 111.6V107.5M288.3 111.6V109.9M360.0 111.6V111.5M343.5 111.6V109.9M345.2 111.6V108.1M330.0 111.6V111.5M330.2 111.6V110.0M299.4 111.6V110.9M333.8 111.6V110.9M321.4 111.6V110.6M325.2 111.6V108.6M291.3 111.6V109.2M376.3 111.6V111.3M339.5 111.6V109.8M330.0 111.6V108.0M267.5 111.6V110.9M357.0 111.6V110.3M270.4 111.6V111.3M320.6 111.6V108.9M360.1 111.6V110.1M281.1 111.6V107.3M367.9 111.6V110.5M341.6 111.6V111.2M283.0 111.6V110.4M372.0 111.6V109.9M267.0 111.6V111.1M373.1 111.6V109.9M335.7 111.6V111.6M378.2 111.6V107.1M343.4 111.6V111.4M264.6 111.6V109.8M333.8 111.6V110.8M301.3 111.6V111.3M367.5 111.6V109.3M311.7 111.6V111.0M304.7 111.6V109.9" stroke="#3b84cc" stroke-width="0.4" fill="none"/>
<path d="M373.6 111.6V110.6M304.2 111.6V110.0M300.8 111.6V109.9M296.7 111.6V107.1M333.9 111.6V108.5M315.3 111.6V110.3M333.3 111.6V111.5M292.2 111.6V111.0M352.6 111.6V110.9M283.6 111.6V110.7M327.6 111.6V107.1M345.0 111.6V110.2M358.7 111.6V111.6M371.3 111.6V110.6M333.5 111.6V111.1M339.2 111.6V111.0M273.0 111.6V110.5M363.5 111.6V111.4M354.5 111.6V110.1M359.6 111.6V109.3M362.8 111.6V110.7M281.0 111.6V110.2M338.8 111.6V109.7M305.2 111.6V109.9M266.4 111.6V110.4M277.1 111.6V110.4M358.2 111.6V111.6M298.5 111.6V111.3M265.4 111.6V111.1M356.5 111.6V110.4M300.6 111.6V107.1M338.2 111.6V111.6M323.7 111.6V110.9M379.0 111.6V107.1M338.1 111.6V107.6M318.5 111.6V111.5M286.1 111.6V107.1M293.0 111.6V111.4M318.9 111.6V107.1M264.1 111.6V110.0M307.1 111.6V111.5M334.1 111.6V110.8M299.2 111.6V108.5M320.5 111.6V109.1M266.4 111.6V110.0M272.8 111.6V107.1M379.2 111.6V111.3M278.1 111.6V110.9M308.5 111.6V107.1M350.7 111.6V111.5M336.1 111.6V110.2M305.9 111.6V110.9M290.9 111.6V111.4M303.1 111.6V109.3M284.9 111.6V109.8M311.8 111.6V111.5M291.3 111.6V111.2M305.5 111.6V109.5M378.1 111.6V110.9M318.0 111.6V107.1M297.0 111.6V109.9M323.1 111.6V109.8" stroke="#e8a040" stroke-width="0.4" fill="none"/>
<path d="M266.0 111.6V109.8M363.8 111.6V109.9M303.0 111.6V110.9M373.8 111.6V110.7M300.2 111.6V111.0M297.7 111.6V109.0M372.8 111.6V109.3M292.3 111.6V111.3M346.6 111.6V107.1M271.2 111.6V109.1M333.7 111.6V111.3M264.8 111.6V111.5M381.4 111.6V110.8M282.2 111.6V111.1M340.4 111.6V111.3M341.4 111.6V107.4M283.8 111.6V111.3M369.7 111.6V109.7M353.5 111.6V110.7M381.5 111.6V110.9M270.6 111.6V108.0M289.8 111.6V110.4M272.3 111.6V111.3M322.4 111.6V108.4M329.9 111.6V109.0M367.2 111.6V110.4M283.3 111.6V108.5M352.2 111.6V111.0M311.4 111.6V107.1M264.0 111.6V110.0M345.9 111.6V109.2M262.1 111.6V111.2M298.8 111.6V111.3M285.8 111.6V111.5M337.1 111.6V107.5M267.1 111.6V108.9M353.7 111.6V109.8M366.0 111.6V110.8M275.9 111.6V107.1M342.2 111.6V111.5M263.1 111.6V111.5M325.8 111.6V111.6M376.4 111.6V110.8M321.2 111.6V110.0M304.1 111.6V110.9M323.4 111.6V110.4M364.0 111.6V111.6M268.5 111.6V109.5M262.2 111.6V110.7M290.8 111.6V107.6M374.0 111.6V107.8M299.3 111.6V111.6M318.6 111.6V109.2M292.3 111.6V111.2M296.6 111.6V111.6M339.6 111.6V110.1M303.2 111.6V111.2M324.9 111.6V110.2" stroke="#A2142F" stroke-width="0.4" fill="none"/>
<path d="M282.9 111.6V110.3M325.7 111.6V109.1M283.5 111.6V110.4M277.5 111.6V107.9M264.2 111.6V110.1M368.8 111.6V111.1M270.6 111.6V108.7M290.8 111.6V111.3M351.5 111.6V108.6M289.7 111.6V110.3M318.8 111.6V110.4M322.4 111.6V108.0M345.6 111.6V111.2M339.3 111.6V110.1M293.8 111.6V111.1M267.6 111.6V110.6M320.8 111.6V111.5M363.7 111.6V111.5M278.6 111.6V108.0M356.0 111.6V111.1M326.1 111.6V110.1M339.6 111.6V111.5M302.3 111.6V111.0M271.4 111.6V110.6M268.5 111.6V109.7M269.6 111.6V109.5M287.1 111.6V107.1M319.3 111.6V110.2M338.2 111.6V108.5M333.6 111.6V109.0M292.6 111.6V111.4M289.8 111.6V110.6M281.4 111.6V110.8M292.5 111.6V108.6M379.6 111.6V111.5M366.4 111.6V111.2M341.9 111.6V110.2M372.7 111.6V111.5M327.0 111.6V107.1" stroke="#EDB120" stroke-width="0.4" fill="none"/>
<path d="M365.5 111.6V111.3M264.6 111.6V109.8M287.2 111.6V109.0M339.7 111.6V109.0M339.0 111.6V111.3M342.1 111.6V110.2M269.8 111.6V111.1M368.6 111.6V110.2M295.1 111.6V111.4M308.3 111.6V111.6M268.7 111.6V111.3M271.9 111.6V107.8M336.6 111.6V110.9M360.7 111.6V108.7M340.5 111.6V109.0M370.0 111.6V109.0M293.8 111.6V108.8M314.9 111.6V110.7M376.2 111.6V110.1M340.4 111.6V107.1M381.5 111.6V107.1M350.2 111.6V111.4M334.6 111.6V110.6M360.0 111.6V110.0M315.1 111.6V110.1M358.4 111.6V109.5M363.2 111.6V111.3M329.5 111.6V109.8M345.8 111.6V107.8M351.8 111.6V111.2M370.2 111.6V108.0M281.1 111.6V110.0M362.5 111.6V110.6M286.8 111.6V110.1M333.3 111.6V109.8M364.6 111.6V110.3M314.0 111.6V111.2M270.8 111.6V107.6M283.0 111.6V110.6M264.5 111.6V107.1M283.3 111.6V110.9M377.5 111.6V111.5M371.6 111.6V110.7M356.6 111.6V109.3M348.2 111.6V109.3M279.2 111.6V110.6M346.2 111.6V111.2M270.1 111.6V111.3M349.3 111.6V111.5M310.9 111.6V111.5" stroke="#0072BD" stroke-width="0.4" fill="none"/>
<path d="M379.0 111.6V110.5M294.0 111.6V111.3M281.3 111.6V110.5M301.7 111.6V111.5M327.9 111.6V111.3M311.1 111.6V108.8M292.7 111.6V111.4M266.8 111.6V111.4M294.1 111.6V111.4M275.5 111.6V108.9M285.8 111.6V110.7M364.1 111.6V110.6M309.3 111.6V111.4M325.2 111.6V110.1M365.5 111.6V108.0M305.6 111.6V110.8M263.4 111.6V111.6M321.6 111.6V111.2M322.9 111.6V111.2M352.7 111.6V110.3M349.6 111.6V109.8M331.5 111.6V109.8M336.5 111.6V111.5M292.5 111.6V110.2M311.6 111.6V110.2M309.7 111.6V110.7M305.0 111.6V110.2M286.8 111.6V111.4M372.4 111.6V111.1M306.8 111.6V109.1M344.0 111.6V111.5M298.6 111.6V109.3M298.9 111.6V111.1M276.7 111.6V110.9M323.9 111.6V111.5M333.5 111.6V110.7M296.0 111.6V111.5M364.5 111.6V109.1M288.4 111.6V109.4M378.3 111.6V111.5M295.8 111.6V111.5M351.9 111.6V111.0M283.6 111.6V111.6M370.6 111.6V111.1M313.1 111.6V110.4M344.8 111.6V109.2M369.5 111.6V109.7M375.2 111.6V111.5M364.2 111.6V111.1M299.1 111.6V110.4M301.7 111.6V109.1M274.3 111.6V111.1M290.2 111.6V110.8M336.6 111.6V111.3M354.6 111.6V111.3M337.7 111.6V108.7M354.7 111.6V109.6M283.0 111.6V110.1" stroke="#D95319" stroke-width="0.4" fill="none"/>
<path d="M357.2 111.6V107.1M377.5 111.6V111.1M314.2 111.6V109.4M324.5 111.6V110.7M326.8 111.6V110.4M298.8 111.6V108.5M279.5 111.6V109.9M355.8 111.6V111.3M279.1 111.6V111.6M315.9 111.6V109.0M330.8 111.6V111.1M319.9 111.6V110.7M280.0 111.6V107.1M324.6 111.6V108.2M267.8 111.6V111.3M359.6 111.6V110.4M325.7 111.6V111.6M371.5 111.6V110.8M341.3 111.6V108.3M362.3 111.6V107.5M292.6 111.6V110.7M285.3 111.6V110.6M378.1 111.6V111.0M264.6 111.6V110.2M312.1 111.6V110.8M285.3 111.6V109.4M333.0 111.6V109.5M352.9 111.6V109.8M285.9 111.6V111.2M346.2 111.6V108.4M319.6 111.6V110.8M332.0 111.6V111.5M305.7 111.6V111.5M273.0 111.6V109.9M304.5 111.6V108.8M360.4 111.6V110.7M371.8 111.6V110.6M372.9 111.6V111.5M269.5 111.6V110.7M283.8 111.6V108.0M340.7 111.6V109.9M348.7 111.6V111.5M267.0 111.6V107.1M369.6 111.6V111.0M363.8 111.6V110.6M306.9 111.6V110.1M271.2 111.6V109.0M266.5 111.6V110.9M296.6 111.6V111.5M364.6 111.6V111.4M359.6 111.6V109.8M326.0 111.6V108.8M369.7 111.6V109.7M370.9 111.6V107.1M264.8 111.6V110.2M335.4 111.6V108.4M363.1 111.6V110.9" stroke="#77AC30" stroke-width="0.4" fill="none"/>
<path d="M322.1 111.6V110.2M319.0 111.6V109.6M368.9 111.6V110.3M347.2 111.6V107.1M353.2 111.6V111.4M376.2 111.6V111.4M375.5 111.6V108.2M358.5 111.6V111.1M371.0 111.6V108.8M339.4 111.6V109.7M374.3 111.6V110.3M298.7 111.6V110.7M308.7 111.6V110.7M330.3 111.6V111.4M372.1 111.6V111.0M287.6 111.6V111.1M339.8 111.6V109.4M360.9 111.6V111.4M271.5 111.6V109.5M327.5 111.6V109.9M338.9 111.6V111.1M371.4 111.6V110.7M354.5 111.6V109.8M287.6 111.6V111.0M284.1 111.6V110.1M307.5 111.6V111.2M380.7 111.6V110.0M326.1 111.6V111.5M364.4 111.6V109.7M321.1 111.6V111.0M315.8 111.6V110.9M273.0 111.6V109.2M359.8 111.6V107.1M309.4 111.6V111.1M276.8 111.6V111.5M283.4 111.6V110.5M369.2 111.6V107.5M280.6 111.6V110.3M331.1 111.6V109.9M369.3 111.6V110.7" stroke="#9ab84a" stroke-width="0.4" fill="none"/>
<path d="M273.1 111.6V111.4M300.8 111.6V107.1M310.5 111.6V110.7M268.7 111.6V111.0M356.3 111.6V110.4M314.6 111.6V109.9M366.5 111.6V108.8M343.1 111.6V110.9M339.0 111.6V111.0M265.4 111.6V107.9M268.1 111.6V108.3M285.3 111.6V111.4M329.9 111.6V108.9M338.4 111.6V111.0M277.4 111.6V110.6M380.3 111.6V110.2M315.8 111.6V107.1M337.9 111.6V109.6M290.3 111.6V111.4M370.3 111.6V107.8M304.0 111.6V111.5M314.4 111.6V111.6M284.6 111.6V111.3M294.4 111.6V110.7M368.9 111.6V111.4M281.4 111.6V111.0M284.6 111.6V111.6M330.4 111.6V110.9M287.2 111.6V109.2M364.8 111.6V108.7M281.1 111.6V108.7M273.5 111.6V108.6M269.8 111.6V111.4M342.2 111.6V110.9M296.5 111.6V109.6M335.4 111.6V107.1M321.0 111.6V111.5M346.6 111.6V111.5M340.2 111.6V111.2M348.5 111.6V107.1M358.7 111.6V111.3M325.3 111.6V110.3M337.6 111.6V111.5M304.9 111.6V107.5M377.4 111.6V110.9M361.9 111.6V110.6M319.9 111.6V109.1M339.2 111.6V110.4M323.3 111.6V109.5M373.9 111.6V110.7M351.9 111.6V107.1M279.7 111.6V109.7M377.0 111.6V111.2" stroke="#7E2F8E" stroke-width="0.4" fill="none"/>
<line x1="381.55" y1="113.77" x2="381.55" y2="108.56" stroke="#c03040" stroke-width="0.8"/>
<rect x="261.6" y="33.5" width="125.59999999999997" height="83.4" fill="none" stroke="#d2d2d2" stroke-width="0.6"/>
<text x="257.05" y="118.65" style="font-family:'Liberation Serif',serif;font-size:5.00px" fill="#1e1e1e" stroke="#1e1e1e" stroke-width="0.1">0</text>
<line x1="261.60" y1="116.90" x2="262.60" y2="116.90" stroke="#bbb" stroke-width="0.5"/>
<line x1="387.20" y1="116.90" x2="386.20" y2="116.90" stroke="#bbb" stroke-width="0.5"/>
<text x="257.12" y="108.23" style="font-family:'Liberation Serif',serif;font-size:5.00px" fill="#1e1e1e" stroke="#1e1e1e" stroke-width="0.1">2</text>
<line x1="261.60" y1="106.48" x2="262.60" y2="106.48" stroke="#bbb" stroke-width="0.5"/>
<line x1="387.20" y1="106.48" x2="386.20" y2="106.48" stroke="#bbb" stroke-width="0.5"/>
<text x="256.92" y="97.80" style="font-family:'Liberation Serif',serif;font-size:5.00px" fill="#1e1e1e" stroke="#1e1e1e" stroke-width="0.1">4</text>
<line x1="261.60" y1="96.05" x2="262.60" y2="96.05" stroke="#bbb" stroke-width="0.5"/>
<line x1="387.20" y1="96.05" x2="386.20" y2="96.05" stroke="#bbb" stroke-width="0.5"/>
<text x="257.00" y="87.38" style="font-family:'Liberation Serif',serif;font-size:5.00px" fill="#1e1e1e" stroke="#1e1e1e" stroke-width="0.1">6</text>
<line x1="261.60" y1="85.62" x2="262.60" y2="85.62" stroke="#bbb" stroke-width="0.5"/>
<line x1="387.20" y1="85.62" x2="386.20" y2="85.62" stroke="#bbb" stroke-width="0.5"/>
<text x="257.05" y="76.95" style="font-family:'Liberation Serif',serif;font-size:5.00px" fill="#1e1e1e" stroke="#1e1e1e" stroke-width="0.1">8</text>
<line x1="261.60" y1="75.20" x2="262.60" y2="75.20" stroke="#bbb" stroke-width="0.5"/>
<line x1="387.20" y1="75.20" x2="386.20" y2="75.20" stroke="#bbb" stroke-width="0.5"/>
<text x="254.55" y="66.53" style="font-family:'Liberation Serif',serif;font-size:5.00px" fill="#1e1e1e" stroke="#1e1e1e" stroke-width="0.1">10</text>
<line x1="261.60" y1="64.78" x2="262.60" y2="64.78" stroke="#bbb" stroke-width="0.5"/>
<line x1="387.20" y1="64.78" x2="386.20" y2="64.78" stroke="#bbb" stroke-width="0.5"/>
<text x="254.62" y="56.10" style="font-family:'Liberation Serif',serif;font-size:5.00px" fill="#1e1e1e" stroke="#1e1e1e" stroke-width="0.1">12</text>
<line x1="261.60" y1="54.35" x2="262.60" y2="54.35" stroke="#bbb" stroke-width="0.5"/>
<line x1="387.20" y1="54.35" x2="386.20" y2="54.35" stroke="#bbb" stroke-width="0.5"/>
<text x="254.42" y="45.67" style="font-family:'Liberation Serif',serif;font-size:5.00px" fill="#1e1e1e" stroke="#1e1e1e" stroke-width="0.1">14</text>
<line x1="261.60" y1="43.92" x2="262.60" y2="43.92" stroke="#bbb" stroke-width="0.5"/>
<line x1="387.20" y1="43.92" x2="386.20" y2="43.92" stroke="#bbb" stroke-width="0.5"/>
<text x="254.50" y="35.25" style="font-family:'Liberation Serif',serif;font-size:5.00px" fill="#1e1e1e" stroke="#1e1e1e" stroke-width="0.1">16</text>
<line x1="261.60" y1="33.50" x2="262.60" y2="33.50" stroke="#bbb" stroke-width="0.5"/>
<line x1="387.20" y1="33.50" x2="386.20" y2="33.50" stroke="#bbb" stroke-width="0.5"/>
<text x="260.35" y="123.20" style="font-family:'Liberation Serif',serif;font-size:5.00px" fill="#1e1e1e" stroke="#1e1e1e" stroke-width="0.1">0</text>
<line x1="261.60" y1="116.90" x2="261.60" y2="115.90" stroke="#bbb" stroke-width="0.5"/>
<line x1="261.60" y1="33.50" x2="261.60" y2="34.50" stroke="#bbb" stroke-width="0.5"/>
<text x="291.70" y="123.20" style="font-family:'Liberation Serif',serif;font-size:5.00px" fill="#1e1e1e" stroke="#1e1e1e" stroke-width="0.1">5</text>
<line x1="293.00" y1="116.90" x2="293.00" y2="115.90" stroke="#bbb" stroke-width="0.5"/>
<line x1="293.00" y1="33.50" x2="293.00" y2="34.50" stroke="#bbb" stroke-width="0.5"/>
<text x="321.77" y="123.20" style="font-family:'Liberation Serif',serif;font-size:5.00px" fill="#1e1e1e" stroke="#1e1e1e" stroke-width="0.1">10</text>
<line x1="324.40" y1="116.90" x2="324.40" y2="115.90" stroke="#bbb" stroke-width="0.5"/>
<line x1="324.40" y1="33.50" x2="324.40" y2="34.50" stroke="#bbb" stroke-width="0.5"/>
<text x="353.18" y="123.20" style="font-family:'Liberation Serif',serif;font-size:5.00px" fill="#1e1e1e" stroke="#1e1e1e" stroke-width="0.1">15</text>
<line x1="355.80" y1="116.90" x2="355.80" y2="115.90" stroke="#bbb" stroke-width="0.5"/>
<line x1="355.80" y1="33.50" x2="355.80" y2="34.50" stroke="#bbb" stroke-width="0.5"/>
<text x="384.69" y="123.20" style="font-family:'Liberation Serif',serif;font-size:5.00px" fill="#1e1e1e" stroke="#1e1e1e" stroke-width="0.1">20</text>
<line x1="387.20" y1="116.90" x2="387.20" y2="115.90" stroke="#bbb" stroke-width="0.5"/>
<line x1="387.20" y1="33.50" x2="387.20" y2="34.50" stroke="#bbb" stroke-width="0.5"/>
<text x="262.10" y="32.80" style="font-family:'Liberation Serif',serif;font-size:5.00px" fill="#1e1e1e" stroke="#1e1e1e" stroke-width="0.05">×</text>
<text x="265.45" y="32.80" style="font-family:'Liberation Serif',serif;font-size:5.00px" fill="#1e1e1e" stroke="#1e1e1e" stroke-width="0.16">10</text>
<text x="270.62" y="30.20" style="font-family:'Liberation Serif',serif;font-size:4.00px" fill="#1e1e1e" stroke="#1e1e1e" stroke-width="0.16">4</text>
<text x="309.33" y="129.50" style="font-family:'Liberation Serif',serif;font-size:5.81px" fill="#1e1e1e" stroke="#1e1e1e" stroke-width="0.1">Time (years)</text>
<text x="253.00" y="82.23" style="font-family:'Liberation Serif',serif;font-size:5.86px" fill="#1e1e1e" stroke="#1e1e1e" stroke-width="0.1" transform="rotate(-90 253.00 82.23)">NFkB</text>
<text x="238.28" y="55.60" style="font-family:'Liberation Serif',serif;font-weight:bold;font-size:4.99px" fill="#1a1a1a" stroke="#1a1a1a" stroke-width="0.05">TNBC</text>
<text x="238.28" y="114.60" style="font-family:'Liberation Serif',serif;font-weight:bold;font-size:4.83px" fill="#1a1a1a" stroke="#1a1a1a" stroke-width="0.05">HER2+</text>
<rect x="417.5" y="33.2" width="112.79999999999995" height="84.39999999999999" fill="none" stroke="#d2d2d2" stroke-width="0.6"/>
<polyline points="417.50,33.20 418.40,33.54 419.81,39.95 421.45,45.02 422.69,47.72 424.10,50.92 425.51,54.30 427.65,58.18 429.91,61.22 431.88,64.43 434.03,66.28 435.44,68.23 436.96,72.02 438.20,74.98 440.29,80.04 442.37,83.00 445.31,84.26 447.39,87.64 449.93,91.44 451.90,93.29 454.72,93.80 456.98,95.49 459.52,98.61 462.06,101.99 464.14,105.19 466.29,107.30 475.03,107.30 477.85,110.17 481.97,112.70 485.35,114.22 489.41,115.57 495.90,115.74 497.70,116.17 514.51,116.17 516.20,117.09 530.30,117.09" fill="none" stroke="#f26b30" stroke-width="1.1" stroke-linejoin="round"/>
<polyline points="417.50,117.60 418.40,117.26 419.81,110.85 421.45,105.78 422.69,103.08 424.10,99.88 425.51,96.50 427.65,92.62 429.91,89.58 431.88,86.37 434.03,84.52 435.44,82.57 436.96,78.78 438.20,75.82 440.29,70.76 442.37,67.80 445.31,66.54 447.39,63.16 449.93,59.36 451.90,57.51 454.72,57.00 456.98,55.31 459.52,52.19 462.06,48.81 464.14,45.61 466.29,43.50 475.03,43.50 477.85,40.63 481.97,38.10 485.35,36.58 489.41,35.23 495.90,35.06 497.70,34.63 514.51,34.63 516.20,33.71 530.30,33.71" fill="none" stroke="#7433d4" stroke-width="1.1" stroke-linejoin="round"/>
<text x="413.11" y="119.40" style="font-family:'Liberation Serif',serif;font-size:5.30px" fill="#1e1e1e" stroke="#1e1e1e" stroke-width="0.1">0</text>
<line x1="417.50" y1="117.60" x2="418.50" y2="117.60" stroke="#bbb" stroke-width="0.5"/>
<line x1="530.30" y1="117.60" x2="529.30" y2="117.60" stroke="#bbb" stroke-width="0.5"/>
<text x="409.22" y="102.52" style="font-family:'Liberation Serif',serif;font-size:5.30px" fill="#1e1e1e" stroke="#1e1e1e" stroke-width="0.1">0.2</text>
<line x1="417.50" y1="100.72" x2="418.50" y2="100.72" stroke="#bbb" stroke-width="0.5"/>
<line x1="530.30" y1="100.72" x2="529.30" y2="100.72" stroke="#bbb" stroke-width="0.5"/>
<text x="409.00" y="85.64" style="font-family:'Liberation Serif',serif;font-size:5.30px" fill="#1e1e1e" stroke="#1e1e1e" stroke-width="0.1">0.4</text>
<line x1="417.50" y1="83.84" x2="418.50" y2="83.84" stroke="#bbb" stroke-width="0.5"/>
<line x1="530.30" y1="83.84" x2="529.30" y2="83.84" stroke="#bbb" stroke-width="0.5"/>
<text x="409.08" y="68.76" style="font-family:'Liberation Serif',serif;font-size:5.30px" fill="#1e1e1e" stroke="#1e1e1e" stroke-width="0.1">0.6</text>
<line x1="417.50" y1="66.96" x2="418.50" y2="66.96" stroke="#bbb" stroke-width="0.5"/>
<line x1="530.30" y1="66.96" x2="529.30" y2="66.96" stroke="#bbb" stroke-width="0.5"/>
<text x="409.14" y="51.88" style="font-family:'Liberation Serif',serif;font-size:5.30px" fill="#1e1e1e" stroke="#1e1e1e" stroke-width="0.1">0.8</text>
<line x1="417.50" y1="50.08" x2="418.50" y2="50.08" stroke="#bbb" stroke-width="0.5"/>
<line x1="530.30" y1="50.08" x2="529.30" y2="50.08" stroke="#bbb" stroke-width="0.5"/>
<text x="413.22" y="35.00" style="font-family:'Liberation Serif',serif;font-size:5.30px" fill="#1e1e1e" stroke="#1e1e1e" stroke-width="0.1">1</text>
<line x1="417.50" y1="33.20" x2="418.50" y2="33.20" stroke="#bbb" stroke-width="0.5"/>
<line x1="530.30" y1="33.20" x2="529.30" y2="33.20" stroke="#bbb" stroke-width="0.5"/>
<text x="416.18" y="124.20" style="font-family:'Liberation Serif',serif;font-size:5.30px" fill="#1e1e1e" stroke="#1e1e1e" stroke-width="0.1">0</text>
<line x1="417.50" y1="117.60" x2="417.50" y2="116.60" stroke="#bbb" stroke-width="0.5"/>
<line x1="417.50" y1="33.20" x2="417.50" y2="34.20" stroke="#bbb" stroke-width="0.5"/>
<text x="444.32" y="124.20" style="font-family:'Liberation Serif',serif;font-size:5.30px" fill="#1e1e1e" stroke="#1e1e1e" stroke-width="0.1">5</text>
<line x1="445.70" y1="117.60" x2="445.70" y2="116.60" stroke="#bbb" stroke-width="0.5"/>
<line x1="445.70" y1="33.20" x2="445.70" y2="34.20" stroke="#bbb" stroke-width="0.5"/>
<text x="471.12" y="124.20" style="font-family:'Liberation Serif',serif;font-size:5.30px" fill="#1e1e1e" stroke="#1e1e1e" stroke-width="0.1">10</text>
<line x1="473.90" y1="117.60" x2="473.90" y2="116.60" stroke="#bbb" stroke-width="0.5"/>
<line x1="473.90" y1="33.20" x2="473.90" y2="34.20" stroke="#bbb" stroke-width="0.5"/>
<text x="499.32" y="124.20" style="font-family:'Liberation Serif',serif;font-size:5.30px" fill="#1e1e1e" stroke="#1e1e1e" stroke-width="0.1">15</text>
<line x1="502.10" y1="117.60" x2="502.10" y2="116.60" stroke="#bbb" stroke-width="0.5"/>
<line x1="502.10" y1="33.20" x2="502.10" y2="34.20" stroke="#bbb" stroke-width="0.5"/>
<text x="527.64" y="124.20" style="font-family:'Liberation Serif',serif;font-size:5.30px" fill="#1e1e1e" stroke="#1e1e1e" stroke-width="0.1">20</text>
<line x1="530.30" y1="117.60" x2="530.30" y2="116.60" stroke="#bbb" stroke-width="0.5"/>
<line x1="530.30" y1="33.20" x2="530.30" y2="34.20" stroke="#bbb" stroke-width="0.5"/>
<text x="459.13" y="130.70" style="font-family:'Liberation Serif',serif;font-size:5.89px" fill="#1e1e1e" stroke="#1e1e1e" stroke-width="0.1">Time (years)</text>
<text x="407.70" y="85.64" style="font-family:'Liberation Serif',serif;font-size:6.35px" fill="#1e1e1e" stroke="#1e1e1e" stroke-width="0.1" transform="rotate(-90 407.70 85.64)">Fraction</text>
<rect x="506.5" y="35.8" width="22.7" height="13.2" fill="#fff" stroke="#cdcdcd" stroke-width="0.5"/>
<line x1="507.50" y1="39.40" x2="514.00" y2="39.40" stroke="#f26b30" stroke-width="1.1"/>
<text x="515.10" y="41.10" style="font-family:'Liberation Serif',serif;font-size:5.05px" fill="#1e1e1e" stroke="#1e1e1e" stroke-width="0.1">HER2</text>
<line x1="507.50" y1="45.30" x2="514.00" y2="45.30" stroke="#7433d4" stroke-width="1.1"/>
<text x="515.45" y="47.40" style="font-family:'Liberation Serif',serif;font-size:4.81px" fill="#1e1e1e" stroke="#1e1e1e" stroke-width="0.1">TN</text>
<rect x="571.5" y="35.2" width="110.39999999999998" height="81.0" fill="none" stroke="#d2d2d2" stroke-width="0.6"/>
<polyline points="575.18,35.20 578.86,35.20 578.86,44.11 582.54,44.11 582.54,58.69 586.22,58.69 586.22,75.70 589.90,75.70 589.90,82.18 593.58,82.18 593.58,88.66 597.26,88.66 597.26,95.95 600.94,95.95 600.94,99.19 604.62,99.19 604.62,101.62 608.30,101.62 608.30,104.86 611.98,104.86 611.98,106.48 615.66,106.48 615.66,108.10 619.34,108.10 619.34,108.91 623.02,108.91 623.02,109.72 626.70,109.72 626.70,110.53 630.38,110.53 630.38,112.15 634.06,112.15 634.06,112.96 637.74,112.96 637.74,113.77 641.42,113.77 641.42,114.58 645.10,114.58 645.10,115.39 648.78,115.39 648.78,116.20 652.46,116.20 652.46,116.20 656.14,116.20 656.14,116.20 659.82,116.20 659.82,116.20 663.50,116.20 663.50,116.20 667.18,116.20" fill="none" stroke="#f26b30" stroke-width="1.1" stroke-linejoin="miter"/>
<polyline points="575.18,116.20 578.86,116.20 578.86,107.29 582.54,107.29 582.54,92.71 586.22,92.71 586.22,75.70 589.90,75.70 589.90,69.22 593.58,69.22 593.58,62.74 597.26,62.74 597.26,55.45 600.94,55.45 600.94,52.21 604.62,52.21 604.62,49.78 608.30,49.78 608.30,46.54 611.98,46.54 611.98,44.92 615.66,44.92 615.66,43.30 619.34,43.30 619.34,42.49 623.02,42.49 623.02,41.68 626.70,41.68 626.70,40.87 630.38,40.87 630.38,39.25 634.06,39.25 634.06,38.44 637.74,38.44 637.74,37.63 641.42,37.63 641.42,36.82 645.10,36.82 645.10,36.01 648.78,36.01 648.78,35.20 652.46,35.20 652.46,35.20 656.14,35.20 656.14,35.20 659.82,35.20 659.82,35.20 663.50,35.20 663.50,35.20 667.18,35.20" fill="none" stroke="#7433d4" stroke-width="1.1" stroke-linejoin="miter"/>
<text x="566.81" y="118.00" style="font-family:'Liberation Serif',serif;font-size:5.30px" fill="#1e1e1e" stroke="#1e1e1e" stroke-width="0.1">0</text>
<line x1="571.50" y1="116.20" x2="572.50" y2="116.20" stroke="#bbb" stroke-width="0.5"/>
<line x1="681.90" y1="116.20" x2="680.90" y2="116.20" stroke="#bbb" stroke-width="0.5"/>
<text x="562.92" y="101.80" style="font-family:'Liberation Serif',serif;font-size:5.30px" fill="#1e1e1e" stroke="#1e1e1e" stroke-width="0.1">0.2</text>
<line x1="571.50" y1="100.00" x2="572.50" y2="100.00" stroke="#bbb" stroke-width="0.5"/>
<line x1="681.90" y1="100.00" x2="680.90" y2="100.00" stroke="#bbb" stroke-width="0.5"/>
<text x="562.70" y="85.60" style="font-family:'Liberation Serif',serif;font-size:5.30px" fill="#1e1e1e" stroke="#1e1e1e" stroke-width="0.1">0.4</text>
<line x1="571.50" y1="83.80" x2="572.50" y2="83.80" stroke="#bbb" stroke-width="0.5"/>
<line x1="681.90" y1="83.80" x2="680.90" y2="83.80" stroke="#bbb" stroke-width="0.5"/>
<text x="562.78" y="69.40" style="font-family:'Liberation Serif',serif;font-size:5.30px" fill="#1e1e1e" stroke="#1e1e1e" stroke-width="0.1">0.6</text>
<line x1="571.50" y1="67.60" x2="572.50" y2="67.60" stroke="#bbb" stroke-width="0.5"/>
<line x1="681.90" y1="67.60" x2="680.90" y2="67.60" stroke="#bbb" stroke-width="0.5"/>
<text x="562.84" y="53.20" style="font-family:'Liberation Serif',serif;font-size:5.30px" fill="#1e1e1e" stroke="#1e1e1e" stroke-width="0.1">0.8</text>
<line x1="571.50" y1="51.40" x2="572.50" y2="51.40" stroke="#bbb" stroke-width="0.5"/>
<line x1="681.90" y1="51.40" x2="680.90" y2="51.40" stroke="#bbb" stroke-width="0.5"/>
<text x="566.92" y="37.00" style="font-family:'Liberation Serif',serif;font-size:5.30px" fill="#1e1e1e" stroke="#1e1e1e" stroke-width="0.1">1</text>
<line x1="571.50" y1="35.20" x2="572.50" y2="35.20" stroke="#bbb" stroke-width="0.5"/>
<line x1="681.90" y1="35.20" x2="680.90" y2="35.20" stroke="#bbb" stroke-width="0.5"/>
<text x="570.17" y="123.00" style="font-family:'Liberation Serif',serif;font-size:5.30px" fill="#1e1e1e" stroke="#1e1e1e" stroke-width="0.1">0</text>
<line x1="571.50" y1="116.20" x2="571.50" y2="115.20" stroke="#bbb" stroke-width="0.5"/>
<line x1="571.50" y1="35.20" x2="571.50" y2="36.20" stroke="#bbb" stroke-width="0.5"/>
<text x="588.52" y="123.00" style="font-family:'Liberation Serif',serif;font-size:5.30px" fill="#1e1e1e" stroke="#1e1e1e" stroke-width="0.1">5</text>
<line x1="589.90" y1="116.20" x2="589.90" y2="115.20" stroke="#bbb" stroke-width="0.5"/>
<line x1="589.90" y1="35.20" x2="589.90" y2="36.20" stroke="#bbb" stroke-width="0.5"/>
<text x="605.52" y="123.00" style="font-family:'Liberation Serif',serif;font-size:5.30px" fill="#1e1e1e" stroke="#1e1e1e" stroke-width="0.1">10</text>
<line x1="608.30" y1="116.20" x2="608.30" y2="115.20" stroke="#bbb" stroke-width="0.5"/>
<line x1="608.30" y1="35.20" x2="608.30" y2="36.20" stroke="#bbb" stroke-width="0.5"/>
<text x="623.92" y="123.00" style="font-family:'Liberation Serif',serif;font-size:5.30px" fill="#1e1e1e" stroke="#1e1e1e" stroke-width="0.1">15</text>
<line x1="626.70" y1="116.20" x2="626.70" y2="115.20" stroke="#bbb" stroke-width="0.5"/>
<line x1="626.70" y1="35.20" x2="626.70" y2="36.20" stroke="#bbb" stroke-width="0.5"/>
<text x="642.44" y="123.00" style="font-family:'Liberation Serif',serif;font-size:5.30px" fill="#1e1e1e" stroke="#1e1e1e" stroke-width="0.1">20</text>
<line x1="645.10" y1="116.20" x2="645.10" y2="115.20" stroke="#bbb" stroke-width="0.5"/>
<line x1="645.10" y1="35.20" x2="645.10" y2="36.20" stroke="#bbb" stroke-width="0.5"/>
<text x="660.84" y="123.00" style="font-family:'Liberation Serif',serif;font-size:5.30px" fill="#1e1e1e" stroke="#1e1e1e" stroke-width="0.1">25</text>
<line x1="663.50" y1="116.20" x2="663.50" y2="115.20" stroke="#bbb" stroke-width="0.5"/>
<line x1="663.50" y1="35.20" x2="663.50" y2="36.20" stroke="#bbb" stroke-width="0.5"/>
<text x="679.22" y="123.00" style="font-family:'Liberation Serif',serif;font-size:5.30px" fill="#1e1e1e" stroke="#1e1e1e" stroke-width="0.1">30</text>
<line x1="681.90" y1="116.20" x2="681.90" y2="115.20" stroke="#bbb" stroke-width="0.5"/>
<line x1="681.90" y1="35.20" x2="681.90" y2="36.20" stroke="#bbb" stroke-width="0.5"/>
<text x="612.83" y="129.60" style="font-family:'Liberation Serif',serif;font-size:5.84px" fill="#1e1e1e" stroke="#1e1e1e" stroke-width="0.1">Time (days)</text>
<text x="561.30" y="85.53" style="font-family:'Liberation Serif',serif;font-size:6.08px" fill="#1e1e1e" stroke="#1e1e1e" stroke-width="0.1" transform="rotate(-90 561.30 85.53)">Fraction</text>
<rect x="657.5" y="37" width="22.8" height="13.2" fill="#fff" stroke="#cdcdcd" stroke-width="0.5"/>
<line x1="658.20" y1="40.50" x2="665.00" y2="40.50" stroke="#f26b30" stroke-width="1.1"/>
<text x="666.10" y="42.60" style="font-family:'Liberation Serif',serif;font-size:5.13px" fill="#1e1e1e" stroke="#1e1e1e" stroke-width="0.1">HER2</text>
<line x1="658.20" y1="46.60" x2="665.00" y2="46.60" stroke="#7433d4" stroke-width="1.1"/>
<text x="666.56" y="48.70" style="font-family:'Liberation Serif',serif;font-size:4.50px" fill="#1e1e1e" stroke="#1e1e1e" stroke-width="0.1">TN</text>
<text x="295.69" y="183.10" style="font-family:'Liberation Sans',sans-serif;font-size:6.98px" fill="#333333" stroke="#333333" stroke-width="0.16">HER2 patient</text>
<text x="376.08" y="183.10" style="font-family:'Liberation Sans',sans-serif;font-size:6.92px" fill="#333333" stroke="#333333" stroke-width="0.16">TN patient</text>
<g transform="translate(296.4 202.65) scale(1 0.9520)"><circle cx="0" cy="0" r="12.5" fill="#b3d9f4"/>
<path d="M0,0 L0.00,-12.50 A12.5,12.5 0 0 1 12.35,1.96 Z" fill="#d9775e"/>
</g>
<g transform="translate(346.1 202.65) scale(1 0.9520)"><circle cx="0" cy="0" r="12.5" fill="#b3d9f4"/>
<path d="M0,0 L0.00,-12.50 A12.5,12.5 0 1 1 -12.50,0.00 Z" fill="#d9775e"/>
</g>
<g transform="translate(395.6 202.65) scale(1 0.9520)"><circle cx="0" cy="0" r="12.5" fill="#b3d9f4"/>
<path d="M0,0 L0.00,-12.50 A12.5,12.5 0 1 1 -1.57,-12.40 Z" fill="#d9775e"/>
</g>
<rect x="284.2" y="217.7" width="6.2" height="8.8" fill="#b3d9f4"/>
<text x="294.59" y="225.00" style="font-family:'Liberation Sans',sans-serif;font-size:7.02px" fill="#333333" stroke="#333333" stroke-width="0.16">HER2 cells</text>
<rect x="341.3" y="217.7" width="6.4" height="8.8" fill="#d9775e"/>
<text x="350.38" y="225.00" style="font-family:'Liberation Sans',sans-serif;font-size:7.17px" fill="#333333" stroke="#333333" stroke-width="0.16">ER −/HER2− cells</text>
<g transform="translate(295.9 244.6) scale(1 0.9919)"><circle cx="0" cy="0" r="12.4" fill="#7a32c8"/>
<path d="M0,0 L0.00,-12.40 A12.4,12.4 0 0 1 12.30,1.55 Z" fill="#f7692c"/>
</g>
<g transform="translate(346.0 244.6) scale(1 0.9919)"><circle cx="0" cy="0" r="12.4" fill="#7a32c8"/>
<path d="M0,0 L0.00,-12.40 A12.4,12.4 0 1 1 -12.40,0.00 Z" fill="#f7692c"/>
</g>
<g transform="translate(395.6 244.6) scale(1 0.9919)"><circle cx="0" cy="0" r="12.4" fill="#7a32c8"/>
<path d="M0,0 L0.00,-12.40 A12.4,12.4 0 1 1 -0.62,-12.38 Z" fill="#f7692c"/>
</g>
<text x="281.63" y="271.00" style="font-family:'Liberation Sans',sans-serif;font-size:6.96px" fill="#222" stroke="#222" stroke-width="0.16">1.6 year</text>
<text x="333.20" y="271.40" style="font-family:'Liberation Sans',sans-serif;font-size:6.97px" fill="#222" stroke="#222" stroke-width="0.16">7.5 years</text>
<text x="381.22" y="271.40" style="font-family:'Liberation Sans',sans-serif;font-size:7.03px" fill="#222" stroke="#222" stroke-width="0.16">15 years</text>
<rect x="295.5" y="283.5" width="6.3" height="8.7" fill="#7a32c8"/>
<text x="304.68" y="291.00" style="font-family:'Liberation Sans',sans-serif;font-size:7.12px" fill="#333333" stroke="#333333" stroke-width="0.16">HER2 cells</text>
<rect x="354.2" y="283.5" width="6.5" height="9.2" fill="#f7692c"/>
<text x="363.17" y="291.00" style="font-family:'Liberation Sans',sans-serif;font-size:7.00px" fill="#333333" stroke="#333333" stroke-width="0.16">TNBC cells</text>
<rect x="482.3" y="180.0" width="173.2" height="112.39999999999998" fill="none" stroke="#d2d2d2" stroke-width="0.6"/>
<text x="478.41" y="294.20" style="font-family:'Liberation Serif',serif;font-size:5.30px" fill="#1e1e1e" stroke="#1e1e1e" stroke-width="0.1">0</text>
<line x1="482.30" y1="292.40" x2="483.50" y2="292.40" stroke="#bbb" stroke-width="0.5"/>
<line x1="655.50" y1="292.40" x2="654.30" y2="292.40" stroke="#bbb" stroke-width="0.5"/>
<text x="478.49" y="271.72" style="font-family:'Liberation Serif',serif;font-size:5.30px" fill="#1e1e1e" stroke="#1e1e1e" stroke-width="0.1">2</text>
<line x1="482.30" y1="269.92" x2="483.50" y2="269.92" stroke="#bbb" stroke-width="0.5"/>
<line x1="655.50" y1="269.92" x2="654.30" y2="269.92" stroke="#bbb" stroke-width="0.5"/>
<text x="478.28" y="249.24" style="font-family:'Liberation Serif',serif;font-size:5.30px" fill="#1e1e1e" stroke="#1e1e1e" stroke-width="0.1">4</text>
<line x1="482.30" y1="247.44" x2="483.50" y2="247.44" stroke="#bbb" stroke-width="0.5"/>
<line x1="655.50" y1="247.44" x2="654.30" y2="247.44" stroke="#bbb" stroke-width="0.5"/>
<text x="478.36" y="226.76" style="font-family:'Liberation Serif',serif;font-size:5.30px" fill="#1e1e1e" stroke="#1e1e1e" stroke-width="0.1">6</text>
<line x1="482.30" y1="224.96" x2="483.50" y2="224.96" stroke="#bbb" stroke-width="0.5"/>
<line x1="655.50" y1="224.96" x2="654.30" y2="224.96" stroke="#bbb" stroke-width="0.5"/>
<text x="478.41" y="204.28" style="font-family:'Liberation Serif',serif;font-size:5.30px" fill="#1e1e1e" stroke="#1e1e1e" stroke-width="0.1">8</text>
<line x1="482.30" y1="202.48" x2="483.50" y2="202.48" stroke="#bbb" stroke-width="0.5"/>
<line x1="655.50" y1="202.48" x2="654.30" y2="202.48" stroke="#bbb" stroke-width="0.5"/>
<text x="475.76" y="181.80" style="font-family:'Liberation Serif',serif;font-size:5.30px" fill="#1e1e1e" stroke="#1e1e1e" stroke-width="0.1">10</text>
<line x1="482.30" y1="180.00" x2="483.50" y2="180.00" stroke="#bbb" stroke-width="0.5"/>
<line x1="655.50" y1="180.00" x2="654.30" y2="180.00" stroke="#bbb" stroke-width="0.5"/>
<text x="480.98" y="299.00" style="font-family:'Liberation Serif',serif;font-size:5.30px" fill="#1e1e1e" stroke="#1e1e1e" stroke-width="0.1">0</text>
<line x1="482.30" y1="292.40" x2="482.30" y2="291.20" stroke="#bbb" stroke-width="0.5"/>
<line x1="482.30" y1="180.00" x2="482.30" y2="181.20" stroke="#bbb" stroke-width="0.5"/>
<text x="496.35" y="299.00" style="font-family:'Liberation Serif',serif;font-size:5.30px" fill="#1e1e1e" stroke="#1e1e1e" stroke-width="0.1">0.2</text>
<line x1="499.62" y1="292.40" x2="499.62" y2="291.20" stroke="#bbb" stroke-width="0.5"/>
<line x1="499.62" y1="180.00" x2="499.62" y2="181.20" stroke="#bbb" stroke-width="0.5"/>
<text x="513.56" y="299.00" style="font-family:'Liberation Serif',serif;font-size:5.30px" fill="#1e1e1e" stroke="#1e1e1e" stroke-width="0.1">0.4</text>
<line x1="516.94" y1="292.40" x2="516.94" y2="291.20" stroke="#bbb" stroke-width="0.5"/>
<line x1="516.94" y1="180.00" x2="516.94" y2="181.20" stroke="#bbb" stroke-width="0.5"/>
<text x="530.92" y="299.00" style="font-family:'Liberation Serif',serif;font-size:5.30px" fill="#1e1e1e" stroke="#1e1e1e" stroke-width="0.1">0.6</text>
<line x1="534.26" y1="292.40" x2="534.26" y2="291.20" stroke="#bbb" stroke-width="0.5"/>
<line x1="534.26" y1="180.00" x2="534.26" y2="181.20" stroke="#bbb" stroke-width="0.5"/>
<text x="548.27" y="299.00" style="font-family:'Liberation Serif',serif;font-size:5.30px" fill="#1e1e1e" stroke="#1e1e1e" stroke-width="0.1">0.8</text>
<line x1="551.58" y1="292.40" x2="551.58" y2="291.20" stroke="#bbb" stroke-width="0.5"/>
<line x1="551.58" y1="180.00" x2="551.58" y2="181.20" stroke="#bbb" stroke-width="0.5"/>
<text x="567.50" y="299.00" style="font-family:'Liberation Serif',serif;font-size:5.30px" fill="#1e1e1e" stroke="#1e1e1e" stroke-width="0.1">1</text>
<line x1="568.90" y1="292.40" x2="568.90" y2="291.20" stroke="#bbb" stroke-width="0.5"/>
<line x1="568.90" y1="180.00" x2="568.90" y2="181.20" stroke="#bbb" stroke-width="0.5"/>
<text x="582.81" y="299.00" style="font-family:'Liberation Serif',serif;font-size:5.30px" fill="#1e1e1e" stroke="#1e1e1e" stroke-width="0.1">1.2</text>
<line x1="586.22" y1="292.40" x2="586.22" y2="291.20" stroke="#bbb" stroke-width="0.5"/>
<line x1="586.22" y1="180.00" x2="586.22" y2="181.20" stroke="#bbb" stroke-width="0.5"/>
<text x="600.03" y="299.00" style="font-family:'Liberation Serif',serif;font-size:5.30px" fill="#1e1e1e" stroke="#1e1e1e" stroke-width="0.1">1.4</text>
<line x1="603.54" y1="292.40" x2="603.54" y2="291.20" stroke="#bbb" stroke-width="0.5"/>
<line x1="603.54" y1="180.00" x2="603.54" y2="181.20" stroke="#bbb" stroke-width="0.5"/>
<text x="617.39" y="299.00" style="font-family:'Liberation Serif',serif;font-size:5.30px" fill="#1e1e1e" stroke="#1e1e1e" stroke-width="0.1">1.6</text>
<line x1="620.86" y1="292.40" x2="620.86" y2="291.20" stroke="#bbb" stroke-width="0.5"/>
<line x1="620.86" y1="180.00" x2="620.86" y2="181.20" stroke="#bbb" stroke-width="0.5"/>
<text x="634.74" y="299.00" style="font-family:'Liberation Serif',serif;font-size:5.30px" fill="#1e1e1e" stroke="#1e1e1e" stroke-width="0.1">1.8</text>
<line x1="638.18" y1="292.40" x2="638.18" y2="291.20" stroke="#bbb" stroke-width="0.5"/>
<line x1="638.18" y1="180.00" x2="638.18" y2="181.20" stroke="#bbb" stroke-width="0.5"/>
<text x="654.20" y="299.00" style="font-family:'Liberation Serif',serif;font-size:5.30px" fill="#1e1e1e" stroke="#1e1e1e" stroke-width="0.1">2</text>
<line x1="655.50" y1="292.40" x2="655.50" y2="291.20" stroke="#bbb" stroke-width="0.5"/>
<line x1="655.50" y1="180.00" x2="655.50" y2="181.20" stroke="#bbb" stroke-width="0.5"/>
<text x="482.84" y="178.80" style="font-family:'Liberation Serif',serif;font-size:5.70px" fill="#1e1e1e" stroke="#1e1e1e" stroke-width="0.05">×</text>
<text x="487.29" y="178.80" style="font-family:'Liberation Serif',serif;font-size:5.70px" fill="#1e1e1e" stroke="#1e1e1e" stroke-width="0.16">10</text>
<text x="493.00" y="175.30" style="font-family:'Liberation Serif',serif;font-size:4.56px" fill="#1e1e1e" stroke="#1e1e1e" stroke-width="0.16">5</text>
<text x="643.14" y="307.10" style="font-family:'Liberation Serif',serif;font-size:5.70px" fill="#1e1e1e" stroke="#1e1e1e" stroke-width="0.05">×</text>
<text x="647.30" y="307.10" style="font-family:'Liberation Serif',serif;font-size:5.70px" fill="#1e1e1e" stroke="#1e1e1e" stroke-width="0.16">10</text>
<text x="653.24" y="303.40" style="font-family:'Liberation Serif',serif;font-size:4.56px" fill="#1e1e1e" stroke="#1e1e1e" stroke-width="0.16">5</text>
<text x="554.56" y="305.30" style="font-family:'Liberation Serif',serif;font-size:6.15px" fill="#1e1e1e" stroke="#1e1e1e" stroke-width="0.1">p50 protein</text>
<text x="473.10" y="250.24" style="font-family:'Liberation Serif',serif;font-size:6.32px" fill="#1e1e1e" stroke="#1e1e1e" stroke-width="0.1" transform="rotate(-90 473.10 250.24)">p65 protein</text>
<line x1="508.30" y1="279.60" x2="514.70" y2="279.60" stroke="#8a32d2" stroke-width="1.15"/>
<line x1="511.50" y1="276.40" x2="511.50" y2="282.80" stroke="#8a32d2" stroke-width="1.15"/>
<line x1="510.10" y1="276.30" x2="514.50" y2="280.70" stroke="#4cc6b6" stroke-width="1.1"/>
<line x1="510.10" y1="280.70" x2="514.50" y2="276.30" stroke="#4cc6b6" stroke-width="1.1"/>
<line x1="506.40" y1="278.60" x2="511.20" y2="283.40" stroke="#eda828" stroke-width="1.1"/>
<line x1="506.40" y1="283.40" x2="511.20" y2="278.60" stroke="#eda828" stroke-width="1.1"/>
<line x1="545.50" y1="263.20" x2="551.90" y2="263.20" stroke="#8a32d2" stroke-width="1.15"/>
<line x1="548.70" y1="260.00" x2="548.70" y2="266.40" stroke="#8a32d2" stroke-width="1.15"/>
<line x1="539.50" y1="262.90" x2="544.30" y2="267.70" stroke="#4cc6b6" stroke-width="1.1"/>
<line x1="539.50" y1="267.70" x2="544.30" y2="262.90" stroke="#4cc6b6" stroke-width="1.1"/>
<line x1="564.20" y1="254.70" x2="569.00" y2="259.50" stroke="#eda828" stroke-width="1.1"/>
<line x1="564.20" y1="259.50" x2="569.00" y2="254.70" stroke="#eda828" stroke-width="1.1"/>
<line x1="609.30" y1="232.30" x2="615.70" y2="232.30" stroke="#8a32d2" stroke-width="1.15"/>
<line x1="612.50" y1="229.10" x2="612.50" y2="235.50" stroke="#8a32d2" stroke-width="1.15"/>
<line x1="615.70" y1="225.70" x2="619.90" y2="229.90" stroke="#4cc6b6" stroke-width="1.1"/>
<line x1="615.70" y1="229.90" x2="619.90" y2="225.70" stroke="#4cc6b6" stroke-width="1.1"/>
<line x1="595.10" y1="240.10" x2="599.90" y2="244.90" stroke="#eda828" stroke-width="1.1"/>
<line x1="595.10" y1="244.90" x2="599.90" y2="240.10" stroke="#eda828" stroke-width="1.1"/>
<line x1="592.50" y1="189.00" x2="598.30" y2="189.00" stroke="#8a32d2" stroke-width="1.15"/>
<line x1="595.40" y1="186.10" x2="595.40" y2="191.90" stroke="#8a32d2" stroke-width="1.15"/>
<text x="602.15" y="191.20" style="font-family:'Liberation Serif',serif;font-size:6.17px" fill="#1e1e1e" stroke="#1e1e1e" stroke-width="0.1">WT</text>
<line x1="593.40" y1="197.90" x2="597.40" y2="201.90" stroke="#4cc6b6" stroke-width="1.1"/>
<line x1="593.40" y1="201.90" x2="597.40" y2="197.90" stroke="#4cc6b6" stroke-width="1.1"/>
<text x="601.65" y="201.60" style="font-family:'Liberation Serif',serif;font-size:6.86px" fill="#1e1e1e" stroke="#1e1e1e" stroke-width="0.16">p65 low degrad</text>
<line x1="592.90" y1="209.50" x2="597.30" y2="213.90" stroke="#eda828" stroke-width="1.1"/>
<line x1="592.90" y1="213.90" x2="597.30" y2="209.50" stroke="#eda828" stroke-width="1.1"/>
<text x="601.64" y="213.30" style="font-family:'Liberation Serif',serif;font-size:7.01px" fill="#1e1e1e" stroke="#1e1e1e" stroke-width="0.16">p65 high degrad</text>
<text x="492.04" y="257.50" style="font-family:'Liberation Serif',serif;font-size:7.08px" fill="#222" stroke="#222" stroke-width="0.16">HER2</text>
<text x="485.69" y="265.30" style="font-family:'Liberation Serif',serif;font-size:7.15px" fill="#222" stroke="#222" stroke-width="0.16">Stationary</text>
<text x="493.49" y="274.00" style="font-family:'Liberation Serif',serif;font-size:7.05px" fill="#222" stroke="#222" stroke-width="0.16">State</text>
<text x="538.80" y="238.50" style="font-family:'Liberation Serif',serif;font-size:7.26px" fill="#222" stroke="#222" stroke-width="0.16">Unstable</text>
<text x="536.38" y="246.40" style="font-family:'Liberation Serif',serif;font-size:7.20px" fill="#222" stroke="#222" stroke-width="0.16">Stationary</text>
<text x="543.96" y="255.00" style="font-family:'Liberation Serif',serif;font-size:7.58px" fill="#222" stroke="#222" stroke-width="0.16">State</text>
<text x="605.31" y="246.50" style="font-family:'Liberation Serif',serif;font-size:7.10px" fill="#222" stroke="#222" stroke-width="0.16">TNBC</text>
<text x="599.48" y="254.40" style="font-family:'Liberation Serif',serif;font-size:7.23px" fill="#222" stroke="#222" stroke-width="0.16">Stationary</text>
<text x="606.96" y="263.00" style="font-family:'Liberation Serif',serif;font-size:7.47px" fill="#222" stroke="#222" stroke-width="0.16">State</text>
</svg></body></html>
